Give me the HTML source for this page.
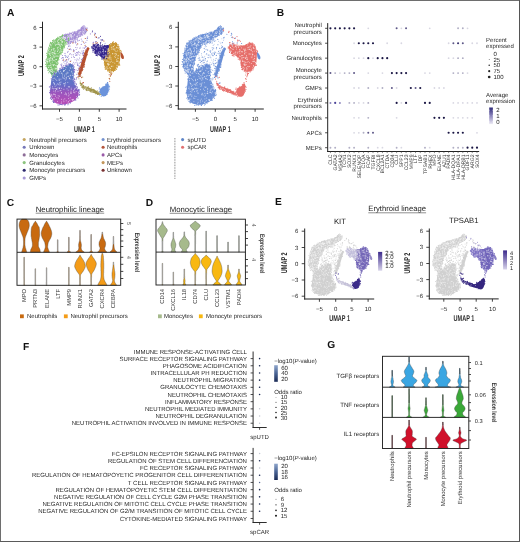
<!DOCTYPE html>
<html><head><meta charset="utf-8"><style>
html,body{margin:0;padding:0;background:#fff;}
svg{display:block;will-change:transform;}
text{font-family:"Liberation Sans", sans-serif;text-rendering:geometricPrecision;}
.t{stroke:#1e1e1e;stroke-width:0.1px;}
</style></head><body>
<svg width="520" height="542" viewBox="0 0 520 542">
<defs>
<linearGradient id="gB" x1="0" y1="0" x2="0" y2="1"><stop offset="0" stop-color="#2e2a78"/><stop offset="0.5" stop-color="#8d86bd"/><stop offset="1" stop-color="#eceaf4"/></linearGradient>
<linearGradient id="gE" x1="0" y1="0" x2="0" y2="1"><stop offset="0" stop-color="#3c2a8c"/><stop offset="1" stop-color="#d8d4ea"/></linearGradient>
<linearGradient id="gF" x1="0" y1="0" x2="0" y2="1"><stop offset="0" stop-color="#8fa6cc"/><stop offset="0.5" stop-color="#4a6494"/><stop offset="1" stop-color="#1a2a55"/></linearGradient>
<linearGradient id="gUnk" gradientUnits="userSpaceOnUse" x1="0" y1="74" x2="0" y2="102"><stop offset="0" stop-color="#5a78c4"/><stop offset="0.35" stop-color="#6270c8"/><stop offset="0.5" stop-color="#7464c4"/><stop offset="0.62" stop-color="#9656be"/><stop offset="1" stop-color="#b44eb8"/></linearGradient>
<linearGradient id="gGran" gradientUnits="userSpaceOnUse" x1="0" y1="36" x2="0" y2="76"><stop offset="0" stop-color="#80c472"/><stop offset="0.85" stop-color="#78c06a"/><stop offset="1" stop-color="#5a9a8a"/></linearGradient>
</defs>
<rect x="0" y="0" width="520" height="542" fill="#fff"/>
<rect x="0" y="0" width="520" height="1" fill="#6e6e6e"/>
<rect x="0" y="0" width="1" height="542" fill="#6e6e6e"/>
<rect x="519" y="0" width="1" height="542" fill="#555"/>
<rect x="0" y="541" width="520" height="1" fill="#5a5a5a"/>
<text transform="translate(6.9,15.9)" font-size="10.2" text-anchor="start" fill="#111" font-weight="bold">A</text>
<text transform="translate(276.7,15.9)" font-size="10.2" text-anchor="start" fill="#111" font-weight="bold">B</text>
<text transform="translate(6.7,205.5)" font-size="10.2" text-anchor="start" fill="#111" font-weight="bold">C</text>
<text transform="translate(145.7,205.7)" font-size="10.2" text-anchor="start" fill="#111" font-weight="bold">D</text>
<text transform="translate(275.1,205.4)" font-size="10.2" text-anchor="start" fill="#111" font-weight="bold">E</text>
<text transform="translate(23,349.5)" font-size="10.2" text-anchor="start" fill="#111" font-weight="bold">F</text>
<text transform="translate(327.3,348.1)" font-size="10.2" text-anchor="start" fill="#111" font-weight="bold">G</text>
<g transform="translate(0,0)">
<path d="M62.4,35.8 C61.07,36.1 59.32,37.1 58,37.8 C56.68,38.5 55.58,39.22 54.5,40 C53.42,40.78 52.33,41.67 51.5,42.5 C50.67,43.33 50.03,44 49.5,45 C48.97,46 48.63,47.33 48.3,48.5 C47.97,49.67 47.72,50.65 47.5,52 C47.28,53.35 47.17,55.1 47,56.6 C46.83,58.1 46.62,59.77 46.5,61 C46.38,62.23 46.25,62.92 46.3,64 C46.35,65.08 46.47,66.42 46.8,67.5 C47.13,68.58 47.72,69.55 48.3,70.5 C48.88,71.45 49.6,72.32 50.3,73.2 C51,74.08 51.72,75.42 52.5,75.8 C53.28,76.18 54.37,76.13 55,75.5 C55.63,74.87 56,73.25 56.3,72 C56.6,70.75 56.63,69.17 56.8,68 C56.97,66.83 57.13,65.88 57.3,65 C57.47,64.12 57.43,64.03 57.8,62.7 C58.17,61.37 58.75,59.03 59.5,57 C60.25,54.97 61.3,52.42 62.3,50.5 C63.3,48.58 64.55,47.08 65.5,45.5 C66.45,43.92 67.5,42.25 68,41 C68.5,39.75 68.83,38.83 68.5,38 C68.17,37.17 67.02,36.37 66,36 C64.98,35.63 63.73,35.5 62.4,35.8Z" fill="url(#gGran)"/>
<path d="M52.3,76.5 C52.95,75.37 54.17,74.2 55.2,73.2 C56.23,72.2 57.37,71.28 58.5,70.5 C59.63,69.72 60.82,69.2 62,68.5 C63.18,67.8 64.6,66.97 65.6,66.3 C66.6,65.63 67.27,64.93 68,64.5 C68.73,64.07 69.33,63.75 70,63.7 C70.67,63.65 71.43,63.9 72,64.2 C72.57,64.5 73.07,64.53 73.4,65.5 C73.73,66.47 73.93,68.42 74,70 C74.07,71.58 73.87,73.45 73.8,75 C73.73,76.55 73.48,77.97 73.6,79.3 C73.72,80.63 74.1,81.8 74.5,83 C74.9,84.2 75.47,85.53 76,86.5 C76.53,87.47 77.27,87.97 77.7,88.8 C78.13,89.63 78.45,90.48 78.6,91.5 C78.75,92.52 78.87,93.85 78.6,94.9 C78.33,95.95 77.58,96.95 77,97.8 C76.42,98.65 75.93,99.3 75.1,100 C74.27,100.7 73.15,101.42 72,102 C70.85,102.58 69.45,103.1 68.2,103.5 C66.95,103.9 65.65,104.25 64.5,104.4 C63.35,104.55 62.38,104.5 61.3,104.4 C60.22,104.3 59.02,104.08 58,103.8 C56.98,103.52 56.07,103.28 55.2,102.7 C54.33,102.12 53.52,101.32 52.8,100.3 C52.08,99.28 51.37,97.82 50.9,96.6 C50.43,95.38 50.1,94.35 50,93 C49.9,91.65 50.15,90 50.3,88.5 C50.45,87 50.73,85.42 50.9,84 C51.07,82.58 51.07,81.25 51.3,80 C51.53,78.75 51.65,77.63 52.3,76.5Z" fill="url(#gUnk)"/>
<path d="M62,36.5 C62,36 63,35.5 64,35 C65,34.5 66.67,33.92 68,33.5 C69.33,33.08 70.67,32.83 72,32.5 C73.33,32.17 74.9,31.83 76,31.5 C77.1,31.17 77.88,31 78.6,30.5 C79.32,30 79.82,29.12 80.3,28.5 C80.78,27.88 80.97,27.18 81.5,26.8 C82.03,26.42 82.83,26.17 83.5,26.2 C84.17,26.23 84.98,26.53 85.5,27 C86.02,27.47 86.47,28.25 86.6,29 C86.73,29.75 86.65,30.75 86.3,31.5 C85.95,32.25 85.22,32.92 84.5,33.5 C83.78,34.08 82.83,34.5 82,35 C81.17,35.5 80.33,35.92 79.5,36.5 C78.67,37.08 77.83,37.75 77,38.5 C76.17,39.25 75.33,40.33 74.5,41 C73.67,41.67 72.83,42.17 72,42.5 C71.17,42.83 70.25,43.08 69.5,43 C68.75,42.92 68.08,42.58 67.5,42 C66.92,41.42 66.58,40.17 66,39.5 C65.42,38.83 64.67,38.5 64,38 C63.33,37.5 62,37 62,36.5Z" fill="#a58ed6"/>
<path d="M92.2,47.1 C92.35,46.03 93.6,44.57 94.4,44.1 C95.2,43.63 96.13,44.17 97,44.3 C97.87,44.43 98.45,44.58 99.6,44.9 C100.75,45.22 102.6,45.68 103.9,46.2 C105.2,46.72 106.65,47.37 107.4,48 C108.15,48.63 108.27,49.28 108.4,50 C108.53,50.72 108.35,51.38 108.2,52.3 C108.05,53.22 107.78,54.5 107.5,55.5 C107.22,56.5 106.92,57.63 106.5,58.3 C106.08,58.97 105.43,59.35 105,59.5 C104.57,59.65 104.48,59.53 103.9,59.2 C103.32,58.87 102.22,58.08 101.5,57.5 C100.78,56.92 100.5,56.28 99.6,55.7 C98.7,55.12 96.95,54.53 96.1,54 C95.25,53.47 94.93,53.08 94.5,52.5 C94.07,51.92 93.88,51.4 93.5,50.5 C93.12,49.6 92.05,48.17 92.2,47.1Z" fill="#35268e"/>
<path d="M104,45.8 C104.5,44.8 107.33,45.33 108.5,45 C109.67,44.67 110.67,42.97 111,43.8 C111.33,44.63 110.87,48.13 110.5,50 C110.13,51.87 109.55,53.42 108.8,55 C108.05,56.58 106.72,59.17 106,59.5 C105.28,59.83 104.58,58.42 104.5,57 C104.42,55.58 105.58,52.87 105.5,51 C105.42,49.13 103.5,46.8 104,45.8Z" fill="#35268e"/>
<path d="M110.8,43.6 C111.65,43.07 113.22,42.65 114.3,42.8 C115.38,42.95 116.43,43.63 117.3,44.5 C118.17,45.37 119,46.75 119.5,48 C120,49.25 120.17,50.85 120.3,52 C120.43,53.15 120.37,53.27 120.3,54.9 C120.23,56.53 120.13,60.2 119.9,61.8 C119.67,63.4 119.23,63.68 118.9,64.5 C118.57,65.32 118.42,65.9 117.9,66.7 C117.38,67.5 116.52,68.58 115.8,69.3 C115.08,70.02 114.55,70.58 113.6,71 C112.65,71.42 111.03,71.83 110.1,71.8 C109.17,71.77 108.57,71.23 108,70.8 C107.43,70.37 107.17,69.83 106.7,69.2 C106.23,68.57 105.63,67.72 105.2,67 C104.77,66.28 104.32,65.73 104.1,64.9 C103.88,64.07 103.78,62.9 103.9,62 C104.02,61.1 104.3,60.4 104.8,59.5 C105.3,58.6 106.4,57.68 106.9,56.6 C107.4,55.52 107.58,54.15 107.8,53 C108.02,51.85 107.97,50.87 108.2,49.7 C108.43,48.53 108.77,47.02 109.2,46 C109.63,44.98 109.95,44.13 110.8,43.6Z" fill="#c99632"/>
<path d="M120.6,51.8 C120.85,51.3 121.77,52.72 122.3,53.5 C122.83,54.28 123.58,55.62 123.8,56.5 C124.02,57.38 123.9,58.42 123.6,58.8 C123.3,59.18 122.47,59.18 122,58.8 C121.53,58.42 121.03,57.67 120.8,56.5 C120.57,55.33 120.35,52.3 120.6,51.8Z" fill="#b5502f"/>
<path d="M100.6,88.3 C101.13,87.7 102.27,87.23 103,86.8 C103.73,86.37 104.25,86.32 105,85.7 C105.75,85.08 106.87,83.25 107.5,83.1 C108.13,82.95 108.58,83.98 108.8,84.8 C109.02,85.62 108.93,86.7 108.8,88 C108.67,89.3 108.3,91.5 108,92.6 C107.7,93.7 107.37,94.02 107,94.6 C106.63,95.18 106.43,95.78 105.8,96.1 C105.17,96.42 103.92,96.58 103.2,96.5 C102.48,96.42 101.93,95.97 101.5,95.6 C101.07,95.23 100.88,94.82 100.6,94.3 C100.32,93.78 99.93,93.15 99.8,92.5 C99.67,91.85 99.67,91.1 99.8,90.4 C99.93,89.7 100.07,88.9 100.6,88.3Z" fill="#6b93db"/>
<path d="M80.7,83.1 C81.23,83.15 82.75,85.02 84.2,85.8 C85.65,86.58 87.82,87.17 89.4,87.8 C90.98,88.43 92.43,89.03 93.7,89.6 C94.97,90.17 96.13,90.75 97,91.2 C97.87,91.65 98.43,91.78 98.9,92.3 C99.37,92.82 100.03,93.97 99.8,94.3 C99.57,94.63 98.23,94.43 97.5,94.3 C96.77,94.17 96.28,93.8 95.4,93.5 C94.52,93.2 93.07,92.8 92.2,92.5 C91.33,92.2 90.98,92.02 90.2,91.7 C89.42,91.38 88.22,90.88 87.5,90.6 C86.78,90.32 86.55,90.33 85.9,90 C85.25,89.67 84.17,89.03 83.6,88.6 C83.03,88.17 82.93,87.92 82.5,87.4 C82.07,86.88 81.3,86.22 81,85.5 C80.7,84.78 80.17,83.05 80.7,83.1Z" fill="#a0944a"/>
<path d="M87.2,47.4 C87.73,47.1 89.07,47.43 89.2,48.2 C89.33,48.97 88.43,50.53 88,52 C87.57,53.47 87.07,55.33 86.6,57 C86.13,58.67 85.68,60.42 85.2,62 C84.72,63.58 84.23,65 83.7,66.5 C83.17,68 82.52,69.58 82,71 C81.48,72.42 81,74 80.6,75 C80.2,76 79.97,76.75 79.6,77 C79.23,77.25 78.57,77.17 78.4,76.5 C78.23,75.83 78.4,74.33 78.6,73 C78.8,71.67 79.18,70.08 79.6,68.5 C80.02,66.92 80.57,65.25 81.1,63.5 C81.63,61.75 82.22,59.75 82.8,58 C83.38,56.25 84.07,54.33 84.6,53 C85.13,51.67 85.57,50.93 86,50 C86.43,49.07 86.67,47.7 87.2,47.4Z" fill="#b5502f"/>
<path d="M48.0 51.0h0M46.9 55.3h0M65.8 35.8h0M49.6 45.1h0M62.1 50.7h0M67.2 42.5h0M62.2 51.7h0M62.4 35.7h0M62.8 35.9h0M47.9 70.5h0M56.4 71.3h0M56.7 69.7h0M55.4 75.1h0M56.4 38.5h0M45.5 64.2h0M57.7 64.1h0M48.1 49.9h0M48.6 48.3h0M46.5 61.2h0M45.9 61.3h0M58.1 63.3h0M46.6 53.3h0M61.1 53.7h0M62.6 52.0h0M69.0 37.8h0M56.3 71.8h0M50.6 42.4h0M66.0 44.5h0M56.7 69.5h0M46.1 59.2h0M53.8 39.9h0M68.6 38.6h0M59.3 36.7h0M50.3 43.1h0M67.2 42.6h0M63.4 36.1h0M57.4 64.4h0M50.2 43.3h0M57.0 68.0h0M51.5 76.0h0M60.4 36.9h0M50.2 43.8h0M46.5 61.2h0M59.0 59.8h0M61.8 52.6h0M68.6 39.1h0M57.6 37.2h0M67.0 35.5h0M62.7 34.9h0M61.8 52.4h0M48.7 47.5h0M56.9 69.7h0M68.2 38.0h0M50.9 42.8h0M68.4 40.5h0M46.4 62.2h0M61.3 54.0h0M64.6 47.0h0M45.7 61.3h0M46.1 66.4h0M57.9 62.5h0M46.5 59.0h0M68.7 40.3h0M64.0 47.9h0M62.1 35.4h0M53.4 41.0h0M62.9 49.7h0M62.7 50.5h0M52.5 40.6h0M48.7 72.7h0" stroke="#7cc26c" stroke-width="1.1" stroke-linecap="round" fill="none"/>
<path d="M78.0 98.0h0M73.7 74.8h0M54.8 71.9h0M70.5 102.9h0M72.8 64.0h0M62.3 67.8h0M62.7 68.2h0M74.1 67.0h0M53.6 102.5h0M51.4 99.5h0M77.0 86.5h0M60.3 68.2h0M52.2 98.8h0M62.1 67.6h0M78.2 89.9h0M50.5 86.0h0M50.3 92.3h0M79.1 91.2h0M74.1 66.8h0M73.8 80.7h0M64.6 104.8h0M56.9 70.8h0M65.7 104.0h0M74.7 81.5h0M58.1 104.9h0M75.8 99.9h0M62.4 67.9h0M73.9 75.3h0M78.3 90.6h0M50.2 90.6h0M53.5 101.1h0M51.2 78.8h0M79.6 94.2h0M64.9 105.1h0M79.2 90.1h0M67.9 104.7h0M52.2 98.6h0M79.3 92.6h0M69.5 64.1h0M49.6 92.8h0M76.0 86.8h0M74.5 79.6h0M60.3 104.5h0M73.4 65.5h0M74.5 69.4h0M61.3 104.5h0M53.5 102.0h0M76.4 84.7h0M49.4 86.9h0M50.4 98.2h0M74.9 100.0h0M74.4 78.2h0M54.1 74.0h0M54.4 73.4h0M62.2 104.8h0M75.0 83.1h0M68.8 103.8h0M59.8 68.9h0M76.2 83.8h0M52.4 101.0h0M77.4 87.6h0M77.4 96.6h0M65.0 104.8h0M74.6 72.1h0M65.8 65.2h0M49.8 92.2h0M50.8 97.3h0M63.5 67.3h0M74.2 71.2h0M75.6 86.1h0M79.0 89.3h0M62.3 67.8h0M59.5 104.7h0M74.0 70.6h0M54.2 102.4h0M66.6 65.1h0M60.1 69.3h0M79.3 95.1h0M79.1 95.3h0M52.8 75.7h0" stroke="#7a60c4" stroke-width="1.1" stroke-linecap="round" fill="none"/>
<path d="M84.8 33.9h0M75.9 39.4h0M77.3 38.7h0M75.0 31.8h0M68.3 43.4h0M78.6 37.3h0M72.9 32.0h0M80.4 36.1h0M66.4 40.9h0M63.7 38.1h0M69.1 43.7h0M77.9 30.4h0M86.5 31.5h0M77.2 38.8h0M70.5 43.4h0M84.6 34.1h0M80.9 35.7h0M80.0 36.4h0M79.0 30.1h0M74.9 40.5h0M67.7 41.9h0M65.7 40.9h0M82.7 34.9h0M82.6 26.2h0M87.0 27.7h0M86.7 30.9h0M69.8 32.7h0M80.3 36.1h0M74.3 31.8h0M78.7 30.1h0M70.2 43.5h0M62.2 37.0h0M83.9 25.6h0M73.8 42.4h0M63.1 37.8h0M87.1 28.6h0M84.8 26.3h0M65.3 39.1h0M64.2 34.5h0M65.7 34.1h0M81.4 44.5h0M78.0 72.8h0M65.0 53.4h0M71.6 57.3h0M77.8 40.9h0M73.7 62.2h0M79.6 66.7h0M74.1 51.8h0M84.3 43.3h0M73.9 81.5h0M66.6 60.0h0M75.6 41.6h0M74.7 64.0h0M63.8 62.0h0M63.3 59.0h0M79.8 55.1h0M73.8 42.1h0M82.4 58.4h0M68.1 64.4h0M84.9 33.0h0M69.8 49.4h0M61.6 66.3h0M85.5 32.0h0M86.5 49.2h0M83.7 50.5h0M62.6 60.2h0M75.6 42.9h0M85.8 46.6h0M61.5 65.6h0M65.0 63.7h0M67.7 44.1h0M67.7 48.3h0M75.9 62.6h0M60.8 64.7h0M82.3 35.1h0M61.7 58.3h0M85.8 32.7h0M79.9 66.4h0M70.4 48.9h0M77.9 53.1h0M70.5 63.5h0M79.1 69.8h0M70.9 60.7h0M85.0 47.5h0M78.9 69.0h0M68.9 58.3h0M78.3 68.1h0M76.5 52.6h0M67.0 59.7h0M81.6 61.2h0M62.6 57.5h0M75.7 47.5h0M71.8 54.8h0M69.8 41.8h0M83.5 52.7h0M70.2 53.6h0M77.4 52.6h0M77.4 64.6h0M83.5 56.7h0M79.2 52.3h0M74.2 50.5h0M63.6 65.6h0M84.5 48.5h0M77.2 47.8h0M77.3 39.8h0M76.4 78.1h0M83.1 55.5h0M79.9 48.5h0M75.9 79.7h0M81.3 39.1h0M62.9 66.2h0M77.6 70.5h0M76.2 49.5h0M105.1 43.2h0M98.1 38.1h0M94.9 33.0h0M93.6 42.4h0M96.2 44.0h0M101.3 40.8h0M95.2 37.0h0M93.1 42.2h0M90.4 33.9h0M92.2 32.1h0" stroke="#a58ed6" stroke-width="1.1" stroke-linecap="round" fill="none"/>
<path d="M107.7 47.2h0M106.2 58.7h0M101.8 58.9h0M97.2 44.3h0M96.5 54.8h0M92.8 48.9h0M93.0 52.1h0M95.7 55.0h0M91.8 48.0h0M98.5 44.9h0M97.6 55.7h0M94.9 53.1h0M93.5 50.2h0M98.5 44.3h0M95.5 53.5h0M107.6 47.0h0M106.6 58.3h0M108.8 54.6h0M107.9 56.0h0M91.8 47.2h0M103.0 58.9h0M92.9 50.6h0M93.9 44.4h0M105.5 46.9h0M106.7 47.1h0M107.2 56.5h0M101.6 57.5h0M96.9 43.6h0M96.6 55.4h0M102.5 44.9h0M104.2 45.5h0M105.3 47.1h0M108.5 52.9h0M93.0 45.0h0M103.3 46.3h0M104.4 45.4h0M93.9 44.5h0M107.2 57.1h0M94.7 52.9h0M91.8 46.6h0M102.7 40.0h0M100.5 43.9h0M95.3 33.8h0M92.5 31.1h0M100.7 42.6h0M101.1 39.7h0M96.0 41.5h0M100.5 36.3h0M99.0 37.8h0M102.4 39.9h0" stroke="#35268e" stroke-width="1.1" stroke-linecap="round" fill="none"/>
<path d="M118.7 64.3h0M109.5 44.6h0M106.4 69.0h0M113.4 41.9h0M106.4 57.4h0M115.3 70.3h0M106.0 69.5h0M103.8 59.8h0M120.3 50.3h0M119.3 63.9h0M112.6 42.4h0M104.9 67.2h0M105.6 58.0h0M115.6 42.6h0M113.6 71.6h0M116.3 43.4h0M107.3 51.1h0M114.3 70.4h0M105.2 68.9h0M107.4 52.0h0M108.1 49.6h0M121.1 51.4h0M106.4 68.6h0M118.2 44.9h0M119.7 65.0h0M110.7 44.0h0M118.8 65.0h0M119.8 65.1h0M107.7 70.6h0M117.1 67.6h0M116.6 69.5h0M120.9 50.7h0M105.6 68.8h0M104.4 58.7h0M105.6 68.8h0M107.4 53.8h0M113.6 70.8h0M118.9 46.6h0M106.9 56.6h0M105.4 56.8h0M108.9 71.1h0M105.5 66.9h0M110.0 44.7h0M117.9 44.5h0M107.8 70.9h0M109.1 45.3h0M103.5 59.9h0M116.6 43.4h0M106.1 57.4h0M120.1 53.2h0M109.1 78.3h0M110.8 72.8h0M110.9 73.7h0M109.4 72.4h0M112.0 73.1h0M110.3 76.4h0M111.0 73.9h0" stroke="#c99632" stroke-width="1.1" stroke-linecap="round" fill="none"/>
<path d="M109.6 86.9h0M107.4 82.6h0M107.7 82.6h0M109.2 86.1h0M101.3 96.3h0M108.3 89.8h0M107.8 92.3h0M99.5 94.9h0M108.8 91.0h0M106.3 83.9h0M99.3 89.0h0M108.6 90.9h0M99.6 87.8h0M103.1 86.6h0M109.4 89.1h0M105.8 84.4h0M107.0 94.4h0M108.6 90.1h0M99.7 91.2h0M99.7 92.2h0" stroke="#6b93db" stroke-width="1.1" stroke-linecap="round" fill="none"/>
<path d="M88.2 86.6h0M80.2 82.7h0M98.4 94.5h0M87.0 90.6h0M97.5 94.5h0M97.2 90.9h0M81.7 83.9h0M91.3 87.9h0M80.7 85.2h0M80.9 83.3h0M80.3 83.3h0M81.9 87.3h0M98.6 92.0h0M86.2 90.1h0M82.8 87.6h0M95.6 93.8h0M91.1 92.1h0M88.0 87.4h0M83.5 85.3h0M81.7 86.9h0M80.2 83.7h0M92.7 89.3h0M83.5 89.1h0M97.3 94.3h0M80.3 82.8h0M94.1 89.6h0M99.6 93.9h0M82.9 88.2h0M100.4 94.6h0M93.7 89.4h0" stroke="#a0944a" stroke-width="1.1" stroke-linecap="round" fill="none"/>
<path d="M79.8 67.7h0M84.3 65.8h0M85.9 49.7h0M82.3 60.3h0M82.2 70.8h0M89.0 48.8h0M79.7 68.3h0M85.0 52.2h0M84.6 64.5h0M82.6 69.2h0M81.4 73.0h0M82.9 69.6h0M83.4 55.5h0M79.2 68.8h0M78.2 74.1h0M84.2 66.9h0M83.5 67.1h0M84.4 53.5h0M80.5 62.2h0M83.8 55.2h0M79.2 69.1h0M84.3 53.5h0M85.6 51.1h0M80.7 75.0h0M78.0 77.2h0M82.5 70.6h0M78.5 73.1h0M87.5 54.8h0M79.0 70.0h0M78.0 76.9h0M63.7 60.1h0M69.2 49.3h0M70.3 61.5h0M81.3 62.8h0M66.3 59.7h0M85.3 38.5h0M72.9 42.9h0M83.6 42.0h0M83.4 58.1h0M85.1 45.3h0M73.4 51.0h0M77.7 43.9h0M87.1 30.3h0M94.6 34.9h0M86.7 29.4h0M96.5 37.4h0M103.9 41.0h0M93.1 43.7h0M95.8 42.9h0M97.4 42.8h0M96.1 36.8h0M96.2 43.0h0M109.7 78.9h0M109.2 74.7h0M111.0 72.7h0M109.8 81.2h0M110.8 75.5h0M109.6 78.7h0M111.2 74.4h0M80.7 76.5h0M83.5 82.6h0M81.5 77.6h0M83.1 82.7h0M82.5 83.1h0" stroke="#b5502f" stroke-width="1.1" stroke-linecap="round" fill="none"/>
<path d="M73.4 54.8h0M80.1 68.7h0M69.7 54.3h0M82.8 58.5h0M76.9 55.3h0M76.7 74.3h0M80.8 53.1h0M68.7 42.3h0M68.7 46.4h0M76.4 54.8h0M78.1 65.1h0M87.0 40.2h0M79.2 40.4h0M74.4 57.5h0M66.8 65.3h0M82.6 53.9h0M66.7 62.0h0M67.6 52.2h0M77.1 59.1h0M73.8 70.5h0M73.8 70.0h0M76.7 44.9h0M75.9 42.2h0M62.4 55.5h0M76.7 60.7h0" stroke="#9a86d2" stroke-width="1.1" stroke-linecap="round" fill="none"/>
<path d="M83.6 53.9h0M67.6 62.1h0M59.8 68.3h0M75.3 53.6h0M81.2 44.2h0M78.8 59.9h0M75.6 40.1h0M78.7 75.4h0M68.7 63.6h0M87.6 36.9h0M85.3 47.0h0M83.1 47.9h0M75.0 59.7h0M78.0 54.2h0M80.6 62.5h0M87.3 37.3h0M70.0 46.1h0M73.3 65.3h0M76.0 69.9h0M71.2 49.8h0M66.6 63.3h0M80.1 47.2h0M76.3 79.2h0M83.7 33.3h0" stroke="#b4a0dc" stroke-width="1.1" stroke-linecap="round" fill="none"/>
<path d="M85.5 32.6h0M82.4 53.0h0M81.6 59.6h0M73.6 56.7h0M61.8 64.1h0M65.2 65.4h0M79.6 58.0h0M85.8 42.3h0M82.0 51.0h0M79.1 66.1h0M68.5 59.8h0M86.1 46.6h0M84.0 55.0h0M65.7 57.2h0M65.0 61.2h0M77.3 63.1h0M74.9 82.1h0M76.4 77.7h0M77.7 65.4h0M79.2 63.1h0M65.5 60.7h0M62.0 67.7h0M68.1 51.3h0M78.4 51.7h0" stroke="#8c80cc" stroke-width="1.1" stroke-linecap="round" fill="none"/>
<path d="M65.1 55.4h0M75.8 55.3h0M68.2 56.1h0M67.4 57.5h0M66.1 56.3h0M63.1 57.6h0M83.4 52.1h0M87.3 38.4h0M73.6 49.9h0M69.0 45.0h0M82.1 41.1h0M85.9 31.8h0" stroke="#7a7ccc" stroke-width="1.1" stroke-linecap="round" fill="none"/>
<path d="M79.8 76.0h0M78.9 78.8h0M82.7 77.1h0M79.4 76.0h0M80.2 81.0h0" stroke="#a89a55" stroke-width="1.1" stroke-linecap="round" fill="none"/>
<path d="M62.2 38.2h0M61.0 43.8h0M50.6 51.9h0M60.2 46.7h0M52.2 59.0h0M57.6 51.4h0M60.0 44.9h0M60.4 48.3h0M62.8 41.5h0M65.7 38.3h0M59.4 55.2h0M54.6 57.2h0M56.3 68.2h0M57.3 51.3h0M49.6 59.0h0M60.3 46.0h0M51.0 45.6h0M52.5 59.0h0M55.0 68.1h0M56.6 59.4h0M55.4 54.0h0M47.7 69.2h0M48.0 58.2h0M62.4 41.7h0M59.7 44.8h0M55.0 51.4h0M48.5 53.2h0M48.3 50.8h0M64.1 37.6h0M49.5 54.4h0M52.2 71.2h0M49.7 60.6h0M52.3 43.8h0M55.2 61.8h0M49.6 58.8h0M62.2 42.2h0M53.0 56.9h0M51.9 58.7h0M64.7 44.1h0M55.9 53.4h0M59.5 37.7h0M63.1 39.0h0M52.5 72.5h0M58.4 42.7h0M55.1 56.0h0M47.3 61.0h0M61.9 37.8h0M60.6 38.6h0M58.0 44.4h0M51.4 49.9h0M65.3 44.1h0M50.2 59.2h0M56.5 68.8h0M49.6 61.1h0M57.2 56.1h0M50.9 65.3h0M62.4 45.2h0M53.7 65.8h0M50.8 70.4h0M62.1 42.5h0M49.5 47.4h0M56.3 59.6h0M58.5 39.9h0M61.4 51.4h0M49.0 48.4h0M67.4 37.9h0M54.8 40.9h0M57.6 41.5h0M64.4 42.1h0M55.9 65.3h0M48.0 61.7h0M56.9 63.7h0M53.2 48.4h0M63.7 37.5h0M48.0 49.8h0M49.1 49.4h0M47.1 62.3h0M49.1 70.4h0M50.7 65.7h0M52.4 70.4h0M51.0 64.4h0M53.3 49.5h0M56.1 56.3h0M59.9 52.0h0M55.1 69.6h0M51.9 52.2h0M50.1 55.5h0M49.1 65.9h0M52.4 58.3h0M49.9 53.8h0M50.3 44.8h0M51.0 53.6h0M46.5 61.5h0M58.1 50.4h0M52.2 62.7h0M48.1 65.6h0M55.9 65.7h0M57.1 44.3h0M57.5 48.3h0M59.8 52.6h0M47.8 61.9h0M49.5 70.0h0M51.4 67.1h0M67.4 40.2h0M58.5 44.5h0M53.8 60.5h0M53.8 50.4h0M56.7 62.5h0M52.8 59.7h0M51.2 50.3h0M50.7 63.3h0M53.3 55.6h0M55.4 59.7h0M53.0 68.9h0M61.0 37.4h0M53.9 53.4h0M48.3 50.8h0M53.9 41.7h0M55.2 44.7h0M66.7 42.9h0M54.8 56.9h0M64.2 39.0h0M59.0 56.2h0M51.7 68.8h0M66.5 42.8h0M49.2 60.6h0M54.1 54.8h0M65.3 44.1h0M58.7 39.8h0M63.7 47.9h0M58.2 43.0h0M61.7 39.6h0M51.1 45.0h0M57.3 40.4h0M49.6 51.8h0M56.6 66.0h0M54.0 75.1h0M54.6 53.5h0M52.3 69.3h0M47.5 61.4h0M58.1 49.5h0M52.7 64.8h0M58.6 47.2h0M57.3 47.5h0M53.9 71.4h0M61.6 44.3h0M48.6 59.2h0M52.2 72.0h0M58.0 43.1h0M50.4 57.6h0M50.0 60.9h0M64.5 37.6h0M58.0 56.3h0M56.2 44.5h0M54.3 64.7h0M50.0 70.1h0M53.4 74.0h0M62.9 37.9h0M55.5 73.1h0M65.5 38.0h0M51.8 49.6h0M60.5 40.5h0M61.8 40.5h0M59.2 43.0h0M53.9 64.5h0M59.9 38.8h0M57.5 61.8h0M51.4 71.7h0M55.3 68.4h0M58.1 53.6h0M54.8 43.1h0M61.3 44.7h0M64.3 39.6h0M50.2 67.4h0M65.3 40.7h0M54.2 60.3h0M60.4 50.0h0M49.7 62.0h0M50.1 71.0h0M52.3 52.9h0M49.6 53.4h0M50.6 58.1h0M55.1 50.6h0M52.4 52.6h0M51.5 69.6h0M54.1 48.9h0M51.2 57.0h0M59.2 39.1h0M52.3 61.0h0M63.4 36.6h0M52.6 74.9h0M54.5 53.0h0M49.7 65.7h0M50.4 55.2h0M51.2 47.1h0M59.6 45.0h0M48.3 67.3h0M51.0 60.5h0M53.5 52.4h0M47.6 59.4h0M61.6 41.7h0M51.1 71.4h0M65.1 45.5h0M54.7 52.0h0M53.8 64.9h0M64.5 39.2h0M52.3 54.4h0M56.9 55.9h0M49.3 47.3h0M49.0 47.1h0M61.7 49.9h0M53.7 57.0h0M54.1 48.6h0M55.6 45.6h0M54.1 72.1h0M60.1 51.3h0M47.6 63.2h0M50.6 44.7h0M55.8 68.7h0M51.0 67.5h0M50.9 69.5h0M49.0 69.4h0M53.4 65.5h0M50.5 71.9h0M63.1 38.3h0M60.1 48.3h0M49.1 46.8h0M55.7 41.8h0M53.6 42.6h0M48.4 67.5h0M64.8 85.3h0M54.1 83.2h0M58.6 71.9h0M73.4 92.2h0M76.4 96.7h0M71.2 88.2h0M66.4 78.9h0M66.5 77.3h0M52.5 86.8h0M64.2 70.8h0M55.4 94.8h0M63.4 70.9h0M66.1 73.6h0M64.4 86.2h0M63.9 89.3h0M55.3 96.3h0M70.6 93.2h0M53.0 80.3h0M72.9 79.8h0M76.6 87.3h0M70.2 97.8h0M53.4 82.6h0M68.3 95.9h0M59.6 88.5h0M68.0 65.7h0M68.1 102.2h0M70.7 68.4h0M64.8 98.8h0M59.2 84.9h0M62.7 74.2h0M74.6 88.8h0M58.2 95.8h0M71.3 93.3h0M57.0 89.1h0M60.7 71.4h0M57.6 83.9h0M52.3 88.3h0M61.6 93.0h0M66.0 77.9h0M77.6 89.3h0M60.5 84.7h0M60.9 79.2h0M52.2 96.2h0M62.4 76.0h0M75.6 88.2h0M67.2 73.2h0M66.2 93.8h0M73.6 90.7h0M68.3 86.7h0M76.1 91.5h0M60.1 82.9h0M63.9 101.7h0M61.6 102.0h0M61.4 88.4h0M68.0 76.5h0M65.0 94.4h0M65.3 80.0h0M61.9 73.1h0M68.2 90.2h0M59.5 82.9h0M59.8 73.1h0M74.3 89.7h0M63.6 78.1h0M74.2 92.2h0M58.6 84.2h0M59.5 96.2h0M64.6 70.6h0M56.6 89.4h0M68.4 98.6h0M73.0 99.8h0M67.1 72.2h0M53.1 78.4h0M63.4 83.7h0M54.3 98.8h0M71.0 91.2h0M71.8 71.2h0M77.0 88.1h0M68.0 64.9h0M56.9 97.8h0M67.0 88.8h0M78.4 92.6h0M67.8 82.4h0M55.3 91.8h0M56.8 80.4h0M73.3 99.4h0M60.9 90.5h0M64.4 83.7h0M56.6 88.8h0M74.3 84.2h0M56.0 88.6h0M71.5 71.9h0M53.1 98.8h0M69.8 100.4h0M71.2 89.4h0M53.2 94.6h0M52.8 100.1h0M64.4 78.7h0M71.0 92.7h0M72.5 75.3h0M68.6 101.6h0M72.7 99.8h0M65.1 83.9h0M55.8 79.3h0M64.4 75.2h0M63.3 68.3h0M52.5 99.6h0M56.2 85.0h0M63.6 71.0h0M59.2 79.9h0M72.0 99.5h0M57.5 76.5h0M69.1 94.9h0M70.2 67.7h0M59.8 87.8h0M72.5 67.8h0M65.6 93.0h0M69.4 78.3h0M61.0 82.1h0M55.6 90.4h0M58.0 91.3h0M51.7 95.6h0M69.7 78.7h0M57.9 87.9h0M65.6 82.7h0M54.3 94.5h0M69.3 70.3h0M60.1 90.8h0M51.6 94.4h0M69.2 78.0h0M72.3 73.2h0M61.2 103.4h0M73.0 75.2h0M54.6 84.6h0M63.8 100.0h0M69.6 86.8h0M72.8 100.3h0M70.9 79.1h0M57.4 101.4h0M61.5 99.3h0M55.1 86.3h0M76.4 98.5h0M59.1 79.0h0M66.6 94.8h0M56.4 72.8h0M66.1 67.6h0M62.7 77.8h0M61.4 92.6h0M54.3 83.6h0M59.3 88.3h0M65.7 69.4h0M70.7 75.3h0M70.1 75.8h0M69.0 87.0h0M53.8 91.2h0M54.7 78.2h0M64.7 76.7h0M68.3 76.3h0M53.4 88.8h0M68.4 93.1h0M66.2 74.8h0M58.2 71.3h0M63.5 71.2h0M68.1 72.9h0M59.2 80.4h0M55.0 88.5h0M74.9 92.8h0M61.7 73.3h0M58.3 98.1h0M66.2 100.8h0M53.9 93.8h0M110.8 44.7h0M112.9 66.2h0M107.3 67.0h0M109.8 67.4h0M111.6 61.2h0M111.3 66.2h0M108.7 64.7h0M117.1 65.9h0M117.0 65.3h0M113.7 46.6h0M107.6 64.2h0M108.4 63.7h0M110.9 57.7h0M118.2 58.5h0M109.1 62.0h0M119.4 62.1h0M116.7 47.3h0M117.1 47.9h0M116.8 61.1h0M116.2 54.2h0M111.1 59.2h0M115.0 50.3h0M112.9 62.4h0M113.0 49.0h0M114.1 49.7h0M116.7 59.4h0M111.6 49.1h0M105.9 59.9h0M108.6 49.1h0M119.0 62.1h0M110.7 68.6h0M108.3 53.8h0M114.9 48.8h0M109.4 52.4h0M117.9 55.8h0M117.7 61.4h0M111.7 66.5h0M120.1 51.2h0M106.7 57.2h0M116.4 61.2h0M112.7 53.7h0M118.4 48.1h0M112.1 47.0h0M117.8 58.1h0M117.9 60.9h0M110.0 55.3h0M109.7 64.3h0M117.4 45.5h0M110.3 70.8h0M118.5 55.7h0M110.0 56.8h0M107.4 61.0h0M107.5 57.4h0M114.4 45.3h0M119.5 49.7h0M114.2 53.8h0M104.1 63.9h0M113.2 49.1h0M108.2 64.8h0M115.5 57.4h0M110.0 59.0h0M109.4 57.1h0M109.3 50.3h0M106.4 67.0h0M116.3 54.2h0M111.3 47.4h0M118.9 63.8h0M112.6 53.7h0M110.1 68.7h0M105.9 61.1h0M108.4 65.0h0M115.8 55.6h0M108.2 61.7h0M116.3 67.5h0M107.5 63.6h0M114.7 56.7h0M117.7 50.9h0M109.0 58.2h0M107.9 68.5h0M116.0 51.5h0M108.6 48.7h0M108.9 57.8h0M106.9 69.0h0M113.4 46.7h0M108.8 71.1h0M116.9 47.8h0M110.5 62.1h0M114.8 63.2h0M115.7 53.6h0M106.4 61.1h0M94.5 50.6h0M103.4 53.1h0M98.8 46.0h0M96.0 45.8h0M105.7 51.3h0M102.1 47.0h0M105.6 55.1h0M105.4 58.2h0M99.4 53.9h0M103.7 56.1h0M97.5 46.9h0M100.0 46.9h0M106.3 55.3h0M107.1 48.9h0M98.6 52.4h0M102.9 55.7h0M94.7 48.3h0M100.9 52.8h0M99.3 45.5h0M93.4 49.8h0M102.9 49.2h0M102.4 51.6h0M95.0 44.5h0M108.0 53.1h0M105.2 51.3h0M100.1 48.8h0M93.9 47.2h0M108.0 49.9h0M101.9 57.7h0M103.3 50.8h0M105.5 57.2h0M105.6 51.8h0M100.6 51.8h0M103.6 49.8h0M103.3 51.4h0M98.3 53.7h0M96.9 53.1h0M96.2 48.9h0M105.0 55.4h0M108.3 50.4h0M96.5 44.4h0M105.0 47.6h0M94.0 47.3h0M99.1 51.7h0M99.3 46.4h0M95.8 45.6h0M96.8 49.0h0M101.7 46.5h0M108.1 51.5h0M94.6 51.2h0M76.5 38.2h0M75.2 40.1h0M70.7 36.8h0M71.8 40.6h0M82.8 33.9h0M79.2 31.8h0M80.3 31.5h0M69.3 39.0h0M69.0 36.8h0M82.7 33.1h0M74.6 34.9h0M70.4 34.5h0M71.3 34.9h0M73.2 38.0h0M78.4 33.6h0M71.2 36.9h0M85.2 27.5h0M73.5 39.9h0M63.5 36.4h0M85.8 30.1h0M67.6 35.9h0M72.5 41.1h0M69.8 35.1h0M74.3 40.4h0M65.1 38.0h0M79.3 35.2h0M71.2 35.5h0M85.9 31.8h0M74.8 40.0h0M84.4 27.0h0M66.6 40.4h0M79.9 33.1h0M70.4 35.3h0M76.1 32.4h0M69.8 35.9h0M69.4 37.7h0M68.0 35.2h0M73.3 36.1h0M70.3 40.6h0M72.1 36.4h0M68.5 33.5h0M84.6 30.9h0M84.1 32.5h0M82.7 30.0h0M77.4 36.5h0M71.5 34.9h0M69.4 42.4h0M73.2 39.9h0M73.1 32.8h0M79.8 33.0h0M76.7 36.4h0M70.3 40.7h0M80.1 35.1h0M84.3 28.4h0M71.9 36.2h0M71.5 37.3h0M83.0 31.4h0M65.4 37.3h0M74.5 34.9h0M72.4 33.6h0M84.2 29.4h0M72.5 33.5h0M83.1 27.1h0M77.3 36.1h0M81.0 31.8h0M68.6 36.8h0M80.4 28.9h0M71.0 36.4h0M79.0 32.8h0M67.8 37.4h0M72.5 40.6h0M71.7 38.0h0M83.0 33.1h0M69.4 41.3h0M83.3 31.6h0M78.1 35.1h0M76.1 38.9h0M70.0 33.0h0M71.5 40.2h0M77.9 37.4h0M91.4 92.0h0M92.8 91.2h0M84.3 86.8h0M81.5 86.0h0M82.4 85.7h0M87.7 89.3h0M98.1 92.1h0M84.0 88.3h0M85.6 88.1h0M86.7 87.9h0M89.0 90.0h0M85.3 89.1h0" stroke="#fff" stroke-width="0.9" stroke-linecap="round" fill="none" stroke-opacity="0.7"/>
</g>
<line x1="42.5" y1="21.7" x2="42.5" y2="109.5" stroke="#222" stroke-width="1"/>
<line x1="42" y1="109" x2="126.5" y2="109" stroke="#222" stroke-width="1"/>
<line x1="39.5" y1="27.5" x2="42.5" y2="27.5" stroke="#222" stroke-width="0.85"/>
<text transform="translate(36.5,29.6)" font-size="6" text-anchor="end" fill="#262626" font-weight="normal">6</text>
<line x1="39.5" y1="47.1" x2="42.5" y2="47.1" stroke="#222" stroke-width="0.85"/>
<text transform="translate(36.5,49.2)" font-size="6" text-anchor="end" fill="#262626" font-weight="normal">3</text>
<line x1="39.5" y1="66.7" x2="42.5" y2="66.7" stroke="#222" stroke-width="0.85"/>
<text transform="translate(36.5,68.8)" font-size="6" text-anchor="end" fill="#262626" font-weight="normal">0</text>
<line x1="39.5" y1="86.1" x2="42.5" y2="86.1" stroke="#222" stroke-width="0.85"/>
<text transform="translate(36.5,88.2)" font-size="6" text-anchor="end" fill="#262626" font-weight="normal">−3</text>
<line x1="39.5" y1="105.8" x2="42.5" y2="105.8" stroke="#222" stroke-width="0.85"/>
<text transform="translate(36.5,107.9)" font-size="6" text-anchor="end" fill="#262626" font-weight="normal">−6</text>
<line x1="59.5" y1="109" x2="59.5" y2="111.8" stroke="#222" stroke-width="0.85"/>
<text transform="translate(59.5,120.9)" font-size="6" text-anchor="middle" fill="#262626" font-weight="normal">−5</text>
<line x1="79.4" y1="109" x2="79.4" y2="111.8" stroke="#222" stroke-width="0.85"/>
<text transform="translate(79.4,120.9)" font-size="6" text-anchor="middle" fill="#262626" font-weight="normal">0</text>
<line x1="99.3" y1="109" x2="99.3" y2="111.8" stroke="#222" stroke-width="0.85"/>
<text transform="translate(99.3,120.9)" font-size="6" text-anchor="middle" fill="#262626" font-weight="normal">5</text>
<line x1="119.1" y1="109" x2="119.1" y2="111.8" stroke="#222" stroke-width="0.85"/>
<text transform="translate(119.1,120.9)" font-size="6" text-anchor="middle" fill="#262626" font-weight="normal">10</text>
<text transform="translate(84.5,131.9) scale(0.66,1)" font-size="8.4" text-anchor="middle" fill="#2a2a2a" font-weight="bold">UMAP 1</text>
<text transform="translate(23.8,65.6) rotate(-90) scale(0.66,1)" font-size="8.4" text-anchor="middle" fill="#2a2a2a" font-weight="bold">UMAP 2</text>
<g transform="translate(136.5,0.3)">
<path d="M62.4,35.8 C61.07,36.1 59.32,37.1 58,37.8 C56.68,38.5 55.58,39.22 54.5,40 C53.42,40.78 52.33,41.67 51.5,42.5 C50.67,43.33 50.03,44 49.5,45 C48.97,46 48.63,47.33 48.3,48.5 C47.97,49.67 47.72,50.65 47.5,52 C47.28,53.35 47.17,55.1 47,56.6 C46.83,58.1 46.62,59.77 46.5,61 C46.38,62.23 46.25,62.92 46.3,64 C46.35,65.08 46.47,66.42 46.8,67.5 C47.13,68.58 47.72,69.55 48.3,70.5 C48.88,71.45 49.6,72.32 50.3,73.2 C51,74.08 51.72,75.42 52.5,75.8 C53.28,76.18 54.37,76.13 55,75.5 C55.63,74.87 56,73.25 56.3,72 C56.6,70.75 56.63,69.17 56.8,68 C56.97,66.83 57.13,65.88 57.3,65 C57.47,64.12 57.43,64.03 57.8,62.7 C58.17,61.37 58.75,59.03 59.5,57 C60.25,54.97 61.3,52.42 62.3,50.5 C63.3,48.58 64.55,47.08 65.5,45.5 C66.45,43.92 67.5,42.25 68,41 C68.5,39.75 68.83,38.83 68.5,38 C68.17,37.17 67.02,36.37 66,36 C64.98,35.63 63.73,35.5 62.4,35.8Z" fill="#6a8fd6"/>
<path d="M52.3,76.5 C52.95,75.37 54.17,74.2 55.2,73.2 C56.23,72.2 57.37,71.28 58.5,70.5 C59.63,69.72 60.82,69.2 62,68.5 C63.18,67.8 64.6,66.97 65.6,66.3 C66.6,65.63 67.27,64.93 68,64.5 C68.73,64.07 69.33,63.75 70,63.7 C70.67,63.65 71.43,63.9 72,64.2 C72.57,64.5 73.07,64.53 73.4,65.5 C73.73,66.47 73.93,68.42 74,70 C74.07,71.58 73.87,73.45 73.8,75 C73.73,76.55 73.48,77.97 73.6,79.3 C73.72,80.63 74.1,81.8 74.5,83 C74.9,84.2 75.47,85.53 76,86.5 C76.53,87.47 77.27,87.97 77.7,88.8 C78.13,89.63 78.45,90.48 78.6,91.5 C78.75,92.52 78.87,93.85 78.6,94.9 C78.33,95.95 77.58,96.95 77,97.8 C76.42,98.65 75.93,99.3 75.1,100 C74.27,100.7 73.15,101.42 72,102 C70.85,102.58 69.45,103.1 68.2,103.5 C66.95,103.9 65.65,104.25 64.5,104.4 C63.35,104.55 62.38,104.5 61.3,104.4 C60.22,104.3 59.02,104.08 58,103.8 C56.98,103.52 56.07,103.28 55.2,102.7 C54.33,102.12 53.52,101.32 52.8,100.3 C52.08,99.28 51.37,97.82 50.9,96.6 C50.43,95.38 50.1,94.35 50,93 C49.9,91.65 50.15,90 50.3,88.5 C50.45,87 50.73,85.42 50.9,84 C51.07,82.58 51.07,81.25 51.3,80 C51.53,78.75 51.65,77.63 52.3,76.5Z" fill="#6a8fd6"/>
<path d="M62,36.5 C62,36 63,35.5 64,35 C65,34.5 66.67,33.92 68,33.5 C69.33,33.08 70.67,32.83 72,32.5 C73.33,32.17 74.9,31.83 76,31.5 C77.1,31.17 77.88,31 78.6,30.5 C79.32,30 79.82,29.12 80.3,28.5 C80.78,27.88 80.97,27.18 81.5,26.8 C82.03,26.42 82.83,26.17 83.5,26.2 C84.17,26.23 84.98,26.53 85.5,27 C86.02,27.47 86.47,28.25 86.6,29 C86.73,29.75 86.65,30.75 86.3,31.5 C85.95,32.25 85.22,32.92 84.5,33.5 C83.78,34.08 82.83,34.5 82,35 C81.17,35.5 80.33,35.92 79.5,36.5 C78.67,37.08 77.83,37.75 77,38.5 C76.17,39.25 75.33,40.33 74.5,41 C73.67,41.67 72.83,42.17 72,42.5 C71.17,42.83 70.25,43.08 69.5,43 C68.75,42.92 68.08,42.58 67.5,42 C66.92,41.42 66.58,40.17 66,39.5 C65.42,38.83 64.67,38.5 64,38 C63.33,37.5 62,37 62,36.5Z" fill="#6a8fd6"/>
<path d="M92.2,47.1 C92.35,46.03 93.6,44.57 94.4,44.1 C95.2,43.63 96.13,44.17 97,44.3 C97.87,44.43 98.45,44.58 99.6,44.9 C100.75,45.22 102.6,45.68 103.9,46.2 C105.2,46.72 106.65,47.37 107.4,48 C108.15,48.63 108.27,49.28 108.4,50 C108.53,50.72 108.35,51.38 108.2,52.3 C108.05,53.22 107.78,54.5 107.5,55.5 C107.22,56.5 106.92,57.63 106.5,58.3 C106.08,58.97 105.43,59.35 105,59.5 C104.57,59.65 104.48,59.53 103.9,59.2 C103.32,58.87 102.22,58.08 101.5,57.5 C100.78,56.92 100.5,56.28 99.6,55.7 C98.7,55.12 96.95,54.53 96.1,54 C95.25,53.47 94.93,53.08 94.5,52.5 C94.07,51.92 93.88,51.4 93.5,50.5 C93.12,49.6 92.05,48.17 92.2,47.1Z" fill="#e66e6a"/>
<path d="M104,45.8 C104.5,44.8 107.33,45.33 108.5,45 C109.67,44.67 110.67,42.97 111,43.8 C111.33,44.63 110.87,48.13 110.5,50 C110.13,51.87 109.55,53.42 108.8,55 C108.05,56.58 106.72,59.17 106,59.5 C105.28,59.83 104.58,58.42 104.5,57 C104.42,55.58 105.58,52.87 105.5,51 C105.42,49.13 103.5,46.8 104,45.8Z" fill="#e66e6a"/>
<path d="M110.8,43.6 C111.65,43.07 113.22,42.65 114.3,42.8 C115.38,42.95 116.43,43.63 117.3,44.5 C118.17,45.37 119,46.75 119.5,48 C120,49.25 120.17,50.85 120.3,52 C120.43,53.15 120.37,53.27 120.3,54.9 C120.23,56.53 120.13,60.2 119.9,61.8 C119.67,63.4 119.23,63.68 118.9,64.5 C118.57,65.32 118.42,65.9 117.9,66.7 C117.38,67.5 116.52,68.58 115.8,69.3 C115.08,70.02 114.55,70.58 113.6,71 C112.65,71.42 111.03,71.83 110.1,71.8 C109.17,71.77 108.57,71.23 108,70.8 C107.43,70.37 107.17,69.83 106.7,69.2 C106.23,68.57 105.63,67.72 105.2,67 C104.77,66.28 104.32,65.73 104.1,64.9 C103.88,64.07 103.78,62.9 103.9,62 C104.02,61.1 104.3,60.4 104.8,59.5 C105.3,58.6 106.4,57.68 106.9,56.6 C107.4,55.52 107.58,54.15 107.8,53 C108.02,51.85 107.97,50.87 108.2,49.7 C108.43,48.53 108.77,47.02 109.2,46 C109.63,44.98 109.95,44.13 110.8,43.6Z" fill="#e66e6a"/>
<path d="M120.6,51.8 C120.85,51.3 121.77,52.72 122.3,53.5 C122.83,54.28 123.58,55.62 123.8,56.5 C124.02,57.38 123.9,58.42 123.6,58.8 C123.3,59.18 122.47,59.18 122,58.8 C121.53,58.42 121.03,57.67 120.8,56.5 C120.57,55.33 120.35,52.3 120.6,51.8Z" fill="#6a8fd6"/>
<path d="M100.6,88.3 C101.13,87.7 102.27,87.23 103,86.8 C103.73,86.37 104.25,86.32 105,85.7 C105.75,85.08 106.87,83.25 107.5,83.1 C108.13,82.95 108.58,83.98 108.8,84.8 C109.02,85.62 108.93,86.7 108.8,88 C108.67,89.3 108.3,91.5 108,92.6 C107.7,93.7 107.37,94.02 107,94.6 C106.63,95.18 106.43,95.78 105.8,96.1 C105.17,96.42 103.92,96.58 103.2,96.5 C102.48,96.42 101.93,95.97 101.5,95.6 C101.07,95.23 100.88,94.82 100.6,94.3 C100.32,93.78 99.93,93.15 99.8,92.5 C99.67,91.85 99.67,91.1 99.8,90.4 C99.93,89.7 100.07,88.9 100.6,88.3Z" fill="#e66e6a"/>
<path d="M80.7,83.1 C81.23,83.15 82.75,85.02 84.2,85.8 C85.65,86.58 87.82,87.17 89.4,87.8 C90.98,88.43 92.43,89.03 93.7,89.6 C94.97,90.17 96.13,90.75 97,91.2 C97.87,91.65 98.43,91.78 98.9,92.3 C99.37,92.82 100.03,93.97 99.8,94.3 C99.57,94.63 98.23,94.43 97.5,94.3 C96.77,94.17 96.28,93.8 95.4,93.5 C94.52,93.2 93.07,92.8 92.2,92.5 C91.33,92.2 90.98,92.02 90.2,91.7 C89.42,91.38 88.22,90.88 87.5,90.6 C86.78,90.32 86.55,90.33 85.9,90 C85.25,89.67 84.17,89.03 83.6,88.6 C83.03,88.17 82.93,87.92 82.5,87.4 C82.07,86.88 81.3,86.22 81,85.5 C80.7,84.78 80.17,83.05 80.7,83.1Z" fill="#e66e6a"/>
<path d="M87.2,47.4 C87.73,47.1 89.07,47.43 89.2,48.2 C89.33,48.97 88.43,50.53 88,52 C87.57,53.47 87.07,55.33 86.6,57 C86.13,58.67 85.68,60.42 85.2,62 C84.72,63.58 84.23,65 83.7,66.5 C83.17,68 82.52,69.58 82,71 C81.48,72.42 81,74 80.6,75 C80.2,76 79.97,76.75 79.6,77 C79.23,77.25 78.57,77.17 78.4,76.5 C78.23,75.83 78.4,74.33 78.6,73 C78.8,71.67 79.18,70.08 79.6,68.5 C80.02,66.92 80.57,65.25 81.1,63.5 C81.63,61.75 82.22,59.75 82.8,58 C83.38,56.25 84.07,54.33 84.6,53 C85.13,51.67 85.57,50.93 86,50 C86.43,49.07 86.67,47.7 87.2,47.4Z" fill="#6a8fd6"/>
<path d="M48.0 51.0h0M46.9 55.3h0M65.8 35.8h0M49.6 45.1h0M62.1 50.7h0M67.2 42.5h0M62.2 51.7h0M62.4 35.7h0M62.8 35.9h0M47.9 70.5h0M56.4 71.3h0M56.7 69.7h0M55.4 75.1h0M56.4 38.5h0M45.5 64.2h0M57.7 64.1h0M48.1 49.9h0M48.6 48.3h0M46.5 61.2h0M45.9 61.3h0M58.1 63.3h0M46.6 53.3h0M61.1 53.7h0M62.6 52.0h0M69.0 37.8h0M56.3 71.8h0M50.6 42.4h0M66.0 44.5h0M56.7 69.5h0M46.1 59.2h0M53.8 39.9h0M68.6 38.6h0M59.3 36.7h0M50.3 43.1h0M67.2 42.6h0M63.4 36.1h0M57.4 64.4h0M50.2 43.3h0M57.0 68.0h0M51.5 76.0h0M60.4 36.9h0M50.2 43.8h0M46.5 61.2h0M59.0 59.8h0M61.8 52.6h0M68.6 39.1h0M57.6 37.2h0M67.0 35.5h0M62.7 34.9h0M61.8 52.4h0M48.7 47.5h0M56.9 69.7h0M68.2 38.0h0M50.9 42.8h0M68.4 40.5h0M46.4 62.2h0M61.3 54.0h0M64.6 47.0h0M45.7 61.3h0M46.1 66.4h0M57.9 62.5h0M46.5 59.0h0M68.7 40.3h0M64.0 47.9h0M62.1 35.4h0M53.4 41.0h0M62.9 49.7h0M62.7 50.5h0M52.5 40.6h0M48.7 72.7h0M78.0 98.0h0M73.7 74.8h0M54.8 71.9h0M70.5 102.9h0M72.8 64.0h0M62.3 67.8h0M62.7 68.2h0M74.1 67.0h0M53.6 102.5h0M51.4 99.5h0M77.0 86.5h0M60.3 68.2h0M52.2 98.8h0M62.1 67.6h0M78.2 89.9h0M50.5 86.0h0M50.3 92.3h0M79.1 91.2h0M74.1 66.8h0M73.8 80.7h0M64.6 104.8h0M56.9 70.8h0M65.7 104.0h0M74.7 81.5h0M58.1 104.9h0M75.8 99.9h0M62.4 67.9h0M73.9 75.3h0M78.3 90.6h0M50.2 90.6h0M53.5 101.1h0M51.2 78.8h0M79.6 94.2h0M64.9 105.1h0M79.2 90.1h0M67.9 104.7h0M52.2 98.6h0M79.3 92.6h0M69.5 64.1h0M49.6 92.8h0M76.0 86.8h0M74.5 79.6h0M60.3 104.5h0M73.4 65.5h0M74.5 69.4h0M61.3 104.5h0M53.5 102.0h0M76.4 84.7h0M49.4 86.9h0M50.4 98.2h0M74.9 100.0h0M74.4 78.2h0M54.1 74.0h0M54.4 73.4h0M62.2 104.8h0M75.0 83.1h0M68.8 103.8h0M59.8 68.9h0M76.2 83.8h0M52.4 101.0h0M77.4 87.6h0M77.4 96.6h0M65.0 104.8h0M74.6 72.1h0M65.8 65.2h0M49.8 92.2h0M50.8 97.3h0M63.5 67.3h0M74.2 71.2h0M75.6 86.1h0M79.0 89.3h0M62.3 67.8h0M59.5 104.7h0M74.0 70.6h0M54.2 102.4h0M66.6 65.1h0M60.1 69.3h0M79.3 95.1h0M79.1 95.3h0M52.8 75.7h0M84.8 33.9h0M75.9 39.4h0M77.3 38.7h0M75.0 31.8h0M68.3 43.4h0M78.6 37.3h0M72.9 32.0h0M80.4 36.1h0M66.4 40.9h0M63.7 38.1h0M69.1 43.7h0M77.9 30.4h0M86.5 31.5h0M77.2 38.8h0M70.5 43.4h0M84.6 34.1h0M80.9 35.7h0M80.0 36.4h0M79.0 30.1h0M74.9 40.5h0M67.7 41.9h0M65.7 40.9h0M82.7 34.9h0M82.6 26.2h0M87.0 27.7h0M86.7 30.9h0M69.8 32.7h0M80.3 36.1h0M74.3 31.8h0M78.7 30.1h0M70.2 43.5h0M62.2 37.0h0M83.9 25.6h0M73.8 42.4h0M63.1 37.8h0M87.1 28.6h0M84.8 26.3h0M65.3 39.1h0M64.2 34.5h0M65.7 34.1h0M79.8 67.7h0M84.3 65.8h0M85.9 49.7h0M82.3 60.3h0M82.2 70.8h0M89.0 48.8h0M79.7 68.3h0M85.0 52.2h0M84.6 64.5h0M82.6 69.2h0M81.4 73.0h0M82.9 69.6h0M83.4 55.5h0M79.2 68.8h0M78.2 74.1h0M84.2 66.9h0M83.5 67.1h0M84.4 53.5h0M80.5 62.2h0M83.8 55.2h0M79.2 69.1h0M84.3 53.5h0M85.6 51.1h0M80.7 75.0h0M78.0 77.2h0M82.5 70.6h0M78.5 73.1h0M87.5 54.8h0M79.0 70.0h0M78.0 76.9h0M81.4 44.5h0M78.0 72.8h0M85.5 32.6h0M71.6 57.3h0M77.8 40.9h0M67.6 62.1h0M82.4 53.0h0M79.6 66.7h0M74.1 51.8h0M81.6 59.6h0M73.9 81.5h0M66.6 60.0h0M75.3 53.6h0M73.6 56.7h0M74.7 64.0h0M63.8 62.0h0M61.8 64.1h0M79.8 55.1h0M73.8 42.1h0M78.8 59.9h0M65.2 65.4h0M68.1 64.4h0M84.9 33.0h0M79.6 58.0h0M61.6 66.3h0M85.5 32.0h0M78.7 75.4h0M85.8 42.3h0M83.7 50.5h0M62.6 60.2h0M82.0 51.0h0M85.8 46.6h0M61.5 65.6h0M87.6 36.9h0M79.1 66.1h0M67.7 44.1h0M67.7 48.3h0M68.5 59.8h0M60.8 64.7h0M82.3 35.1h0M83.1 47.9h0M86.1 46.6h0M85.8 32.7h0M79.9 66.4h0M84.0 55.0h0M77.9 53.1h0M70.5 63.5h0M78.0 54.2h0M65.7 57.2h0M70.9 60.7h0M85.0 47.5h0M65.0 61.2h0M68.9 58.3h0M78.3 68.1h0M87.3 37.3h0M77.3 63.1h0M67.0 59.7h0M81.6 61.2h0M74.9 82.1h0M75.7 47.5h0M71.8 54.8h0M73.3 65.3h0M76.4 77.7h0M83.5 52.7h0M70.2 53.6h0M77.7 65.4h0M77.4 64.6h0M83.5 56.7h0M71.2 49.8h0M79.2 63.1h0M74.2 50.5h0M63.6 65.6h0M65.5 60.7h0M77.2 47.8h0M77.3 39.8h0M80.1 47.2h0M62.0 67.7h0M83.1 55.5h0M79.9 48.5h0M68.1 51.3h0M81.3 39.1h0M62.9 66.2h0M83.7 33.3h0M78.4 51.7h0M76.2 49.5h0M105.1 43.2h0M102.7 40.0h0M94.6 34.9h0M94.9 33.0h0M95.3 33.8h0M96.5 37.4h0M96.2 44.0h0M100.7 42.6h0M93.1 43.7h0M95.2 37.0h0M96.0 41.5h0M97.4 42.8h0M90.4 33.9h0M99.0 37.8h0M96.2 43.0h0M80.7 76.5h0M83.5 82.6h0M81.5 77.6h0M83.1 82.7h0M82.5 83.1h0" stroke="#6a8fd6" stroke-width="1.1" stroke-linecap="round" fill="none"/>
<path d="M107.7 47.2h0M106.2 58.7h0M101.8 58.9h0M97.2 44.3h0M96.5 54.8h0M92.8 48.9h0M93.0 52.1h0M95.7 55.0h0M91.8 48.0h0M98.5 44.9h0M97.6 55.7h0M94.9 53.1h0M93.5 50.2h0M98.5 44.3h0M95.5 53.5h0M107.6 47.0h0M106.6 58.3h0M108.8 54.6h0M107.9 56.0h0M91.8 47.2h0M103.0 58.9h0M92.9 50.6h0M93.9 44.4h0M105.5 46.9h0M106.7 47.1h0M107.2 56.5h0M101.6 57.5h0M96.9 43.6h0M96.6 55.4h0M102.5 44.9h0M104.2 45.5h0M105.3 47.1h0M108.5 52.9h0M93.0 45.0h0M103.3 46.3h0M104.4 45.4h0M93.9 44.5h0M107.2 57.1h0M94.7 52.9h0M91.8 46.6h0M118.7 64.3h0M109.5 44.6h0M106.4 69.0h0M113.4 41.9h0M106.4 57.4h0M115.3 70.3h0M106.0 69.5h0M103.8 59.8h0M120.3 50.3h0M119.3 63.9h0M112.6 42.4h0M104.9 67.2h0M105.6 58.0h0M115.6 42.6h0M113.6 71.6h0M116.3 43.4h0M107.3 51.1h0M114.3 70.4h0M105.2 68.9h0M107.4 52.0h0M108.1 49.6h0M121.1 51.4h0M106.4 68.6h0M118.2 44.9h0M119.7 65.0h0M110.7 44.0h0M118.8 65.0h0M119.8 65.1h0M107.7 70.6h0M117.1 67.6h0M116.6 69.5h0M120.9 50.7h0M105.6 68.8h0M104.4 58.7h0M105.6 68.8h0M107.4 53.8h0M113.6 70.8h0M118.9 46.6h0M106.9 56.6h0M105.4 56.8h0M108.9 71.1h0M105.5 66.9h0M110.0 44.7h0M117.9 44.5h0M107.8 70.9h0M109.1 45.3h0M103.5 59.9h0M116.6 43.4h0M106.1 57.4h0M120.1 53.2h0M109.6 86.9h0M107.4 82.6h0M107.7 82.6h0M109.2 86.1h0M101.3 96.3h0M108.3 89.8h0M107.8 92.3h0M99.5 94.9h0M108.8 91.0h0M106.3 83.9h0M99.3 89.0h0M108.6 90.9h0M99.6 87.8h0M103.1 86.6h0M109.4 89.1h0M105.8 84.4h0M107.0 94.4h0M108.6 90.1h0M99.7 91.2h0M99.7 92.2h0M88.2 86.6h0M80.2 82.7h0M98.4 94.5h0M87.0 90.6h0M97.5 94.5h0M97.2 90.9h0M81.7 83.9h0M91.3 87.9h0M80.7 85.2h0M80.9 83.3h0M80.3 83.3h0M81.9 87.3h0M98.6 92.0h0M86.2 90.1h0M82.8 87.6h0M95.6 93.8h0M91.1 92.1h0M88.0 87.4h0M83.5 85.3h0M81.7 86.9h0M80.2 83.7h0M92.7 89.3h0M83.5 89.1h0M97.3 94.3h0M80.3 82.8h0M94.1 89.6h0M99.6 93.9h0M82.9 88.2h0M100.4 94.6h0M93.7 89.4h0M87.1 30.3h0M98.1 38.1h0M100.5 43.9h0M86.7 29.4h0M93.6 42.4h0M92.5 31.1h0M103.9 41.0h0M101.3 40.8h0M101.1 39.7h0M95.8 42.9h0M93.1 42.2h0M100.5 36.3h0M96.1 36.8h0M92.2 32.1h0M102.4 39.9h0M109.1 78.3h0M109.7 78.9h0M110.8 72.8h0M109.2 74.7h0M110.9 73.7h0M111.0 72.7h0M109.4 72.4h0M109.8 81.2h0M112.0 73.1h0M110.8 75.5h0M110.3 76.4h0M109.6 78.7h0M111.0 73.9h0M111.2 74.4h0M79.8 76.0h0M78.9 78.8h0M82.7 77.1h0M79.4 76.0h0M80.2 81.0h0" stroke="#e66e6a" stroke-width="1.1" stroke-linecap="round" fill="none"/>
<path d="M73.4 54.8h0M65.0 53.4h0M80.1 68.7h0M63.7 60.1h0M59.8 68.3h0M75.8 55.3h0M75.6 41.6h0M76.9 55.3h0M63.3 59.0h0M76.7 74.3h0M70.3 61.5h0M75.6 40.1h0M67.4 57.5h0M86.5 49.2h0M68.7 46.4h0M75.6 42.9h0M76.4 54.8h0M66.3 59.7h0M85.3 47.0h0M63.1 57.6h0M61.7 58.3h0M79.2 40.4h0M70.4 48.9h0M74.4 57.5h0M72.9 42.9h0M80.6 62.5h0M87.3 38.4h0M76.5 52.6h0M66.7 62.0h0M62.6 57.5h0M67.6 52.2h0M83.4 58.1h0M76.0 69.9h0M69.0 45.0h0M79.2 52.3h0M73.8 70.0h0M84.5 48.5h0M76.7 44.9h0M73.4 51.0h0M76.3 79.2h0M85.9 31.8h0M77.6 70.5h0M76.7 60.7h0" stroke="#9db5e3" stroke-width="1.1" stroke-linecap="round" fill="none"/>
<path d="M83.6 53.9h0M65.1 55.4h0M73.7 62.2h0M69.7 54.3h0M84.3 43.3h0M82.8 58.5h0M69.2 49.3h0M81.2 44.2h0M68.2 56.1h0M82.4 58.4h0M80.8 53.1h0M69.8 49.4h0M68.7 42.3h0M81.3 62.8h0M68.7 63.6h0M66.1 56.3h0M65.0 63.7h0M78.1 65.1h0M75.9 62.6h0M87.0 40.2h0M85.3 38.5h0M75.0 59.7h0M83.4 52.1h0M79.1 69.8h0M66.8 65.3h0M78.9 69.0h0M82.6 53.9h0M83.6 42.0h0M70.0 46.1h0M73.6 49.9h0M69.8 41.8h0M77.1 59.1h0M77.4 52.6h0M73.8 70.5h0M85.1 45.3h0M66.6 63.3h0M82.1 41.1h0M76.4 78.1h0M75.9 42.2h0M75.9 79.7h0M62.4 55.5h0M77.7 43.9h0" stroke="#c5d3ee" stroke-width="1.1" stroke-linecap="round" fill="none"/>
<path d="M62.2 38.2h0M61.0 43.8h0M50.6 51.9h0M60.2 46.7h0M52.2 59.0h0M57.6 51.4h0M60.0 44.9h0M60.4 48.3h0M62.8 41.5h0M65.7 38.3h0M59.4 55.2h0M54.6 57.2h0M56.3 68.2h0M57.3 51.3h0M49.6 59.0h0M60.3 46.0h0M51.0 45.6h0M52.5 59.0h0M55.0 68.1h0M56.6 59.4h0M55.4 54.0h0M47.7 69.2h0M48.0 58.2h0M62.4 41.7h0M59.7 44.8h0M55.0 51.4h0M48.5 53.2h0M48.3 50.8h0M64.1 37.6h0M49.5 54.4h0M52.2 71.2h0M49.7 60.6h0M52.3 43.8h0M55.2 61.8h0M49.6 58.8h0M62.2 42.2h0M53.0 56.9h0M51.9 58.7h0M64.7 44.1h0M55.9 53.4h0M59.5 37.7h0M63.1 39.0h0M52.5 72.5h0M58.4 42.7h0M55.1 56.0h0M47.3 61.0h0M61.9 37.8h0M60.6 38.6h0M58.0 44.4h0M51.4 49.9h0M65.3 44.1h0M50.2 59.2h0M56.5 68.8h0M49.6 61.1h0M57.2 56.1h0M50.9 65.3h0M62.4 45.2h0M53.7 65.8h0M50.8 70.4h0M62.1 42.5h0M49.5 47.4h0M56.3 59.6h0M58.5 39.9h0M61.4 51.4h0M49.0 48.4h0M67.4 37.9h0M54.8 40.9h0M57.6 41.5h0M64.4 42.1h0M55.9 65.3h0M48.0 61.7h0M56.9 63.7h0M53.2 48.4h0M63.7 37.5h0M48.0 49.8h0M49.1 49.4h0M47.1 62.3h0M49.1 70.4h0M50.7 65.7h0M52.4 70.4h0M51.0 64.4h0M53.3 49.5h0M56.1 56.3h0M59.9 52.0h0M55.1 69.6h0M51.9 52.2h0M50.1 55.5h0M49.1 65.9h0M52.4 58.3h0M49.9 53.8h0M50.3 44.8h0M51.0 53.6h0M46.5 61.5h0M58.1 50.4h0M52.2 62.7h0M48.1 65.6h0M55.9 65.7h0M57.1 44.3h0M57.5 48.3h0M59.8 52.6h0M47.8 61.9h0M49.5 70.0h0M51.4 67.1h0M67.4 40.2h0M58.5 44.5h0M53.8 60.5h0M53.8 50.4h0M56.7 62.5h0M52.8 59.7h0M51.2 50.3h0M50.7 63.3h0M53.3 55.6h0M55.4 59.7h0M53.0 68.9h0M61.0 37.4h0M53.9 53.4h0M48.3 50.8h0M53.9 41.7h0M55.2 44.7h0M66.7 42.9h0M54.8 56.9h0M64.2 39.0h0M59.0 56.2h0M51.7 68.8h0M66.5 42.8h0M49.2 60.6h0M54.1 54.8h0M65.3 44.1h0M58.7 39.8h0M63.7 47.9h0M58.2 43.0h0M61.7 39.6h0M51.1 45.0h0M57.3 40.4h0M49.6 51.8h0M56.6 66.0h0M54.0 75.1h0M54.6 53.5h0M52.3 69.3h0M47.5 61.4h0M58.1 49.5h0M52.7 64.8h0M58.6 47.2h0M57.3 47.5h0M53.9 71.4h0M61.6 44.3h0M48.6 59.2h0M52.2 72.0h0M58.0 43.1h0M50.4 57.6h0M50.0 60.9h0M64.5 37.6h0M58.0 56.3h0M56.2 44.5h0M54.3 64.7h0M50.0 70.1h0M53.4 74.0h0M62.9 37.9h0M55.5 73.1h0M65.5 38.0h0M51.8 49.6h0M60.5 40.5h0M61.8 40.5h0M59.2 43.0h0M53.9 64.5h0M59.9 38.8h0M57.5 61.8h0M51.4 71.7h0M55.3 68.4h0M58.1 53.6h0M54.8 43.1h0M61.3 44.7h0M64.3 39.6h0M50.2 67.4h0M65.3 40.7h0M54.2 60.3h0M60.4 50.0h0M49.7 62.0h0M50.1 71.0h0M52.3 52.9h0M49.6 53.4h0M50.6 58.1h0M55.1 50.6h0M52.4 52.6h0M51.5 69.6h0M54.1 48.9h0M51.2 57.0h0M59.2 39.1h0M52.3 61.0h0M63.4 36.6h0M52.6 74.9h0M54.5 53.0h0M49.7 65.7h0M50.4 55.2h0M51.2 47.1h0M59.6 45.0h0M48.3 67.3h0M51.0 60.5h0M53.5 52.4h0M47.6 59.4h0M61.6 41.7h0M51.1 71.4h0M65.1 45.5h0M54.7 52.0h0M53.8 64.9h0M64.5 39.2h0M52.3 54.4h0M56.9 55.9h0M49.3 47.3h0M49.0 47.1h0M61.7 49.9h0M53.7 57.0h0M54.1 48.6h0M55.6 45.6h0M54.1 72.1h0M60.1 51.3h0M47.6 63.2h0M50.6 44.7h0M55.8 68.7h0M51.0 67.5h0M50.9 69.5h0M49.0 69.4h0M53.4 65.5h0M50.5 71.9h0M63.1 38.3h0M60.1 48.3h0M49.1 46.8h0M55.7 41.8h0M53.6 42.6h0M48.4 67.5h0M64.8 85.3h0M54.1 83.2h0M58.6 71.9h0M73.4 92.2h0M76.4 96.7h0M71.2 88.2h0M66.4 78.9h0M66.5 77.3h0M52.5 86.8h0M64.2 70.8h0M55.4 94.8h0M63.4 70.9h0M66.1 73.6h0M64.4 86.2h0M63.9 89.3h0M55.3 96.3h0M70.6 93.2h0M53.0 80.3h0M72.9 79.8h0M76.6 87.3h0M70.2 97.8h0M53.4 82.6h0M68.3 95.9h0M59.6 88.5h0M68.0 65.7h0M68.1 102.2h0M70.7 68.4h0M64.8 98.8h0M59.2 84.9h0M62.7 74.2h0M74.6 88.8h0M58.2 95.8h0M71.3 93.3h0M57.0 89.1h0M60.7 71.4h0M57.6 83.9h0M52.3 88.3h0M61.6 93.0h0M66.0 77.9h0M77.6 89.3h0M60.5 84.7h0M60.9 79.2h0M52.2 96.2h0M62.4 76.0h0M75.6 88.2h0M67.2 73.2h0M66.2 93.8h0M73.6 90.7h0M68.3 86.7h0M76.1 91.5h0M60.1 82.9h0M63.9 101.7h0M61.6 102.0h0M61.4 88.4h0M68.0 76.5h0M65.0 94.4h0M65.3 80.0h0M61.9 73.1h0M68.2 90.2h0M59.5 82.9h0M59.8 73.1h0M74.3 89.7h0M63.6 78.1h0M74.2 92.2h0M58.6 84.2h0M59.5 96.2h0M64.6 70.6h0M56.6 89.4h0M68.4 98.6h0M73.0 99.8h0M67.1 72.2h0M53.1 78.4h0M63.4 83.7h0M54.3 98.8h0M71.0 91.2h0M71.8 71.2h0M77.0 88.1h0M68.0 64.9h0M56.9 97.8h0M67.0 88.8h0M78.4 92.6h0M67.8 82.4h0M55.3 91.8h0M56.8 80.4h0M73.3 99.4h0M60.9 90.5h0M64.4 83.7h0M56.6 88.8h0M74.3 84.2h0M56.0 88.6h0M71.5 71.9h0M53.1 98.8h0M69.8 100.4h0M71.2 89.4h0M53.2 94.6h0M52.8 100.1h0M64.4 78.7h0M71.0 92.7h0M72.5 75.3h0M68.6 101.6h0M72.7 99.8h0M65.1 83.9h0M55.8 79.3h0M64.4 75.2h0M63.3 68.3h0M52.5 99.6h0M56.2 85.0h0M63.6 71.0h0M59.2 79.9h0M72.0 99.5h0M57.5 76.5h0M69.1 94.9h0M70.2 67.7h0M59.8 87.8h0M72.5 67.8h0M65.6 93.0h0M69.4 78.3h0M61.0 82.1h0M55.6 90.4h0M58.0 91.3h0M51.7 95.6h0M69.7 78.7h0M57.9 87.9h0M65.6 82.7h0M54.3 94.5h0M69.3 70.3h0M60.1 90.8h0M51.6 94.4h0M69.2 78.0h0M72.3 73.2h0M61.2 103.4h0M73.0 75.2h0M54.6 84.6h0M63.8 100.0h0M69.6 86.8h0M72.8 100.3h0M70.9 79.1h0M57.4 101.4h0M61.5 99.3h0M55.1 86.3h0M76.4 98.5h0M59.1 79.0h0M66.6 94.8h0M56.4 72.8h0M66.1 67.6h0M62.7 77.8h0M61.4 92.6h0M54.3 83.6h0M59.3 88.3h0M65.7 69.4h0M70.7 75.3h0M70.1 75.8h0M69.0 87.0h0M53.8 91.2h0M54.7 78.2h0M64.7 76.7h0M68.3 76.3h0M53.4 88.8h0M68.4 93.1h0M66.2 74.8h0M58.2 71.3h0M63.5 71.2h0M68.1 72.9h0M59.2 80.4h0M55.0 88.5h0M74.9 92.8h0M61.7 73.3h0M58.3 98.1h0M66.2 100.8h0M53.9 93.8h0M110.8 44.7h0M112.9 66.2h0M107.3 67.0h0M109.8 67.4h0M111.6 61.2h0M111.3 66.2h0M108.7 64.7h0M117.1 65.9h0M117.0 65.3h0M113.7 46.6h0M107.6 64.2h0M108.4 63.7h0M110.9 57.7h0M118.2 58.5h0M109.1 62.0h0M119.4 62.1h0M116.7 47.3h0M117.1 47.9h0M116.8 61.1h0M116.2 54.2h0M111.1 59.2h0M115.0 50.3h0M112.9 62.4h0M113.0 49.0h0M114.1 49.7h0M116.7 59.4h0M111.6 49.1h0M105.9 59.9h0M108.6 49.1h0M119.0 62.1h0M110.7 68.6h0M108.3 53.8h0M114.9 48.8h0M109.4 52.4h0M117.9 55.8h0M117.7 61.4h0M111.7 66.5h0M120.1 51.2h0M106.7 57.2h0M116.4 61.2h0M112.7 53.7h0M118.4 48.1h0M112.1 47.0h0M117.8 58.1h0M117.9 60.9h0M110.0 55.3h0M109.7 64.3h0M117.4 45.5h0M110.3 70.8h0M118.5 55.7h0M110.0 56.8h0M107.4 61.0h0M107.5 57.4h0M114.4 45.3h0M119.5 49.7h0M114.2 53.8h0M104.1 63.9h0M113.2 49.1h0M108.2 64.8h0M115.5 57.4h0M110.0 59.0h0M109.4 57.1h0M109.3 50.3h0M106.4 67.0h0M116.3 54.2h0M111.3 47.4h0M118.9 63.8h0M112.6 53.7h0M110.1 68.7h0M105.9 61.1h0M108.4 65.0h0M115.8 55.6h0M108.2 61.7h0M116.3 67.5h0M107.5 63.6h0M114.7 56.7h0M117.7 50.9h0M109.0 58.2h0M107.9 68.5h0M116.0 51.5h0M108.6 48.7h0M108.9 57.8h0M106.9 69.0h0M113.4 46.7h0M108.8 71.1h0M116.9 47.8h0M110.5 62.1h0M114.8 63.2h0M115.7 53.6h0M106.4 61.1h0M94.5 50.6h0M103.4 53.1h0M98.8 46.0h0M96.0 45.8h0M105.7 51.3h0M102.1 47.0h0M105.6 55.1h0M105.4 58.2h0M99.4 53.9h0M103.7 56.1h0M97.5 46.9h0M100.0 46.9h0M106.3 55.3h0M107.1 48.9h0M98.6 52.4h0M102.9 55.7h0M94.7 48.3h0M100.9 52.8h0M99.3 45.5h0M93.4 49.8h0M102.9 49.2h0M102.4 51.6h0M95.0 44.5h0M108.0 53.1h0M105.2 51.3h0M100.1 48.8h0M93.9 47.2h0M108.0 49.9h0M101.9 57.7h0M103.3 50.8h0M105.5 57.2h0M105.6 51.8h0M100.6 51.8h0M103.6 49.8h0M103.3 51.4h0M98.3 53.7h0M96.9 53.1h0M96.2 48.9h0M105.0 55.4h0M108.3 50.4h0M96.5 44.4h0M105.0 47.6h0M94.0 47.3h0M99.1 51.7h0M99.3 46.4h0M95.8 45.6h0M96.8 49.0h0M101.7 46.5h0M108.1 51.5h0M94.6 51.2h0M76.5 38.2h0M75.2 40.1h0M70.7 36.8h0M71.8 40.6h0M82.8 33.9h0M79.2 31.8h0M80.3 31.5h0M69.3 39.0h0M69.0 36.8h0M82.7 33.1h0M74.6 34.9h0M70.4 34.5h0M71.3 34.9h0M73.2 38.0h0M78.4 33.6h0M71.2 36.9h0M85.2 27.5h0M73.5 39.9h0M63.5 36.4h0M85.8 30.1h0M67.6 35.9h0M72.5 41.1h0M69.8 35.1h0M74.3 40.4h0M65.1 38.0h0M79.3 35.2h0M71.2 35.5h0M85.9 31.8h0M74.8 40.0h0M84.4 27.0h0M66.6 40.4h0M79.9 33.1h0M70.4 35.3h0M76.1 32.4h0M69.8 35.9h0M69.4 37.7h0M68.0 35.2h0M73.3 36.1h0M70.3 40.6h0M72.1 36.4h0M68.5 33.5h0M84.6 30.9h0M84.1 32.5h0M82.7 30.0h0M77.4 36.5h0M71.5 34.9h0M69.4 42.4h0M73.2 39.9h0M73.1 32.8h0M79.8 33.0h0M76.7 36.4h0M70.3 40.7h0M80.1 35.1h0M84.3 28.4h0M71.9 36.2h0M71.5 37.3h0M83.0 31.4h0M65.4 37.3h0M74.5 34.9h0M72.4 33.6h0M84.2 29.4h0M72.5 33.5h0M83.1 27.1h0M77.3 36.1h0M81.0 31.8h0M68.6 36.8h0M80.4 28.9h0M71.0 36.4h0M79.0 32.8h0M67.8 37.4h0M72.5 40.6h0M71.7 38.0h0M83.0 33.1h0M69.4 41.3h0M83.3 31.6h0M78.1 35.1h0M76.1 38.9h0M70.0 33.0h0M71.5 40.2h0M77.9 37.4h0M91.4 92.0h0M92.8 91.2h0M84.3 86.8h0M81.5 86.0h0M82.4 85.7h0M87.7 89.3h0M98.1 92.1h0M84.0 88.3h0M85.6 88.1h0M86.7 87.9h0M89.0 90.0h0M85.3 89.1h0" stroke="#fff" stroke-width="0.9" stroke-linecap="round" fill="none" stroke-opacity="0.7"/>
</g>
<line x1="178.3" y1="21.8" x2="178.3" y2="109.5" stroke="#222" stroke-width="1"/>
<line x1="177.8" y1="109" x2="263.8" y2="109" stroke="#222" stroke-width="1"/>
<line x1="175.3" y1="27.3" x2="178.3" y2="27.3" stroke="#222" stroke-width="0.85"/>
<text transform="translate(172.3,29.4)" font-size="6" text-anchor="end" fill="#262626" font-weight="normal">6</text>
<line x1="175.3" y1="46.9" x2="178.3" y2="46.9" stroke="#222" stroke-width="0.85"/>
<text transform="translate(172.3,49)" font-size="6" text-anchor="end" fill="#262626" font-weight="normal">3</text>
<line x1="175.3" y1="66.5" x2="178.3" y2="66.5" stroke="#222" stroke-width="0.85"/>
<text transform="translate(172.3,68.6)" font-size="6" text-anchor="end" fill="#262626" font-weight="normal">0</text>
<line x1="175.3" y1="86" x2="178.3" y2="86" stroke="#222" stroke-width="0.85"/>
<text transform="translate(172.3,88.1)" font-size="6" text-anchor="end" fill="#262626" font-weight="normal">−3</text>
<line x1="175.3" y1="105.6" x2="178.3" y2="105.6" stroke="#222" stroke-width="0.85"/>
<text transform="translate(172.3,107.7)" font-size="6" text-anchor="end" fill="#262626" font-weight="normal">−6</text>
<line x1="195.4" y1="109" x2="195.4" y2="111.8" stroke="#222" stroke-width="0.85"/>
<text transform="translate(195.4,120.9)" font-size="6" text-anchor="middle" fill="#262626" font-weight="normal">−5</text>
<line x1="215.3" y1="109" x2="215.3" y2="111.8" stroke="#222" stroke-width="0.85"/>
<text transform="translate(215.3,120.9)" font-size="6" text-anchor="middle" fill="#262626" font-weight="normal">0</text>
<line x1="235.2" y1="109" x2="235.2" y2="111.8" stroke="#222" stroke-width="0.85"/>
<text transform="translate(235.2,120.9)" font-size="6" text-anchor="middle" fill="#262626" font-weight="normal">5</text>
<line x1="255.1" y1="109" x2="255.1" y2="111.8" stroke="#222" stroke-width="0.85"/>
<text transform="translate(255.1,120.9)" font-size="6" text-anchor="middle" fill="#262626" font-weight="normal">10</text>
<text transform="translate(220.4,132.2) scale(0.66,1)" font-size="8.4" text-anchor="middle" fill="#2a2a2a" font-weight="bold">UMAP 1</text>
<text transform="translate(159.6,65.3) rotate(-90) scale(0.66,1)" font-size="8.4" text-anchor="middle" fill="#2a2a2a" font-weight="bold">UMAP 2</text>
<circle cx="24.2" cy="139.5" r="1.55" fill="#c4a45e"/>
<text transform="translate(29.3,141.6)" font-size="6" text-anchor="start" fill="#262626" font-weight="normal">Neutrophil precursors</text>
<circle cx="24.2" cy="147.2" r="1.55" fill="#7577b8"/>
<text transform="translate(29.3,149.3)" font-size="6" text-anchor="start" fill="#262626" font-weight="normal">Unknown</text>
<circle cx="24.2" cy="154.9" r="1.55" fill="#8e6d98"/>
<text transform="translate(29.3,157)" font-size="6" text-anchor="start" fill="#262626" font-weight="normal">Monocytes</text>
<circle cx="24.2" cy="162.6" r="1.55" fill="#8cc47e"/>
<text transform="translate(29.3,164.7)" font-size="6" text-anchor="start" fill="#262626" font-weight="normal">Granulocytes</text>
<circle cx="24.2" cy="170.3" r="1.55" fill="#2e2a6e"/>
<text transform="translate(29.3,172.4)" font-size="6" text-anchor="start" fill="#262626" font-weight="normal">Monocyte precursors</text>
<circle cx="24.2" cy="178" r="1.55" fill="#a99ad6"/>
<text transform="translate(29.3,180.1)" font-size="6" text-anchor="start" fill="#262626" font-weight="normal">GMPs</text>
<circle cx="103.1" cy="139.5" r="1.55" fill="#7391cf"/>
<text transform="translate(106.9,141.6)" font-size="6" text-anchor="start" fill="#262626" font-weight="normal">Erythroid precursors</text>
<circle cx="103.1" cy="147.2" r="1.55" fill="#b4553c"/>
<text transform="translate(106.9,149.3)" font-size="6" text-anchor="start" fill="#262626" font-weight="normal">Neutrophils</text>
<circle cx="103.1" cy="154.9" r="1.55" fill="#9a5aa8"/>
<text transform="translate(106.9,157)" font-size="6" text-anchor="start" fill="#262626" font-weight="normal">APCs</text>
<circle cx="103.1" cy="162.6" r="1.55" fill="#c3965a"/>
<text transform="translate(106.9,164.7)" font-size="6" text-anchor="start" fill="#262626" font-weight="normal">MEPs</text>
<circle cx="103.1" cy="170.3" r="1.55" fill="#7a3232"/>
<text transform="translate(106.9,172.4)" font-size="6" text-anchor="start" fill="#262626" font-weight="normal">Unknown</text>
<line x1="174.9" y1="138" x2="174.9" y2="179" stroke="#555" stroke-width="0.8" stroke-dasharray="0.8,0.8"/>
<circle cx="182.6" cy="139.6" r="1.55" fill="#5f86c8"/>
<text transform="translate(187.4,141.7)" font-size="6" text-anchor="start" fill="#262626" font-weight="normal">spUTD</text>
<circle cx="182.6" cy="147.3" r="1.55" fill="#e07070"/>
<text transform="translate(187.4,149.4)" font-size="6" text-anchor="start" fill="#262626" font-weight="normal">spCAR</text>
<circle cx="330.45" cy="28.3" r="1.08" fill="#1a1644"/>
<circle cx="335.18" cy="28.3" r="1.08" fill="#1a1644"/>
<circle cx="339.9" cy="28.3" r="1.08" fill="#1a1644"/>
<circle cx="344.63" cy="28.3" r="1.08" fill="#1a1644"/>
<circle cx="349.36" cy="28.3" r="1.08" fill="#1a1644"/>
<circle cx="354.08" cy="28.3" r="1.08" fill="#1a1644"/>
<circle cx="368.27" cy="28.3" r="0.9" fill="#d8d7e2"/>
<circle cx="396.63" cy="28.3" r="1" fill="#5e5888"/>
<circle cx="401.36" cy="28.3" r="0.9" fill="#d8d7e2"/>
<circle cx="406.08" cy="28.3" r="1" fill="#5e5888"/>
<circle cx="429.72" cy="28.3" r="0.9" fill="#d8d7e2"/>
<circle cx="458.08" cy="28.3" r="0.95" fill="#b0aec4"/>
<circle cx="462.81" cy="28.3" r="0.95" fill="#b0aec4"/>
<circle cx="467.53" cy="28.3" r="0.9" fill="#d8d7e2"/>
<circle cx="354.08" cy="43.23" r="0.9" fill="#d8d7e2"/>
<circle cx="358.81" cy="43.23" r="1.08" fill="#1a1644"/>
<circle cx="363.54" cy="43.23" r="1.08" fill="#1a1644"/>
<circle cx="368.27" cy="43.23" r="1.08" fill="#1a1644"/>
<circle cx="372.99" cy="43.23" r="1.08" fill="#1a1644"/>
<circle cx="387.17" cy="43.23" r="0.9" fill="#d8d7e2"/>
<circle cx="401.36" cy="43.23" r="0.9" fill="#d8d7e2"/>
<circle cx="448.62" cy="43.23" r="0.9" fill="#d8d7e2"/>
<circle cx="453.35" cy="43.23" r="1" fill="#5e5888"/>
<circle cx="458.08" cy="43.23" r="1.05" fill="#3a3470"/>
<circle cx="462.81" cy="43.23" r="1" fill="#5e5888"/>
<circle cx="472.26" cy="43.23" r="0.9" fill="#d8d7e2"/>
<circle cx="476.99" cy="43.23" r="0.9" fill="#d8d7e2"/>
<circle cx="354.08" cy="58.15" r="0.9" fill="#d8d7e2"/>
<circle cx="358.81" cy="58.15" r="0.9" fill="#d8d7e2"/>
<circle cx="363.54" cy="58.15" r="0.9" fill="#d8d7e2"/>
<circle cx="368.27" cy="58.15" r="1.08" fill="#1a1644"/>
<circle cx="372.99" cy="58.15" r="0.9" fill="#d8d7e2"/>
<circle cx="377.72" cy="58.15" r="1.08" fill="#1a1644"/>
<circle cx="382.45" cy="58.15" r="1.08" fill="#1a1644"/>
<circle cx="387.17" cy="58.15" r="1.08" fill="#1a1644"/>
<circle cx="448.62" cy="58.15" r="0.9" fill="#d8d7e2"/>
<circle cx="453.35" cy="58.15" r="0.9" fill="#d8d7e2"/>
<circle cx="458.08" cy="58.15" r="0.95" fill="#b0aec4"/>
<circle cx="462.81" cy="58.15" r="0.95" fill="#b0aec4"/>
<circle cx="330.45" cy="73.08" r="1" fill="#5e5888"/>
<circle cx="335.18" cy="73.08" r="0.95" fill="#b0aec4"/>
<circle cx="339.9" cy="73.08" r="0.9" fill="#d8d7e2"/>
<circle cx="344.63" cy="73.08" r="0.95" fill="#b0aec4"/>
<circle cx="349.36" cy="73.08" r="0.95" fill="#b0aec4"/>
<circle cx="354.08" cy="73.08" r="1" fill="#5e5888"/>
<circle cx="368.27" cy="73.08" r="0.9" fill="#d8d7e2"/>
<circle cx="382.45" cy="73.08" r="0.9" fill="#d8d7e2"/>
<circle cx="391.9" cy="73.08" r="1.08" fill="#1a1644"/>
<circle cx="396.63" cy="73.08" r="1.08" fill="#1a1644"/>
<circle cx="401.36" cy="73.08" r="1.08" fill="#1a1644"/>
<circle cx="406.08" cy="73.08" r="1.08" fill="#1a1644"/>
<circle cx="424.99" cy="73.08" r="0.9" fill="#d8d7e2"/>
<circle cx="429.72" cy="73.08" r="0.9" fill="#d8d7e2"/>
<circle cx="453.35" cy="73.08" r="0.95" fill="#b0aec4"/>
<circle cx="458.08" cy="73.08" r="0.95" fill="#b0aec4"/>
<circle cx="462.81" cy="73.08" r="0.95" fill="#b0aec4"/>
<circle cx="467.53" cy="73.08" r="0.9" fill="#d8d7e2"/>
<circle cx="354.08" cy="88" r="0.9" fill="#d8d7e2"/>
<circle cx="358.81" cy="88" r="0.9" fill="#d8d7e2"/>
<circle cx="368.27" cy="88" r="0.95" fill="#b0aec4"/>
<circle cx="377.72" cy="88" r="0.9" fill="#d8d7e2"/>
<circle cx="382.45" cy="88" r="0.95" fill="#b0aec4"/>
<circle cx="391.9" cy="88" r="1" fill="#5e5888"/>
<circle cx="396.63" cy="88" r="0.9" fill="#d8d7e2"/>
<circle cx="410.81" cy="88" r="1.08" fill="#1a1644"/>
<circle cx="415.54" cy="88" r="1" fill="#5e5888"/>
<circle cx="420.26" cy="88" r="1.08" fill="#1a1644"/>
<circle cx="434.44" cy="88" r="0.9" fill="#d8d7e2"/>
<circle cx="439.17" cy="88" r="0.9" fill="#d8d7e2"/>
<circle cx="443.9" cy="88" r="0.9" fill="#d8d7e2"/>
<circle cx="330.45" cy="102.92" r="1" fill="#8a84bc"/>
<circle cx="335.18" cy="102.92" r="1.08" fill="#4a4298"/>
<circle cx="339.9" cy="102.92" r="1" fill="#8a84bc"/>
<circle cx="349.36" cy="102.92" r="0.95" fill="#b0aec4"/>
<circle cx="354.08" cy="102.92" r="0.95" fill="#b0aec4"/>
<circle cx="358.81" cy="102.92" r="0.9" fill="#d8d7e2"/>
<circle cx="363.54" cy="102.92" r="0.9" fill="#d8d7e2"/>
<circle cx="368.27" cy="102.92" r="0.95" fill="#b0aec4"/>
<circle cx="396.63" cy="102.92" r="1.08" fill="#1a1644"/>
<circle cx="401.36" cy="102.92" r="0.9" fill="#d8d7e2"/>
<circle cx="406.08" cy="102.92" r="1.08" fill="#1a1644"/>
<circle cx="424.99" cy="102.92" r="1.08" fill="#1a1644"/>
<circle cx="429.72" cy="102.92" r="1.08" fill="#1a1644"/>
<circle cx="453.35" cy="102.92" r="0.9" fill="#d8d7e2"/>
<circle cx="458.08" cy="102.92" r="0.9" fill="#d8d7e2"/>
<circle cx="462.81" cy="102.92" r="0.9" fill="#d8d7e2"/>
<circle cx="467.53" cy="102.92" r="0.9" fill="#d8d7e2"/>
<circle cx="472.26" cy="102.92" r="0.9" fill="#d8d7e2"/>
<circle cx="476.99" cy="102.92" r="0.9" fill="#d8d7e2"/>
<circle cx="354.08" cy="117.85" r="0.9" fill="#d8d7e2"/>
<circle cx="358.81" cy="117.85" r="0.9" fill="#d8d7e2"/>
<circle cx="368.27" cy="117.85" r="0.95" fill="#b0aec4"/>
<circle cx="396.63" cy="117.85" r="0.9" fill="#d8d7e2"/>
<circle cx="434.44" cy="117.85" r="1.08" fill="#1a1644"/>
<circle cx="439.17" cy="117.85" r="1.08" fill="#1a1644"/>
<circle cx="443.9" cy="117.85" r="1.08" fill="#1a1644"/>
<circle cx="453.35" cy="117.85" r="0.9" fill="#d8d7e2"/>
<circle cx="458.08" cy="117.85" r="0.9" fill="#d8d7e2"/>
<circle cx="462.81" cy="117.85" r="0.9" fill="#d8d7e2"/>
<circle cx="467.53" cy="117.85" r="0.9" fill="#d8d7e2"/>
<circle cx="472.26" cy="117.85" r="0.9" fill="#d8d7e2"/>
<circle cx="354.08" cy="132.78" r="0.9" fill="#d8d7e2"/>
<circle cx="358.81" cy="132.78" r="0.9" fill="#d8d7e2"/>
<circle cx="363.54" cy="132.78" r="0.95" fill="#b0aec4"/>
<circle cx="368.27" cy="132.78" r="1" fill="#5e5888"/>
<circle cx="372.99" cy="132.78" r="1" fill="#5e5888"/>
<circle cx="448.62" cy="132.78" r="1.08" fill="#1a1644"/>
<circle cx="453.35" cy="132.78" r="1.08" fill="#1a1644"/>
<circle cx="458.08" cy="132.78" r="1.08" fill="#1a1644"/>
<circle cx="462.81" cy="132.78" r="1.08" fill="#1a1644"/>
<circle cx="476.99" cy="132.78" r="0.9" fill="#d8d7e2"/>
<circle cx="330.45" cy="147.7" r="0.95" fill="#b0aec4"/>
<circle cx="335.18" cy="147.7" r="0.95" fill="#b0aec4"/>
<circle cx="349.36" cy="147.7" r="0.95" fill="#b0aec4"/>
<circle cx="354.08" cy="147.7" r="0.95" fill="#b0aec4"/>
<circle cx="368.27" cy="147.7" r="0.95" fill="#b0aec4"/>
<circle cx="377.72" cy="147.7" r="0.9" fill="#d8d7e2"/>
<circle cx="382.45" cy="147.7" r="0.9" fill="#d8d7e2"/>
<circle cx="396.63" cy="147.7" r="0.95" fill="#b0aec4"/>
<circle cx="401.36" cy="147.7" r="0.9" fill="#d8d7e2"/>
<circle cx="424.99" cy="147.7" r="0.95" fill="#b0aec4"/>
<circle cx="429.72" cy="147.7" r="0.9" fill="#d8d7e2"/>
<circle cx="453.35" cy="147.7" r="0.95" fill="#b0aec4"/>
<circle cx="458.08" cy="147.7" r="0.95" fill="#b0aec4"/>
<circle cx="462.81" cy="147.7" r="0.95" fill="#b0aec4"/>
<circle cx="467.53" cy="147.7" r="1.08" fill="#1a1644"/>
<circle cx="472.26" cy="147.7" r="1.08" fill="#1a1644"/>
<circle cx="476.99" cy="147.7" r="1.08" fill="#1a1644"/>
<line x1="327.7" y1="23.1" x2="327.7" y2="152" stroke="#222" stroke-width="1"/>
<line x1="327.2" y1="151.5" x2="479.2" y2="151.5" stroke="#222" stroke-width="1"/>
<line x1="325.1" y1="28.3" x2="327.7" y2="28.3" stroke="#222" stroke-width="0.8"/>
<text transform="translate(321.8,27)" font-size="6" text-anchor="end" fill="#262626" font-weight="normal">Neutrophil</text>
<text transform="translate(321.8,33.8)" font-size="6" text-anchor="end" fill="#262626" font-weight="normal">precursors</text>
<line x1="325.1" y1="43.23" x2="327.7" y2="43.23" stroke="#222" stroke-width="0.8"/>
<text transform="translate(321.8,45.33)" font-size="6" text-anchor="end" fill="#262626" font-weight="normal">Monocytes</text>
<line x1="325.1" y1="58.15" x2="327.7" y2="58.15" stroke="#222" stroke-width="0.8"/>
<text transform="translate(321.8,60.25)" font-size="6" text-anchor="end" fill="#262626" font-weight="normal">Granulocytes</text>
<line x1="325.1" y1="73.08" x2="327.7" y2="73.08" stroke="#222" stroke-width="0.8"/>
<text transform="translate(321.8,71.78)" font-size="6" text-anchor="end" fill="#262626" font-weight="normal">Monocyte</text>
<text transform="translate(321.8,78.58)" font-size="6" text-anchor="end" fill="#262626" font-weight="normal">precursors</text>
<line x1="325.1" y1="88" x2="327.7" y2="88" stroke="#222" stroke-width="0.8"/>
<text transform="translate(321.8,90.1)" font-size="6" text-anchor="end" fill="#262626" font-weight="normal">GMPs</text>
<line x1="325.1" y1="102.92" x2="327.7" y2="102.92" stroke="#222" stroke-width="0.8"/>
<text transform="translate(321.8,101.62)" font-size="6" text-anchor="end" fill="#262626" font-weight="normal">Erythroid</text>
<text transform="translate(321.8,108.42)" font-size="6" text-anchor="end" fill="#262626" font-weight="normal">precursors</text>
<line x1="325.1" y1="117.85" x2="327.7" y2="117.85" stroke="#222" stroke-width="0.8"/>
<text transform="translate(321.8,119.95)" font-size="6" text-anchor="end" fill="#262626" font-weight="normal">Neutrophils</text>
<line x1="325.1" y1="132.78" x2="327.7" y2="132.78" stroke="#222" stroke-width="0.8"/>
<text transform="translate(321.8,134.88)" font-size="6" text-anchor="end" fill="#262626" font-weight="normal">APCs</text>
<line x1="325.1" y1="147.7" x2="327.7" y2="147.7" stroke="#222" stroke-width="0.8"/>
<text transform="translate(321.8,149.8)" font-size="6" text-anchor="end" fill="#262626" font-weight="normal">MEPs</text>
<line x1="330.45" y1="151.5" x2="330.45" y2="153.1" stroke="#444" stroke-width="0.6"/>
<text transform="translate(332.25,154.5) rotate(-90)" font-size="5.1" text-anchor="end" fill="#383838" font-weight="normal">CLC</text>
<line x1="335.18" y1="151.5" x2="335.18" y2="153.1" stroke="#444" stroke-width="0.6"/>
<text transform="translate(336.98,154.5) rotate(-90)" font-size="5.1" text-anchor="end" fill="#383838" font-weight="normal">GATA2</text>
<line x1="339.9" y1="151.5" x2="339.9" y2="153.1" stroke="#444" stroke-width="0.6"/>
<text transform="translate(341.7,154.5) rotate(-90)" font-size="5.1" text-anchor="end" fill="#383838" font-weight="normal">MS4A2</text>
<line x1="344.63" y1="151.5" x2="344.63" y2="153.1" stroke="#444" stroke-width="0.6"/>
<text transform="translate(346.43,154.5) rotate(-90)" font-size="5.1" text-anchor="end" fill="#383838" font-weight="normal">TCN1</text>
<line x1="349.36" y1="151.5" x2="349.36" y2="153.1" stroke="#444" stroke-width="0.6"/>
<text transform="translate(351.16,154.5) rotate(-90)" font-size="5.1" text-anchor="end" fill="#383838" font-weight="normal">SOX2</text>
<line x1="354.08" y1="151.5" x2="354.08" y2="153.1" stroke="#444" stroke-width="0.6"/>
<text transform="translate(355.88,154.5) rotate(-90)" font-size="5.1" text-anchor="end" fill="#383838" font-weight="normal">RUNX1</text>
<line x1="358.81" y1="151.5" x2="358.81" y2="153.1" stroke="#444" stroke-width="0.6"/>
<text transform="translate(360.61,154.5) rotate(-90)" font-size="5.1" text-anchor="end" fill="#383838" font-weight="normal">SELENOP</text>
<line x1="363.54" y1="151.5" x2="363.54" y2="153.1" stroke="#444" stroke-width="0.6"/>
<text transform="translate(365.34,154.5) rotate(-90)" font-size="5.1" text-anchor="end" fill="#383838" font-weight="normal">C1QA</text>
<line x1="368.27" y1="151.5" x2="368.27" y2="153.1" stroke="#444" stroke-width="0.6"/>
<text transform="translate(370.07,154.5) rotate(-90)" font-size="5.1" text-anchor="end" fill="#383838" font-weight="normal">FCAP</text>
<line x1="372.99" y1="151.5" x2="372.99" y2="153.1" stroke="#444" stroke-width="0.6"/>
<text transform="translate(374.79,154.5) rotate(-90)" font-size="5.1" text-anchor="end" fill="#383838" font-weight="normal">TGFBI</text>
<line x1="377.72" y1="151.5" x2="377.72" y2="153.1" stroke="#444" stroke-width="0.6"/>
<text transform="translate(379.52,154.5) rotate(-90)" font-size="5.1" text-anchor="end" fill="#383838" font-weight="normal">CXCL8</text>
<line x1="382.45" y1="151.5" x2="382.45" y2="153.1" stroke="#444" stroke-width="0.6"/>
<text transform="translate(384.25,154.5) rotate(-90)" font-size="5.1" text-anchor="end" fill="#383838" font-weight="normal">BCL2A1</text>
<line x1="387.17" y1="151.5" x2="387.17" y2="153.1" stroke="#444" stroke-width="0.6"/>
<text transform="translate(388.97,154.5) rotate(-90)" font-size="5.1" text-anchor="end" fill="#383838" font-weight="normal">CTDA</text>
<line x1="391.9" y1="151.5" x2="391.9" y2="153.1" stroke="#444" stroke-width="0.6"/>
<text transform="translate(393.7,154.5) rotate(-90)" font-size="5.1" text-anchor="end" fill="#383838" font-weight="normal">CD34</text>
<line x1="396.63" y1="151.5" x2="396.63" y2="153.1" stroke="#444" stroke-width="0.6"/>
<text transform="translate(398.43,154.5) rotate(-90)" font-size="5.1" text-anchor="end" fill="#383838" font-weight="normal">CLU</text>
<line x1="401.36" y1="151.5" x2="401.36" y2="153.1" stroke="#444" stroke-width="0.6"/>
<text transform="translate(403.16,154.5) rotate(-90)" font-size="5.1" text-anchor="end" fill="#383838" font-weight="normal">SPP1</text>
<line x1="406.08" y1="151.5" x2="406.08" y2="153.1" stroke="#444" stroke-width="0.6"/>
<text transform="translate(407.88,154.5) rotate(-90)" font-size="5.1" text-anchor="end" fill="#383838" font-weight="normal">CCL23</text>
<line x1="410.81" y1="151.5" x2="410.81" y2="153.1" stroke="#444" stroke-width="0.6"/>
<text transform="translate(412.61,154.5) rotate(-90)" font-size="5.1" text-anchor="end" fill="#383838" font-weight="normal">MMP9</text>
<line x1="415.54" y1="151.5" x2="415.54" y2="153.1" stroke="#444" stroke-width="0.6"/>
<text transform="translate(417.34,154.5) rotate(-90)" font-size="5.1" text-anchor="end" fill="#383838" font-weight="normal">LTF</text>
<line x1="420.26" y1="151.5" x2="420.26" y2="153.1" stroke="#444" stroke-width="0.6"/>
<text transform="translate(422.06,154.5) rotate(-90)" font-size="5.1" text-anchor="end" fill="#383838" font-weight="normal">IDP</text>
<line x1="424.99" y1="151.5" x2="424.99" y2="153.1" stroke="#444" stroke-width="0.6"/>
<text transform="translate(426.79,154.5) rotate(-90)" font-size="5.1" text-anchor="end" fill="#383838" font-weight="normal">TPSAB1</text>
<line x1="429.72" y1="151.5" x2="429.72" y2="153.1" stroke="#444" stroke-width="0.6"/>
<text transform="translate(431.52,154.5) rotate(-90)" font-size="5.1" text-anchor="end" fill="#383838" font-weight="normal">RHEX</text>
<line x1="434.44" y1="151.5" x2="434.44" y2="153.1" stroke="#444" stroke-width="0.6"/>
<text transform="translate(436.24,154.5) rotate(-90)" font-size="5.1" text-anchor="end" fill="#383838" font-weight="normal">MPO</text>
<line x1="439.17" y1="151.5" x2="439.17" y2="153.1" stroke="#444" stroke-width="0.6"/>
<text transform="translate(440.97,154.5) rotate(-90)" font-size="5.1" text-anchor="end" fill="#383838" font-weight="normal">ELANE</text>
<line x1="443.9" y1="151.5" x2="443.9" y2="153.1" stroke="#444" stroke-width="0.6"/>
<text transform="translate(445.7,154.5) rotate(-90)" font-size="5.1" text-anchor="end" fill="#383838" font-weight="normal">AZU1</text>
<line x1="448.62" y1="151.5" x2="448.62" y2="153.1" stroke="#444" stroke-width="0.6"/>
<text transform="translate(450.43,154.5) rotate(-90)" font-size="5.1" text-anchor="end" fill="#383838" font-weight="normal">PADI4</text>
<line x1="453.35" y1="151.5" x2="453.35" y2="153.1" stroke="#444" stroke-width="0.6"/>
<text transform="translate(455.15,154.5) rotate(-90)" font-size="5.1" text-anchor="end" fill="#383838" font-weight="normal">HLA-DQA1</text>
<line x1="458.08" y1="151.5" x2="458.08" y2="153.1" stroke="#444" stroke-width="0.6"/>
<text transform="translate(459.88,154.5) rotate(-90)" font-size="5.1" text-anchor="end" fill="#383838" font-weight="normal">HLA-DPA1</text>
<line x1="462.81" y1="151.5" x2="462.81" y2="153.1" stroke="#444" stroke-width="0.6"/>
<text transform="translate(464.61,154.5) rotate(-90)" font-size="5.1" text-anchor="end" fill="#383838" font-weight="normal">HLA-DRB1</text>
<line x1="467.53" y1="151.5" x2="467.53" y2="153.1" stroke="#444" stroke-width="0.6"/>
<text transform="translate(469.33,154.5) rotate(-90)" font-size="5.1" text-anchor="end" fill="#383838" font-weight="normal">GDF11</text>
<line x1="472.26" y1="151.5" x2="472.26" y2="153.1" stroke="#444" stroke-width="0.6"/>
<text transform="translate(474.06,154.5) rotate(-90)" font-size="5.1" text-anchor="end" fill="#383838" font-weight="normal">ARG2</text>
<line x1="476.99" y1="151.5" x2="476.99" y2="153.1" stroke="#444" stroke-width="0.6"/>
<text transform="translate(478.79,154.5) rotate(-90)" font-size="5.1" text-anchor="end" fill="#383838" font-weight="normal">SOX4</text>
<text transform="translate(486.1,41.7)" font-size="6" text-anchor="start" fill="#262626" font-weight="normal">Percent</text>
<text transform="translate(486.1,47.8)" font-size="6" text-anchor="start" fill="#262626" font-weight="normal">expressed</text>
<text transform="translate(493.5,55.7)" font-size="6" text-anchor="start" fill="#262626" font-weight="normal">0</text>
<circle cx="489.2" cy="59.45" r="0.45" fill="#222"/>
<text transform="translate(493.5,61.55)" font-size="6" text-anchor="start" fill="#262626" font-weight="normal">25</text>
<circle cx="489.2" cy="65.3" r="0.75" fill="#222"/>
<text transform="translate(493.5,67.4)" font-size="6" text-anchor="start" fill="#262626" font-weight="normal">50</text>
<circle cx="489.2" cy="71.15" r="1.05" fill="#222"/>
<text transform="translate(493.5,73.25)" font-size="6" text-anchor="start" fill="#262626" font-weight="normal">75</text>
<circle cx="489.2" cy="77" r="1.35" fill="#222"/>
<text transform="translate(493.5,79.1)" font-size="6" text-anchor="start" fill="#262626" font-weight="normal">100</text>
<text transform="translate(486.1,96.7)" font-size="6" text-anchor="start" fill="#262626" font-weight="normal">Average</text>
<text transform="translate(486.1,102.6)" font-size="6" text-anchor="start" fill="#262626" font-weight="normal">expression</text>
<rect x="489.2" y="107.5" width="3.7" height="16.6" fill="url(#gB)"/>
<line x1="489.2" y1="110.3" x2="489.9" y2="110.3" stroke="#fff" stroke-width="0.4"/>
<line x1="492.2" y1="110.3" x2="492.9" y2="110.3" stroke="#fff" stroke-width="0.4"/>
<text transform="translate(496.2,112.4)" font-size="6" text-anchor="start" fill="#262626" font-weight="normal">2</text>
<line x1="489.2" y1="115.8" x2="489.9" y2="115.8" stroke="#fff" stroke-width="0.4"/>
<line x1="492.2" y1="115.8" x2="492.9" y2="115.8" stroke="#fff" stroke-width="0.4"/>
<text transform="translate(496.2,117.9)" font-size="6" text-anchor="start" fill="#262626" font-weight="normal">1</text>
<line x1="489.2" y1="121.7" x2="489.9" y2="121.7" stroke="#fff" stroke-width="0.4"/>
<line x1="492.2" y1="121.7" x2="492.9" y2="121.7" stroke="#fff" stroke-width="0.4"/>
<text transform="translate(496.2,123.8)" font-size="6" text-anchor="start" fill="#262626" font-weight="normal">0</text>
<text transform="translate(35.7,211.6)" font-size="7.8" text-anchor="start" fill="#222" font-weight="normal">Neutrophilic lineage</text>
<line x1="35.7" y1="213.2" x2="104.21" y2="213.2" stroke="#333" stroke-width="0.55"/>
<path d="M26.6,219.1 L26.9,219.6 L27.5,220.0 L28.0,220.5 L28.3,220.9 L28.5,221.4 L28.7,221.9 L28.9,222.3 L29.0,222.8 L29.1,223.2 L29.2,223.7 L29.2,224.2 L29.3,224.6 L29.3,225.1 L29.3,225.6 L29.3,226.0 L29.2,226.5 L29.1,226.9 L29.0,227.4 L28.9,227.9 L28.8,228.3 L28.7,228.8 L28.5,229.2 L28.3,229.7 L28.1,230.2 L28.0,230.6 L27.8,231.1 L27.6,231.6 L27.4,232.0 L27.2,232.5 L27.0,232.9 L26.8,233.4 L26.6,233.9 L26.5,234.3 L26.3,234.8 L26.1,235.2 L25.9,235.7 L25.7,236.2 L25.6,236.6 L25.4,237.1 L25.3,237.5 L25.2,238.0 L25.1,238.5 L25.0,238.9 L25.0,239.4 L25.0,239.8 L25.0,240.3 L24.9,240.8 L24.9,241.2 L24.9,241.7 L24.9,242.2 L24.9,242.6 L24.9,243.1 L24.9,243.5 L24.9,244.0 L24.9,244.5 L25.0,244.9 L25.0,245.4 L25.1,245.8 L25.2,246.3 L25.2,246.8 L25.3,247.2 L25.4,247.7 L25.6,248.2 L25.7,248.6 L25.8,249.1 L26.0,249.5 L26.1,250.0 L26.3,250.5 L26.4,250.9 L26.6,251.4 L26.7,251.8 L26.8,252.3 L21.6,252.3 L21.7,251.8 L21.8,251.4 L22.0,250.9 L22.1,250.5 L22.3,250.0 L22.4,249.5 L22.6,249.1 L22.7,248.6 L22.8,248.2 L23.0,247.7 L23.1,247.2 L23.2,246.8 L23.2,246.3 L23.3,245.8 L23.4,245.4 L23.4,244.9 L23.5,244.5 L23.5,244.0 L23.5,243.5 L23.5,243.1 L23.5,242.6 L23.5,242.2 L23.5,241.7 L23.5,241.2 L23.5,240.8 L23.4,240.3 L23.4,239.8 L23.4,239.4 L23.4,238.9 L23.3,238.5 L23.2,238.0 L23.1,237.5 L23.0,237.1 L22.8,236.6 L22.7,236.2 L22.5,235.7 L22.3,235.2 L22.1,234.8 L21.9,234.3 L21.8,233.9 L21.6,233.4 L21.4,232.9 L21.2,232.5 L21.0,232.0 L20.8,231.6 L20.6,231.1 L20.4,230.6 L20.3,230.2 L20.1,229.7 L19.9,229.2 L19.7,228.8 L19.6,228.3 L19.5,227.9 L19.4,227.4 L19.3,226.9 L19.2,226.5 L19.1,226.0 L19.1,225.6 L19.1,225.1 L19.1,224.6 L19.2,224.2 L19.2,223.7 L19.3,223.2 L19.4,222.8 L19.5,222.3 L19.7,221.9 L19.9,221.4 L20.1,220.9 L20.4,220.5 L20.9,220.0 L21.5,219.6 L21.8,219.1Z" fill="#c86a10" stroke="#3a3a3a" stroke-width="0.35" stroke-linejoin="round"/>
<path d="M35.7,221.3 L35.8,221.8 L36.2,222.2 L36.5,222.7 L36.8,223.2 L37.1,223.6 L37.3,224.1 L37.5,224.5 L37.8,225.0 L38.0,225.5 L38.4,225.9 L38.7,226.4 L39.0,226.9 L39.2,227.3 L39.3,227.8 L39.3,228.2 L39.4,228.7 L39.4,229.2 L39.5,229.6 L39.5,230.1 L39.5,230.6 L39.6,231.0 L39.6,231.5 L39.6,231.9 L39.6,232.4 L39.6,232.9 L39.6,233.3 L39.6,233.8 L39.7,234.3 L39.7,234.7 L39.7,235.2 L39.6,235.6 L39.6,236.1 L39.5,236.6 L39.4,237.0 L39.3,237.5 L39.3,238.0 L39.2,238.4 L39.1,238.9 L39.0,239.3 L39.0,239.8 L38.9,240.3 L38.8,240.7 L38.7,241.2 L38.6,241.7 L38.5,242.1 L38.4,242.6 L38.4,243.0 L38.4,243.5 L38.4,244.0 L38.4,244.4 L38.4,244.9 L38.4,245.4 L38.4,245.8 L38.4,246.3 L38.6,246.7 L38.8,247.2 L39.0,247.7 L39.2,248.1 L39.5,248.6 L39.7,249.1 L39.9,249.5 L40.0,250.0 L40.1,250.4 L40.2,250.9 L40.3,251.4 L40.3,251.8 L40.4,252.3 L30.4,252.3 L30.4,251.8 L30.4,251.4 L30.5,250.9 L30.6,250.4 L30.7,250.0 L30.8,249.5 L31.0,249.1 L31.3,248.6 L31.5,248.1 L31.7,247.7 L31.9,247.2 L32.1,246.7 L32.3,246.3 L32.4,245.8 L32.4,245.4 L32.4,244.9 L32.4,244.4 L32.4,244.0 L32.4,243.5 L32.3,243.0 L32.3,242.6 L32.2,242.1 L32.1,241.7 L32.0,241.2 L31.9,240.7 L31.8,240.3 L31.8,239.8 L31.7,239.3 L31.6,238.9 L31.5,238.4 L31.5,238.0 L31.4,237.5 L31.3,237.0 L31.2,236.6 L31.1,236.1 L31.1,235.6 L31.1,235.2 L31.1,234.7 L31.1,234.3 L31.1,233.8 L31.1,233.3 L31.1,232.9 L31.1,232.4 L31.1,231.9 L31.1,231.5 L31.2,231.0 L31.2,230.6 L31.2,230.1 L31.2,229.6 L31.3,229.2 L31.3,228.7 L31.4,228.2 L31.5,227.8 L31.6,227.3 L31.7,226.9 L32.0,226.4 L32.4,225.9 L32.7,225.5 L33.0,225.0 L33.2,224.5 L33.4,224.1 L33.6,223.6 L33.9,223.2 L34.2,222.7 L34.6,222.2 L34.9,221.8 L35.1,221.3Z" fill="#c86a10" stroke="#3a3a3a" stroke-width="0.35" stroke-linejoin="round"/>
<path d="M46.8,221.3 L47.0,221.8 L47.3,222.2 L47.6,222.7 L47.9,223.2 L48.1,223.6 L48.4,224.1 L48.6,224.5 L48.8,225.0 L49.1,225.5 L49.3,225.9 L49.5,226.4 L49.8,226.9 L50.0,227.3 L50.2,227.8 L50.4,228.2 L50.6,228.7 L50.8,229.2 L50.9,229.6 L51.1,230.1 L51.3,230.6 L51.4,231.0 L51.5,231.5 L51.7,231.9 L51.7,232.4 L51.8,232.9 L51.8,233.3 L51.8,233.8 L51.8,234.3 L51.7,234.7 L51.6,235.2 L51.5,235.6 L51.4,236.1 L51.3,236.6 L51.1,237.0 L50.9,237.5 L50.7,238.0 L50.5,238.4 L50.2,238.9 L50.0,239.3 L49.7,239.8 L49.4,240.3 L49.2,240.7 L49.0,241.2 L48.7,241.7 L48.5,242.1 L48.3,242.6 L48.2,243.0 L48.1,243.5 L48.0,244.0 L47.9,244.4 L47.9,244.9 L47.8,245.4 L47.8,245.8 L47.7,246.3 L47.7,246.7 L47.7,247.2 L47.8,247.7 L48.0,248.1 L48.1,248.6 L48.2,249.1 L48.4,249.5 L48.6,250.0 L48.8,250.4 L49.0,250.9 L49.2,251.4 L49.4,251.8 L49.5,252.3 L43.5,252.3 L43.6,251.8 L43.8,251.4 L44.0,250.9 L44.2,250.4 L44.4,250.0 L44.6,249.5 L44.8,249.1 L44.9,248.6 L45.1,248.1 L45.2,247.7 L45.3,247.2 L45.3,246.7 L45.3,246.3 L45.3,245.8 L45.2,245.4 L45.2,244.9 L45.1,244.4 L45.0,244.0 L44.9,243.5 L44.9,243.0 L44.7,242.6 L44.6,242.1 L44.3,241.7 L44.1,241.2 L43.8,240.7 L43.6,240.3 L43.3,239.8 L43.1,239.3 L42.8,238.9 L42.6,238.4 L42.4,238.0 L42.1,237.5 L42.0,237.0 L41.8,236.6 L41.6,236.1 L41.5,235.6 L41.4,235.2 L41.4,234.7 L41.3,234.3 L41.2,233.8 L41.2,233.3 L41.2,232.9 L41.3,232.4 L41.4,231.9 L41.5,231.5 L41.6,231.0 L41.8,230.6 L41.9,230.1 L42.1,229.6 L42.3,229.2 L42.4,228.7 L42.6,228.2 L42.8,227.8 L43.0,227.3 L43.3,226.9 L43.5,226.4 L43.8,225.9 L44.0,225.5 L44.2,225.0 L44.4,224.5 L44.7,224.1 L44.9,223.6 L45.1,223.2 L45.4,222.7 L45.8,222.2 L46.1,221.8 L46.2,221.3Z" fill="#c86a10" stroke="#3a3a3a" stroke-width="0.35" stroke-linejoin="round"/>
<path d="M57.9,239.8 L57.9,240.3 L57.9,240.8 L57.9,241.2 L57.9,241.7 L57.9,242.2 L57.9,242.7 L57.9,243.2 L57.9,243.6 L57.9,244.1 L57.9,244.6 L57.9,245.1 L57.9,245.6 L57.9,246.1 L57.9,246.5 L57.9,247.0 L57.9,247.5 L57.9,248.0 L57.9,248.5 L57.9,248.9 L57.9,249.4 L58.0,249.9 L58.0,250.4 L58.0,250.9 L58.1,251.3 L58.3,251.8 L58.5,252.3 L56.9,252.3 L57.0,251.8 L57.3,251.3 L57.4,250.9 L57.4,250.4 L57.4,249.9 L57.4,249.4 L57.4,248.9 L57.4,248.5 L57.4,248.0 L57.4,247.5 L57.4,247.0 L57.4,246.5 L57.4,246.1 L57.4,245.6 L57.4,245.1 L57.4,244.6 L57.4,244.1 L57.4,243.6 L57.4,243.2 L57.4,242.7 L57.4,242.2 L57.4,241.7 L57.4,241.2 L57.4,240.8 L57.4,240.3 L57.4,239.8Z" fill="#c86a10" stroke="#3a3a3a" stroke-width="0.35" stroke-linejoin="round"/>
<line x1="57.68" y1="239.8" x2="57.68" y2="251.34" stroke="#a0a0a0" stroke-width="0.95"/>
<path d="M69.1,237.3 L69.1,237.8 L69.1,238.2 L69.1,238.7 L69.1,239.2 L69.1,239.6 L69.1,240.1 L69.1,240.6 L69.1,241.1 L69.1,241.5 L69.1,242.0 L69.1,242.5 L69.1,242.9 L69.1,243.4 L69.1,243.9 L69.1,244.3 L69.1,244.8 L69.1,245.3 L69.1,245.7 L69.1,246.2 L69.1,246.7 L69.1,247.1 L69.1,247.6 L69.1,248.1 L69.1,248.6 L69.1,249.0 L69.1,249.5 L69.1,250.0 L69.1,250.4 L69.3,250.9 L69.8,251.4 L70.4,251.8 L70.6,252.3 L67.0,252.3 L67.3,251.8 L67.8,251.4 L68.4,250.9 L68.5,250.4 L68.6,250.0 L68.6,249.5 L68.6,249.0 L68.6,248.6 L68.6,248.1 L68.6,247.6 L68.6,247.1 L68.6,246.7 L68.6,246.2 L68.6,245.7 L68.6,245.3 L68.6,244.8 L68.6,244.3 L68.6,243.9 L68.6,243.4 L68.6,242.9 L68.6,242.5 L68.6,242.0 L68.6,241.5 L68.6,241.1 L68.6,240.6 L68.6,240.1 L68.6,239.6 L68.6,239.2 L68.6,238.7 L68.6,238.2 L68.6,237.8 L68.6,237.3Z" fill="#c86a10" stroke="#3a3a3a" stroke-width="0.35" stroke-linejoin="round"/>
<line x1="68.84" y1="237.3" x2="68.84" y2="250.43" stroke="#a0a0a0" stroke-width="0.95"/>
<path d="M80.2,230.4 L80.2,230.9 L80.2,231.3 L80.2,231.8 L80.2,232.3 L80.2,232.7 L80.2,233.2 L80.2,233.7 L80.2,234.1 L80.2,234.6 L80.2,235.1 L80.2,235.5 L80.3,236.0 L80.3,236.5 L80.3,236.9 L80.3,237.4 L80.3,237.9 L80.3,238.3 L80.3,238.8 L80.4,239.3 L80.4,239.7 L80.4,240.2 L80.5,240.7 L80.6,241.1 L80.7,241.6 L80.8,242.0 L81.0,242.5 L81.1,243.0 L81.2,243.4 L81.3,243.9 L81.4,244.4 L81.4,244.8 L81.4,245.3 L81.4,245.8 L81.4,246.2 L81.3,246.7 L81.2,247.2 L81.2,247.6 L81.2,248.1 L81.3,248.6 L81.4,249.0 L81.5,249.5 L81.8,250.0 L82.2,250.4 L82.7,250.9 L83.3,251.4 L84.0,251.8 L84.3,252.3 L75.7,252.3 L76.0,251.8 L76.7,251.4 L77.3,250.9 L77.8,250.4 L78.2,250.0 L78.5,249.5 L78.6,249.0 L78.7,248.6 L78.8,248.1 L78.8,247.6 L78.8,247.2 L78.7,246.7 L78.6,246.2 L78.6,245.8 L78.6,245.3 L78.6,244.8 L78.6,244.4 L78.7,243.9 L78.8,243.4 L78.9,243.0 L79.0,242.5 L79.2,242.0 L79.3,241.6 L79.4,241.1 L79.5,240.7 L79.6,240.2 L79.6,239.7 L79.6,239.3 L79.7,238.8 L79.7,238.3 L79.7,237.9 L79.7,237.4 L79.7,236.9 L79.7,236.5 L79.7,236.0 L79.8,235.5 L79.8,235.1 L79.8,234.6 L79.8,234.1 L79.8,233.7 L79.8,233.2 L79.8,232.7 L79.8,232.3 L79.8,231.8 L79.8,231.3 L79.8,230.9 L79.8,230.4Z" fill="#c86a10" stroke="#3a3a3a" stroke-width="0.35" stroke-linejoin="round"/>
<line x1="80" y1="230.4" x2="80" y2="240.19" stroke="#a0a0a0" stroke-width="0.95"/>
<path d="M91.4,234.5 L91.4,235.0 L91.4,235.4 L91.4,235.9 L91.4,236.4 L91.4,236.8 L91.4,237.3 L91.4,237.8 L91.4,238.2 L91.4,238.7 L91.4,239.2 L91.4,239.7 L91.4,240.1 L91.4,240.6 L91.4,241.1 L91.4,241.5 L91.4,242.0 L91.4,242.5 L91.4,242.9 L91.4,243.4 L91.4,243.9 L91.4,244.3 L91.4,244.8 L91.4,245.3 L91.4,245.7 L91.4,246.2 L91.4,246.7 L91.4,247.1 L91.4,247.6 L91.4,248.1 L91.4,248.6 L91.4,249.0 L91.4,249.5 L91.5,250.0 L91.5,250.4 L91.6,250.9 L92.0,251.4 L92.5,251.8 L92.7,252.3 L89.7,252.3 L89.9,251.8 L90.3,251.4 L90.7,250.9 L90.9,250.4 L90.9,250.0 L90.9,249.5 L90.9,249.0 L90.9,248.6 L90.9,248.1 L90.9,247.6 L90.9,247.1 L90.9,246.7 L90.9,246.2 L90.9,245.7 L90.9,245.3 L90.9,244.8 L90.9,244.3 L90.9,243.9 L90.9,243.4 L90.9,242.9 L90.9,242.5 L90.9,242.0 L90.9,241.5 L90.9,241.1 L90.9,240.6 L90.9,240.1 L90.9,239.7 L90.9,239.2 L90.9,238.7 L90.9,238.2 L90.9,237.8 L90.9,237.3 L90.9,236.8 L90.9,236.4 L90.9,235.9 L90.9,235.4 L90.9,235.0 L90.9,234.5Z" fill="#c86a10" stroke="#3a3a3a" stroke-width="0.35" stroke-linejoin="round"/>
<line x1="91.16" y1="234.5" x2="91.16" y2="250.43" stroke="#a0a0a0" stroke-width="0.95"/>
<path d="M102.6,232.1 L102.6,232.6 L102.6,233.0 L102.7,233.5 L102.7,234.0 L102.8,234.4 L102.9,234.9 L103.0,235.4 L103.1,235.9 L103.2,236.3 L103.2,236.8 L103.4,237.3 L103.5,237.7 L103.6,238.2 L103.8,238.7 L104.0,239.1 L104.3,239.6 L104.5,240.1 L104.7,240.6 L105.0,241.0 L105.2,241.5 L105.4,242.0 L105.5,242.4 L105.6,242.9 L105.6,243.4 L105.6,243.8 L105.6,244.3 L105.6,244.8 L105.5,245.3 L105.4,245.7 L105.3,246.2 L105.2,246.7 L105.0,247.1 L104.8,247.6 L104.6,248.1 L104.6,248.5 L104.7,249.0 L104.9,249.5 L105.1,250.0 L105.4,250.4 L105.8,250.9 L106.3,251.4 L106.7,251.8 L106.9,252.3 L97.7,252.3 L97.9,251.8 L98.3,251.4 L98.8,250.9 L99.3,250.4 L99.5,250.0 L99.7,249.5 L99.9,249.0 L100.0,248.5 L100.0,248.1 L99.9,247.6 L99.7,247.1 L99.5,246.7 L99.3,246.2 L99.2,245.7 L99.1,245.3 L99.0,244.8 L99.0,244.3 L99.0,243.8 L99.0,243.4 L99.1,242.9 L99.1,242.4 L99.2,242.0 L99.4,241.5 L99.7,241.0 L99.9,240.6 L100.1,240.1 L100.3,239.6 L100.6,239.1 L100.8,238.7 L101.0,238.2 L101.2,237.7 L101.3,237.3 L101.4,236.8 L101.5,236.3 L101.6,235.9 L101.7,235.4 L101.7,234.9 L101.8,234.4 L101.9,234.0 L102.0,233.5 L102.1,233.0 L102.1,232.6 L102.1,232.1Z" fill="#c86a10" stroke="#3a3a3a" stroke-width="0.35" stroke-linejoin="round"/>
<line x1="102.32" y1="232.1" x2="102.32" y2="233.98" stroke="#a0a0a0" stroke-width="0.95"/>
<path d="M113.7,236.5 L113.7,237.0 L113.7,237.5 L113.7,237.9 L113.7,238.4 L113.7,238.9 L113.7,239.4 L113.7,239.9 L113.7,240.3 L113.8,240.8 L113.8,241.3 L113.8,241.8 L113.8,242.2 L113.8,242.7 L113.8,243.2 L113.9,243.7 L113.9,244.2 L113.9,244.6 L114.0,245.1 L114.0,245.6 L114.1,246.1 L114.1,246.6 L114.2,247.0 L114.2,247.5 L114.3,248.0 L114.4,248.5 L114.5,248.9 L114.7,249.4 L115.0,249.9 L115.4,250.4 L115.7,250.9 L116.2,251.3 L116.7,251.8 L117.0,252.3 L110.0,252.3 L110.2,251.8 L110.7,251.3 L111.2,250.9 L111.6,250.4 L112.0,249.9 L112.3,249.4 L112.5,248.9 L112.6,248.5 L112.7,248.0 L112.7,247.5 L112.8,247.0 L112.8,246.6 L112.9,246.1 L112.9,245.6 L113.0,245.1 L113.0,244.6 L113.1,244.2 L113.1,243.7 L113.1,243.2 L113.1,242.7 L113.2,242.2 L113.2,241.8 L113.2,241.3 L113.2,240.8 L113.2,240.3 L113.2,239.9 L113.2,239.4 L113.2,238.9 L113.2,238.4 L113.2,237.9 L113.2,237.5 L113.2,237.0 L113.2,236.5Z" fill="#c86a10" stroke="#3a3a3a" stroke-width="0.35" stroke-linejoin="round"/>
<line x1="113.48" y1="236.5" x2="113.48" y2="244.16" stroke="#a0a0a0" stroke-width="0.95"/>
<path d="M24.4,257.2 L24.4,257.7 L24.4,258.1 L24.4,258.6 L24.4,259.1 L24.4,259.5 L24.4,260.0 L24.4,260.5 L24.4,260.9 L24.4,261.4 L24.4,261.9 L24.4,262.4 L24.4,262.8 L24.4,263.3 L24.4,263.8 L24.4,264.2 L24.4,264.7 L24.4,265.2 L24.4,265.6 L24.4,266.1 L24.4,266.6 L24.4,267.0 L24.4,267.5 L24.4,268.0 L24.4,268.4 L24.4,268.9 L24.4,269.4 L24.4,269.8 L24.4,270.3 L24.4,270.8 L24.4,271.2 L24.4,271.7 L24.4,272.2 L24.4,272.7 L24.4,273.1 L24.4,273.6 L24.4,274.1 L24.4,274.5 L24.4,275.0 L24.4,275.5 L24.4,275.9 L24.4,276.4 L24.4,276.9 L24.4,277.3 L24.4,277.8 L24.4,278.3 L24.5,278.7 L24.5,279.2 L24.5,279.7 L24.5,280.1 L24.5,280.6 L24.5,281.1 L24.5,281.6 L24.5,282.0 L24.5,282.5 L24.5,283.0 L24.5,283.4 L24.5,283.9 L24.5,284.4 L24.6,284.8 L24.7,285.3 L23.7,285.3 L23.8,284.8 L23.9,284.4 L23.9,283.9 L23.9,283.4 L23.9,283.0 L23.9,282.5 L23.9,282.0 L23.9,281.6 L23.9,281.1 L23.9,280.6 L23.9,280.1 L23.9,279.7 L23.9,279.2 L23.9,278.7 L23.9,278.3 L23.9,277.8 L23.9,277.3 L23.9,276.9 L23.9,276.4 L23.9,275.9 L23.9,275.5 L23.9,275.0 L23.9,274.5 L23.9,274.1 L23.9,273.6 L23.9,273.1 L23.9,272.7 L23.9,272.2 L23.9,271.7 L23.9,271.2 L23.9,270.8 L23.9,270.3 L23.9,269.8 L23.9,269.4 L23.9,268.9 L23.9,268.4 L23.9,268.0 L23.9,267.5 L23.9,267.0 L23.9,266.6 L23.9,266.1 L23.9,265.6 L23.9,265.2 L23.9,264.7 L23.9,264.2 L23.9,263.8 L23.9,263.3 L23.9,262.8 L23.9,262.4 L23.9,261.9 L23.9,261.4 L23.9,260.9 L23.9,260.5 L23.9,260.0 L23.9,259.5 L23.9,259.1 L23.9,258.6 L23.9,258.1 L23.9,257.7 L23.9,257.2Z" fill="#f49c18" stroke="#3a3a3a" stroke-width="0.35" stroke-linejoin="round"/>
<line x1="24.2" y1="257.2" x2="24.2" y2="284.83" stroke="#a0a0a0" stroke-width="0.95"/>
<path d="M35.6,268.8 L35.6,269.3 L35.6,269.7 L35.6,270.2 L35.6,270.7 L35.6,271.2 L35.6,271.6 L35.6,272.1 L35.6,272.6 L35.6,273.0 L35.6,273.5 L35.6,274.0 L35.6,274.5 L35.6,274.9 L35.6,275.4 L35.6,275.9 L35.6,276.3 L35.6,276.8 L35.6,277.3 L35.6,277.8 L35.6,278.2 L35.6,278.7 L35.6,279.2 L35.6,279.6 L35.6,280.1 L35.6,280.6 L35.6,281.1 L35.6,281.5 L35.6,282.0 L35.6,282.5 L35.6,282.9 L35.6,283.4 L35.7,283.9 L35.7,284.4 L35.7,284.8 L35.8,285.3 L35.0,285.3 L35.0,284.8 L35.1,284.4 L35.1,283.9 L35.1,283.4 L35.1,282.9 L35.1,282.5 L35.1,282.0 L35.1,281.5 L35.1,281.1 L35.1,280.6 L35.1,280.1 L35.1,279.6 L35.1,279.2 L35.1,278.7 L35.1,278.2 L35.1,277.8 L35.1,277.3 L35.1,276.8 L35.1,276.3 L35.1,275.9 L35.1,275.4 L35.1,274.9 L35.1,274.5 L35.1,274.0 L35.1,273.5 L35.1,273.0 L35.1,272.6 L35.1,272.1 L35.1,271.6 L35.1,271.2 L35.1,270.7 L35.1,270.2 L35.1,269.7 L35.1,269.3 L35.1,268.8Z" fill="#f49c18" stroke="#3a3a3a" stroke-width="0.35" stroke-linejoin="round"/>
<line x1="35.36" y1="268.8" x2="35.36" y2="285.3" stroke="#a0a0a0" stroke-width="0.95"/>
<path d="M46.8,267.8 L46.8,268.3 L46.8,268.7 L46.8,269.2 L46.8,269.7 L46.8,270.2 L46.8,270.6 L46.8,271.1 L46.8,271.6 L46.8,272.1 L46.8,272.5 L46.8,273.0 L46.8,273.5 L46.8,273.9 L46.8,274.4 L46.8,274.9 L46.8,275.4 L46.8,275.8 L46.8,276.3 L46.8,276.8 L46.8,277.3 L46.8,277.7 L46.8,278.2 L46.8,278.7 L46.8,279.2 L46.8,279.6 L46.8,280.1 L46.8,280.6 L46.8,281.0 L46.8,281.5 L46.8,282.0 L46.8,282.5 L46.8,282.9 L46.8,283.4 L46.8,283.9 L46.8,284.4 L46.9,284.8 L46.9,285.3 L46.1,285.3 L46.2,284.8 L46.2,284.4 L46.2,283.9 L46.2,283.4 L46.2,282.9 L46.2,282.5 L46.3,282.0 L46.3,281.5 L46.3,281.0 L46.3,280.6 L46.3,280.1 L46.3,279.6 L46.3,279.2 L46.3,278.7 L46.3,278.2 L46.3,277.7 L46.3,277.3 L46.3,276.8 L46.3,276.3 L46.3,275.8 L46.3,275.4 L46.3,274.9 L46.3,274.4 L46.3,273.9 L46.3,273.5 L46.3,273.0 L46.3,272.5 L46.3,272.1 L46.3,271.6 L46.3,271.1 L46.3,270.6 L46.3,270.2 L46.3,269.7 L46.3,269.2 L46.3,268.7 L46.3,268.3 L46.3,267.8Z" fill="#f49c18" stroke="#3a3a3a" stroke-width="0.35" stroke-linejoin="round"/>
<line x1="46.52" y1="267.8" x2="46.52" y2="285.3" stroke="#a0a0a0" stroke-width="0.95"/>
<path d="M69.1,267.3 L69.1,267.8 L69.1,268.2 L69.1,268.7 L69.1,269.2 L69.1,269.7 L69.1,270.1 L69.1,270.6 L69.1,271.1 L69.1,271.6 L69.1,272.0 L69.1,272.5 L69.1,273.0 L69.1,273.5 L69.1,273.9 L69.1,274.4 L69.1,274.9 L69.1,275.4 L69.1,275.8 L69.1,276.3 L69.1,276.8 L69.1,277.2 L69.1,277.7 L69.1,278.2 L69.1,278.7 L69.1,279.1 L69.1,279.6 L69.1,280.1 L69.1,280.6 L69.1,281.0 L69.1,281.5 L69.1,282.0 L69.1,282.5 L69.1,282.9 L69.1,283.4 L69.1,283.9 L69.1,284.4 L69.2,284.8 L69.2,285.3 L68.4,285.3 L68.5,284.8 L68.5,284.4 L68.5,283.9 L68.6,283.4 L68.6,282.9 L68.6,282.5 L68.6,282.0 L68.6,281.5 L68.6,281.0 L68.6,280.6 L68.6,280.1 L68.6,279.6 L68.6,279.1 L68.6,278.7 L68.6,278.2 L68.6,277.7 L68.6,277.2 L68.6,276.8 L68.6,276.3 L68.6,275.8 L68.6,275.4 L68.6,274.9 L68.6,274.4 L68.6,273.9 L68.6,273.5 L68.6,273.0 L68.6,272.5 L68.6,272.0 L68.6,271.6 L68.6,271.1 L68.6,270.6 L68.6,270.1 L68.6,269.7 L68.6,269.2 L68.6,268.7 L68.6,268.2 L68.6,267.8 L68.6,267.3Z" fill="#f49c18" stroke="#3a3a3a" stroke-width="0.35" stroke-linejoin="round"/>
<line x1="68.84" y1="267.3" x2="68.84" y2="285.3" stroke="#a0a0a0" stroke-width="0.95"/>
<path d="M80.3,255.2 L80.4,255.7 L80.6,256.1 L80.9,256.6 L81.2,257.1 L81.5,257.5 L81.8,258.0 L82.2,258.4 L82.5,258.9 L82.8,259.4 L83.1,259.8 L83.4,260.3 L83.6,260.8 L83.8,261.2 L84.1,261.7 L84.3,262.1 L84.5,262.6 L84.6,263.1 L84.8,263.5 L84.9,264.0 L85.1,264.5 L85.2,264.9 L85.3,265.4 L85.4,265.9 L85.4,266.3 L85.3,266.8 L85.2,267.2 L85.0,267.7 L84.8,268.2 L84.6,268.6 L84.4,269.1 L84.1,269.6 L83.9,270.0 L83.6,270.5 L83.3,270.9 L83.0,271.4 L82.7,271.9 L82.4,272.3 L82.0,272.8 L81.7,273.3 L81.3,273.7 L81.0,274.2 L80.7,274.6 L80.5,275.1 L80.5,275.6 L80.5,276.0 L80.4,276.5 L80.4,277.0 L80.4,277.4 L80.4,277.9 L80.4,278.4 L80.4,278.8 L80.4,279.3 L80.3,279.7 L80.3,280.2 L80.3,280.7 L80.3,281.1 L80.3,281.6 L80.3,282.1 L80.3,282.5 L80.3,283.0 L80.3,283.4 L80.3,283.9 L80.3,284.4 L80.4,284.8 L80.6,285.3 L79.4,285.3 L79.6,284.8 L79.7,284.4 L79.7,283.9 L79.7,283.4 L79.7,283.0 L79.7,282.5 L79.7,282.1 L79.7,281.6 L79.7,281.1 L79.7,280.7 L79.7,280.2 L79.7,279.7 L79.6,279.3 L79.6,278.8 L79.6,278.4 L79.6,277.9 L79.6,277.4 L79.6,277.0 L79.6,276.5 L79.5,276.0 L79.5,275.6 L79.5,275.1 L79.3,274.6 L79.0,274.2 L78.7,273.7 L78.3,273.3 L78.0,272.8 L77.6,272.3 L77.3,271.9 L77.0,271.4 L76.7,270.9 L76.4,270.5 L76.1,270.0 L75.9,269.6 L75.6,269.1 L75.4,268.6 L75.2,268.2 L75.0,267.7 L74.8,267.2 L74.7,266.8 L74.6,266.3 L74.6,265.9 L74.7,265.4 L74.8,264.9 L74.9,264.5 L75.1,264.0 L75.2,263.5 L75.4,263.1 L75.5,262.6 L75.7,262.1 L75.9,261.7 L76.2,261.2 L76.4,260.8 L76.6,260.3 L76.9,259.8 L77.2,259.4 L77.5,258.9 L77.8,258.4 L78.2,258.0 L78.5,257.5 L78.8,257.1 L79.1,256.6 L79.4,256.1 L79.6,255.7 L79.7,255.2Z" fill="#f49c18" stroke="#3a3a3a" stroke-width="0.35" stroke-linejoin="round"/>
<line x1="80" y1="277.43" x2="80" y2="284.84" stroke="#a0a0a0" stroke-width="0.95"/>
<path d="M91.5,254.6 L91.6,255.1 L91.8,255.5 L92.1,256.0 L92.4,256.5 L92.7,256.9 L93.0,257.4 L93.4,257.9 L93.7,258.3 L94.0,258.8 L94.3,259.3 L94.6,259.7 L94.8,260.2 L95.1,260.6 L95.4,261.1 L95.7,261.6 L95.9,262.0 L96.1,262.5 L96.2,263.0 L96.3,263.4 L96.4,263.9 L96.3,264.4 L96.2,264.8 L96.1,265.3 L96.0,265.8 L95.8,266.2 L95.7,266.7 L95.5,267.2 L95.3,267.6 L95.1,268.1 L94.9,268.6 L94.7,269.0 L94.5,269.5 L94.2,269.9 L94.0,270.4 L93.8,270.9 L93.5,271.3 L93.2,271.8 L92.8,272.3 L92.5,272.7 L92.2,273.2 L92.0,273.7 L91.8,274.1 L91.7,274.6 L91.6,275.1 L91.6,275.5 L91.6,276.0 L91.6,276.5 L91.6,276.9 L91.6,277.4 L91.5,277.9 L91.5,278.3 L91.5,278.8 L91.5,279.3 L91.5,279.7 L91.5,280.2 L91.5,280.6 L91.5,281.1 L91.5,281.6 L91.5,282.0 L91.5,282.5 L91.5,283.0 L91.5,283.4 L91.5,283.9 L91.5,284.4 L91.6,284.8 L91.8,285.3 L90.6,285.3 L90.7,284.8 L90.9,284.4 L90.9,283.9 L90.9,283.4 L90.9,283.0 L90.9,282.5 L90.8,282.0 L90.8,281.6 L90.8,281.1 L90.8,280.6 L90.8,280.2 L90.8,279.7 L90.8,279.3 L90.8,278.8 L90.8,278.3 L90.8,277.9 L90.8,277.4 L90.7,276.9 L90.7,276.5 L90.7,276.0 L90.7,275.5 L90.7,275.1 L90.6,274.6 L90.5,274.1 L90.3,273.7 L90.1,273.2 L89.8,272.7 L89.5,272.3 L89.2,271.8 L88.9,271.3 L88.6,270.9 L88.3,270.4 L88.1,269.9 L87.8,269.5 L87.6,269.0 L87.4,268.6 L87.2,268.1 L87.0,267.6 L86.8,267.2 L86.7,266.7 L86.5,266.2 L86.3,265.8 L86.2,265.3 L86.1,264.8 L86.0,264.4 L86.0,263.9 L86.0,263.4 L86.1,263.0 L86.2,262.5 L86.4,262.0 L86.7,261.6 L86.9,261.1 L87.2,260.6 L87.5,260.2 L87.7,259.7 L88.0,259.3 L88.3,258.8 L88.6,258.3 L88.9,257.9 L89.3,257.4 L89.6,256.9 L89.9,256.5 L90.2,256.0 L90.5,255.5 L90.8,255.1 L90.9,254.6Z" fill="#f49c18" stroke="#3a3a3a" stroke-width="0.35" stroke-linejoin="round"/>
<line x1="91.16" y1="276.93" x2="91.16" y2="284.83" stroke="#a0a0a0" stroke-width="0.95"/>
<path d="M102.8,253.5 L102.9,254.0 L103.0,254.4 L103.1,254.9 L103.2,255.4 L103.3,255.8 L103.4,256.3 L103.4,256.8 L103.4,257.2 L103.5,257.7 L103.5,258.2 L103.5,258.6 L103.6,259.1 L103.6,259.6 L103.6,260.0 L103.6,260.5 L103.7,261.0 L103.7,261.4 L103.7,261.9 L103.7,262.4 L103.8,262.9 L103.8,263.3 L103.8,263.8 L103.8,264.3 L103.8,264.7 L103.8,265.2 L103.8,265.7 L103.8,266.1 L103.8,266.6 L103.8,267.1 L103.8,267.5 L103.8,268.0 L103.8,268.5 L103.7,268.9 L103.7,269.4 L103.7,269.9 L103.7,270.3 L103.7,270.8 L103.7,271.3 L103.7,271.7 L103.7,272.2 L103.7,272.7 L103.6,273.1 L103.6,273.6 L103.6,274.1 L103.6,274.5 L103.6,275.0 L103.6,275.5 L103.6,275.9 L103.7,276.4 L103.7,276.9 L103.8,277.4 L103.8,277.8 L103.9,278.3 L104.0,278.8 L104.1,279.2 L104.2,279.7 L104.4,280.2 L104.6,280.6 L104.8,281.1 L105.0,281.6 L105.3,282.0 L105.6,282.5 L105.9,283.0 L106.2,283.4 L106.4,283.9 L106.7,284.4 L106.8,284.8 L106.9,285.3 L97.7,285.3 L97.8,284.8 L98.0,284.4 L98.2,283.9 L98.5,283.4 L98.7,283.0 L99.0,282.5 L99.3,282.0 L99.6,281.6 L99.9,281.1 L100.1,280.6 L100.3,280.2 L100.4,279.7 L100.6,279.2 L100.7,278.8 L100.7,278.3 L100.8,277.8 L100.9,277.4 L100.9,276.9 L101.0,276.4 L101.0,275.9 L101.0,275.5 L101.0,275.0 L101.0,274.5 L101.0,274.1 L101.0,273.6 L101.0,273.1 L101.0,272.7 L101.0,272.2 L101.0,271.7 L101.0,271.3 L100.9,270.8 L100.9,270.3 L100.9,269.9 L100.9,269.4 L100.9,268.9 L100.9,268.5 L100.9,268.0 L100.9,267.5 L100.8,267.1 L100.8,266.6 L100.8,266.1 L100.8,265.7 L100.8,265.2 L100.8,264.7 L100.8,264.3 L100.8,263.8 L100.9,263.3 L100.9,262.9 L100.9,262.4 L100.9,261.9 L100.9,261.4 L101.0,261.0 L101.0,260.5 L101.0,260.0 L101.0,259.6 L101.1,259.1 L101.1,258.6 L101.1,258.2 L101.2,257.7 L101.2,257.2 L101.2,256.8 L101.3,256.3 L101.3,255.8 L101.4,255.4 L101.6,254.9 L101.7,254.4 L101.8,254.0 L101.8,253.5Z" fill="#f49c18" stroke="#3a3a3a" stroke-width="0.35" stroke-linejoin="round"/>
<path d="M113.7,262.1 L113.7,262.6 L113.7,263.0 L113.7,263.5 L113.8,264.0 L113.8,264.4 L113.9,264.9 L113.9,265.3 L114.0,265.8 L114.0,266.3 L114.1,266.7 L114.1,267.2 L114.2,267.7 L114.2,268.1 L114.3,268.6 L114.4,269.1 L114.4,269.5 L114.5,270.0 L114.5,270.5 L114.6,270.9 L114.7,271.4 L114.8,271.8 L114.8,272.3 L114.9,272.8 L114.9,273.2 L115.0,273.7 L115.0,274.2 L115.0,274.6 L115.0,275.1 L114.9,275.6 L114.9,276.0 L114.9,276.5 L114.8,276.9 L114.8,277.4 L114.7,277.9 L114.7,278.3 L114.6,278.8 L114.5,279.3 L114.4,279.7 L114.4,280.2 L114.4,280.7 L114.4,281.1 L114.6,281.6 L114.7,282.1 L114.9,282.5 L115.1,283.0 L115.5,283.4 L115.8,283.9 L116.1,284.4 L116.4,284.8 L116.5,285.3 L110.5,285.3 L110.6,284.8 L110.8,284.4 L111.1,283.9 L111.5,283.4 L111.8,283.0 L112.1,282.5 L112.2,282.1 L112.4,281.6 L112.5,281.1 L112.6,280.7 L112.6,280.2 L112.5,279.7 L112.5,279.3 L112.4,278.8 L112.3,278.3 L112.2,277.9 L112.2,277.4 L112.1,276.9 L112.1,276.5 L112.1,276.0 L112.0,275.6 L112.0,275.1 L112.0,274.6 L112.0,274.2 L112.0,273.7 L112.0,273.2 L112.1,272.8 L112.1,272.3 L112.2,271.8 L112.3,271.4 L112.4,270.9 L112.4,270.5 L112.5,270.0 L112.5,269.5 L112.6,269.1 L112.7,268.6 L112.7,268.1 L112.8,267.7 L112.8,267.2 L112.9,266.7 L113.0,266.3 L113.0,265.8 L113.0,265.3 L113.1,264.9 L113.1,264.4 L113.2,264.0 L113.2,263.5 L113.2,263.0 L113.2,262.6 L113.2,262.1Z" fill="#f49c18" stroke="#3a3a3a" stroke-width="0.35" stroke-linejoin="round"/>
<line x1="113.48" y1="262.1" x2="113.48" y2="264.88" stroke="#a0a0a0" stroke-width="0.95"/>
<rect x="17" y="219.1" width="103.7" height="66.2" fill="none" stroke="#222" stroke-width="0.95"/>
<line x1="17" y1="252.3" x2="120.7" y2="252.3" stroke="#222" stroke-width="0.95"/>
<line x1="120.7" y1="223.5" x2="123.3" y2="223.5" stroke="#222" stroke-width="0.85"/>
<line x1="120.7" y1="229.6" x2="123.3" y2="229.6" stroke="#222" stroke-width="0.85"/>
<line x1="120.7" y1="235.3" x2="123.3" y2="235.3" stroke="#222" stroke-width="0.85"/>
<line x1="120.7" y1="241" x2="123.3" y2="241" stroke="#222" stroke-width="0.85"/>
<line x1="120.7" y1="246.5" x2="123.3" y2="246.5" stroke="#222" stroke-width="0.85"/>
<line x1="120.7" y1="257.3" x2="123.3" y2="257.3" stroke="#222" stroke-width="0.85"/>
<line x1="120.7" y1="264.3" x2="123.3" y2="264.3" stroke="#222" stroke-width="0.85"/>
<line x1="120.7" y1="271.4" x2="123.3" y2="271.4" stroke="#222" stroke-width="0.85"/>
<line x1="120.7" y1="278.5" x2="123.3" y2="278.5" stroke="#222" stroke-width="0.85"/>
<text transform="translate(126.6,223.5) rotate(90)" font-size="5.7" text-anchor="middle" fill="#555" font-weight="normal">5</text>
<text transform="translate(126.6,257.3) rotate(90)" font-size="5.7" text-anchor="middle" fill="#555" font-weight="normal">4</text>
<text transform="translate(135.3,252.4) rotate(90) scale(0.76,1)" font-size="6.6" text-anchor="middle" fill="#333" font-weight="bold">Expression level</text>
<text transform="translate(26.2,288.9) rotate(-90)" font-size="5.8" text-anchor="end" fill="#383838" font-weight="normal">MPO</text>
<text transform="translate(37.36,288.9) rotate(-90)" font-size="5.8" text-anchor="end" fill="#383838" font-weight="normal">PRTN3</text>
<text transform="translate(48.52,288.9) rotate(-90)" font-size="5.8" text-anchor="end" fill="#383838" font-weight="normal">ELANE</text>
<text transform="translate(59.68,288.9) rotate(-90)" font-size="5.8" text-anchor="end" fill="#383838" font-weight="normal">LTF</text>
<text transform="translate(70.84,288.9) rotate(-90)" font-size="5.8" text-anchor="end" fill="#383838" font-weight="normal">MMP9</text>
<text transform="translate(82,288.9) rotate(-90)" font-size="5.8" text-anchor="end" fill="#383838" font-weight="normal">RUNX1</text>
<text transform="translate(93.16,288.9) rotate(-90)" font-size="5.8" text-anchor="end" fill="#383838" font-weight="normal">GATA2</text>
<text transform="translate(104.32,288.9) rotate(-90)" font-size="5.8" text-anchor="end" fill="#383838" font-weight="normal">CXCR4</text>
<text transform="translate(115.48,288.9) rotate(-90)" font-size="5.8" text-anchor="end" fill="#383838" font-weight="normal">CEBPA</text>
<rect x="20" y="314.4" width="3.8" height="3.8" fill="#c86a10"/>
<text transform="translate(27,318.4)" font-size="6" text-anchor="start" fill="#262626" font-weight="normal">Neutrophils</text>
<rect x="63.9" y="314.4" width="3.8" height="3.8" fill="#f49c18"/>
<text transform="translate(70.4,318.4)" font-size="6" text-anchor="start" fill="#262626" font-weight="normal">Neutrophil precursors</text>
<text transform="translate(169.7,211.8)" font-size="7.8" text-anchor="start" fill="#222" font-weight="normal">Monocytic lineage</text>
<line x1="169.7" y1="213.3" x2="232.13" y2="213.3" stroke="#333" stroke-width="0.55"/>
<path d="M162.7,221.8 L162.7,222.3 L162.8,222.7 L162.9,223.2 L163.1,223.7 L163.2,224.1 L163.4,224.6 L163.7,225.1 L164.1,225.5 L164.5,226.0 L164.9,226.5 L165.2,226.9 L165.5,227.4 L165.9,227.9 L166.3,228.3 L166.7,228.8 L167.0,229.3 L167.2,229.7 L167.3,230.2 L167.3,230.7 L167.2,231.1 L167.1,231.6 L166.8,232.1 L166.5,232.5 L166.2,233.0 L166.0,233.5 L165.7,233.9 L165.4,234.4 L165.2,234.9 L164.9,235.3 L164.7,235.8 L164.4,236.3 L164.1,236.7 L163.8,237.2 L163.4,237.6 L163.1,238.1 L163.0,238.6 L162.9,239.0 L162.9,239.5 L162.9,240.0 L162.9,240.4 L162.9,240.9 L162.9,241.4 L162.8,241.8 L162.8,242.3 L162.8,242.8 L162.8,243.2 L162.8,243.7 L162.8,244.2 L162.8,244.6 L162.8,245.1 L162.8,245.6 L162.8,246.0 L162.8,246.5 L162.8,247.0 L162.8,247.4 L162.8,247.9 L162.8,248.4 L162.8,248.8 L162.8,249.3 L162.8,249.8 L162.8,250.2 L162.8,250.7 L162.9,251.2 L163.1,251.6 L163.2,252.1 L161.6,252.1 L161.8,251.6 L162.0,251.2 L162.1,250.7 L162.1,250.2 L162.1,249.8 L162.1,249.3 L162.1,248.8 L162.1,248.4 L162.1,247.9 L162.1,247.4 L162.1,247.0 L162.1,246.5 L162.1,246.0 L162.1,245.6 L162.1,245.1 L162.1,244.6 L162.1,244.2 L162.1,243.7 L162.1,243.2 L162.1,242.8 L162.1,242.3 L162.1,241.8 L162.0,241.4 L162.0,240.9 L162.0,240.4 L162.0,240.0 L162.0,239.5 L162.0,239.0 L161.9,238.6 L161.8,238.1 L161.5,237.6 L161.1,237.2 L160.8,236.7 L160.5,236.3 L160.2,235.8 L160.0,235.3 L159.7,234.9 L159.5,234.4 L159.2,233.9 L158.9,233.5 L158.7,233.0 L158.4,232.5 L158.1,232.1 L157.8,231.6 L157.7,231.1 L157.6,230.7 L157.6,230.2 L157.7,229.7 L157.9,229.3 L158.2,228.8 L158.6,228.3 L159.0,227.9 L159.4,227.4 L159.7,226.9 L160.0,226.5 L160.4,226.0 L160.8,225.5 L161.2,225.1 L161.5,224.6 L161.7,224.1 L161.8,223.7 L162.0,223.2 L162.1,222.7 L162.2,222.3 L162.2,221.8Z" fill="#a6ba8c" stroke="#3a3a3a" stroke-width="0.35" stroke-linejoin="round"/>
<line x1="162.45" y1="221.8" x2="162.45" y2="222.73" stroke="#a0a0a0" stroke-width="0.95"/>
<line x1="162.45" y1="240.91" x2="162.45" y2="250.7" stroke="#a0a0a0" stroke-width="0.95"/>
<path d="M173.6,232.3 L173.6,232.8 L173.6,233.2 L173.6,233.7 L173.6,234.2 L173.6,234.7 L173.6,235.1 L173.6,235.6 L173.7,236.1 L173.7,236.5 L173.7,237.0 L173.7,237.5 L173.8,238.0 L173.9,238.4 L174.0,238.9 L174.2,239.4 L174.4,239.8 L174.6,240.3 L174.7,240.8 L174.9,241.3 L175.1,241.7 L175.2,242.2 L175.4,242.7 L175.5,243.1 L175.6,243.6 L175.7,244.1 L175.8,244.6 L175.8,245.0 L175.7,245.5 L175.7,246.0 L175.6,246.4 L175.5,246.9 L175.4,247.4 L175.2,247.9 L175.0,248.3 L174.9,248.8 L174.9,249.3 L174.9,249.7 L175.0,250.2 L175.1,250.7 L175.4,251.2 L175.7,251.6 L175.9,252.1 L170.9,252.1 L171.1,251.6 L171.4,251.2 L171.6,250.7 L171.7,250.2 L171.8,249.7 L171.9,249.3 L171.8,248.8 L171.7,248.3 L171.5,247.9 L171.4,247.4 L171.3,246.9 L171.2,246.4 L171.1,246.0 L171.0,245.5 L171.0,245.0 L171.0,244.6 L171.0,244.1 L171.1,243.6 L171.3,243.1 L171.4,242.7 L171.5,242.2 L171.7,241.7 L171.8,241.3 L172.0,240.8 L172.2,240.3 L172.4,239.8 L172.6,239.4 L172.7,238.9 L172.9,238.4 L173.0,238.0 L173.0,237.5 L173.0,237.0 L173.1,236.5 L173.1,236.1 L173.1,235.6 L173.1,235.1 L173.1,234.7 L173.1,234.2 L173.1,233.7 L173.1,233.2 L173.1,232.8 L173.1,232.3Z" fill="#a6ba8c" stroke="#3a3a3a" stroke-width="0.35" stroke-linejoin="round"/>
<line x1="173.38" y1="232.3" x2="173.38" y2="237.96" stroke="#a0a0a0" stroke-width="0.95"/>
<path d="M184.6,231.9 L184.6,232.4 L184.6,232.8 L184.6,233.3 L184.6,233.8 L184.6,234.2 L184.7,234.7 L184.7,235.2 L184.8,235.7 L185.0,236.1 L185.2,236.6 L185.4,237.1 L185.7,237.5 L186.1,238.0 L186.5,238.5 L186.9,238.9 L187.3,239.4 L187.7,239.9 L188.1,240.4 L188.4,240.8 L188.7,241.3 L188.9,241.8 L189.1,242.2 L189.2,242.7 L189.3,243.2 L189.3,243.6 L189.3,244.1 L189.2,244.6 L189.1,245.1 L189.0,245.5 L188.9,246.0 L188.7,246.5 L188.5,246.9 L188.1,247.4 L187.8,247.9 L187.4,248.3 L186.9,248.8 L186.5,249.3 L186.3,249.8 L186.4,250.2 L186.5,250.7 L186.7,251.2 L187.1,251.6 L187.3,252.1 L181.3,252.1 L181.5,251.6 L181.9,251.2 L182.1,250.7 L182.2,250.2 L182.3,249.8 L182.2,249.3 L181.7,248.8 L181.2,248.3 L180.8,247.9 L180.5,247.4 L180.2,246.9 L179.9,246.5 L179.7,246.0 L179.6,245.5 L179.5,245.1 L179.4,244.6 L179.3,244.1 L179.3,243.6 L179.3,243.2 L179.4,242.7 L179.6,242.2 L179.7,241.8 L180.0,241.3 L180.2,240.8 L180.5,240.4 L180.9,239.9 L181.4,239.4 L181.8,238.9 L182.1,238.5 L182.5,238.0 L182.9,237.5 L183.2,237.1 L183.5,236.6 L183.6,236.1 L183.8,235.7 L183.9,235.2 L183.9,234.7 L184.0,234.2 L184.0,233.8 L184.1,233.3 L184.1,232.8 L184.1,232.4 L184.1,231.9Z" fill="#a6ba8c" stroke="#3a3a3a" stroke-width="0.35" stroke-linejoin="round"/>
<line x1="184.31" y1="231.9" x2="184.31" y2="234.72" stroke="#a0a0a0" stroke-width="0.95"/>
<path d="M195.5,221.3 L195.8,221.8 L196.5,222.2 L197.1,222.7 L197.7,223.2 L198.3,223.6 L198.9,224.1 L199.4,224.6 L199.9,225.0 L200.2,225.5 L200.2,226.0 L200.0,226.4 L199.7,226.9 L199.3,227.4 L199.0,227.8 L198.6,228.3 L198.2,228.8 L197.7,229.2 L197.2,229.7 L196.5,230.2 L195.9,230.6 L195.7,231.1 L195.7,231.6 L195.7,232.0 L195.7,232.5 L195.7,233.0 L195.7,233.4 L195.7,233.9 L195.7,234.4 L195.6,234.8 L195.6,235.3 L195.6,235.8 L195.6,236.2 L195.6,236.7 L195.6,237.2 L195.6,237.6 L195.6,238.1 L195.6,238.6 L195.6,239.0 L195.6,239.5 L195.6,240.0 L195.6,240.4 L195.6,240.9 L195.6,241.4 L195.6,241.8 L195.6,242.3 L195.6,242.8 L195.6,243.2 L195.6,243.7 L195.5,244.2 L195.5,244.6 L195.5,245.1 L195.5,245.6 L195.5,246.0 L195.5,246.5 L195.5,247.0 L195.5,247.4 L195.5,247.9 L195.5,248.4 L195.5,248.8 L195.5,249.3 L195.5,249.8 L195.5,250.2 L195.6,250.7 L195.7,251.2 L195.8,251.6 L195.8,252.1 L194.6,252.1 L194.7,251.6 L194.8,251.2 L194.9,250.7 L194.9,250.2 L194.9,249.8 L194.9,249.3 L194.9,248.8 L194.9,248.4 L194.9,247.9 L194.9,247.4 L194.9,247.0 L194.9,246.5 L194.9,246.0 L194.9,245.6 L194.9,245.1 L194.9,244.6 L194.9,244.2 L194.9,243.7 L194.9,243.2 L194.9,242.8 L194.9,242.3 L194.9,241.8 L194.9,241.4 L194.9,240.9 L194.9,240.4 L194.9,240.0 L194.9,239.5 L194.9,239.0 L194.9,238.6 L194.9,238.1 L194.9,237.6 L194.9,237.2 L194.9,236.7 L194.9,236.2 L194.8,235.8 L194.8,235.3 L194.8,234.8 L194.8,234.4 L194.8,233.9 L194.8,233.4 L194.8,233.0 L194.8,232.5 L194.8,232.0 L194.8,231.6 L194.7,231.1 L194.6,230.6 L194.0,230.2 L193.3,229.7 L192.8,229.2 L192.3,228.8 L191.9,228.3 L191.5,227.8 L191.1,227.4 L190.8,226.9 L190.5,226.4 L190.3,226.0 L190.3,225.5 L190.5,225.0 L191.1,224.6 L191.6,224.1 L192.2,223.6 L192.8,223.2 L193.4,222.7 L194.0,222.2 L194.6,221.8 L194.9,221.3Z" fill="#a6ba8c" stroke="#3a3a3a" stroke-width="0.35" stroke-linejoin="round"/>
<line x1="195.24" y1="234.37" x2="195.24" y2="251.17" stroke="#a0a0a0" stroke-width="0.95"/>
<path d="M206.4,231.1 L206.4,231.6 L206.4,232.0 L206.4,232.5 L206.4,233.0 L206.4,233.4 L206.4,233.9 L206.4,234.4 L206.4,234.8 L206.4,235.3 L206.4,235.8 L206.4,236.2 L206.4,236.7 L206.4,237.2 L206.4,237.6 L206.4,238.1 L206.4,238.6 L206.4,239.0 L206.4,239.5 L206.4,240.0 L206.4,240.4 L206.4,240.9 L206.4,241.4 L206.4,241.8 L206.4,242.3 L206.4,242.8 L206.4,243.2 L206.4,243.7 L206.4,244.2 L206.4,244.6 L206.4,245.1 L206.4,245.6 L206.4,246.0 L206.4,246.5 L206.4,247.0 L206.4,247.4 L206.4,247.9 L206.4,248.4 L206.4,248.8 L206.4,249.3 L206.5,249.8 L206.5,250.2 L206.5,250.7 L206.5,251.2 L206.6,251.6 L206.7,252.1 L205.7,252.1 L205.7,251.6 L205.9,251.2 L205.9,250.7 L205.9,250.2 L205.9,249.8 L205.9,249.3 L205.9,248.8 L205.9,248.4 L205.9,247.9 L205.9,247.4 L205.9,247.0 L205.9,246.5 L205.9,246.0 L205.9,245.6 L205.9,245.1 L205.9,244.6 L205.9,244.2 L205.9,243.7 L205.9,243.2 L205.9,242.8 L205.9,242.3 L205.9,241.8 L205.9,241.4 L205.9,240.9 L205.9,240.4 L205.9,240.0 L205.9,239.5 L205.9,239.0 L205.9,238.6 L205.9,238.1 L205.9,237.6 L205.9,237.2 L205.9,236.7 L205.9,236.2 L205.9,235.8 L205.9,235.3 L205.9,234.8 L205.9,234.4 L205.9,233.9 L205.9,233.4 L205.9,233.0 L205.9,232.5 L205.9,232.0 L205.9,231.6 L205.9,231.1Z" fill="#a6ba8c" stroke="#3a3a3a" stroke-width="0.35" stroke-linejoin="round"/>
<line x1="206.17" y1="231.1" x2="206.17" y2="251.17" stroke="#a0a0a0" stroke-width="0.95"/>
<path d="M217.3,235.7 L217.3,236.2 L217.3,236.6 L217.3,237.1 L217.3,237.6 L217.3,238.0 L217.3,238.5 L217.3,239.0 L217.3,239.4 L217.3,239.9 L217.3,240.4 L217.3,240.9 L217.3,241.3 L217.3,241.8 L217.3,242.3 L217.3,242.7 L217.3,243.2 L217.3,243.7 L217.3,244.1 L217.3,244.6 L217.3,245.1 L217.3,245.5 L217.3,246.0 L217.3,246.5 L217.3,246.9 L217.3,247.4 L217.4,247.9 L217.4,248.4 L217.4,248.8 L217.4,249.3 L217.4,249.8 L217.4,250.2 L217.4,250.7 L217.4,251.2 L217.4,251.6 L217.4,252.1 L216.8,252.1 L216.8,251.6 L216.8,251.2 L216.8,250.7 L216.8,250.2 L216.8,249.8 L216.8,249.3 L216.8,248.8 L216.8,248.4 L216.8,247.9 L216.8,247.4 L216.8,246.9 L216.8,246.5 L216.8,246.0 L216.8,245.5 L216.8,245.1 L216.8,244.6 L216.8,244.1 L216.8,243.7 L216.8,243.2 L216.8,242.7 L216.8,242.3 L216.8,241.8 L216.8,241.3 L216.8,240.9 L216.8,240.4 L216.8,239.9 L216.8,239.4 L216.8,239.0 L216.8,238.5 L216.8,238.0 L216.8,237.6 L216.8,237.1 L216.8,236.6 L216.8,236.2 L216.8,235.7Z" fill="#a6ba8c" stroke="#3a3a3a" stroke-width="0.35" stroke-linejoin="round"/>
<line x1="217.1" y1="235.7" x2="217.1" y2="252.1" stroke="#a0a0a0" stroke-width="0.95"/>
<path d="M228.3,242.0 L228.3,242.5 L228.3,243.0 L228.3,243.4 L228.3,243.9 L228.3,244.4 L228.3,244.9 L228.3,245.4 L228.3,245.8 L228.3,246.3 L228.3,246.8 L228.3,247.3 L228.3,247.8 L228.3,248.3 L228.3,248.7 L228.3,249.2 L228.3,249.7 L228.3,250.2 L228.3,250.7 L228.3,251.1 L228.3,251.6 L228.4,252.1 L227.7,252.1 L227.7,251.6 L227.7,251.1 L227.7,250.7 L227.8,250.2 L227.8,249.7 L227.8,249.2 L227.8,248.7 L227.8,248.3 L227.8,247.8 L227.8,247.3 L227.8,246.8 L227.8,246.3 L227.8,245.8 L227.8,245.4 L227.8,244.9 L227.8,244.4 L227.8,243.9 L227.8,243.4 L227.8,243.0 L227.8,242.5 L227.8,242.0Z" fill="#a6ba8c" stroke="#3a3a3a" stroke-width="0.35" stroke-linejoin="round"/>
<line x1="228.03" y1="242" x2="228.03" y2="252.1" stroke="#a0a0a0" stroke-width="0.95"/>
<path d="M239.2,235.7 L239.2,236.2 L239.2,236.6 L239.2,237.1 L239.2,237.6 L239.2,238.0 L239.2,238.5 L239.2,239.0 L239.2,239.4 L239.2,239.9 L239.2,240.4 L239.2,240.9 L239.2,241.3 L239.2,241.8 L239.2,242.3 L239.2,242.7 L239.2,243.2 L239.2,243.7 L239.2,244.1 L239.2,244.6 L239.2,245.1 L239.2,245.5 L239.2,246.0 L239.2,246.5 L239.2,246.9 L239.2,247.4 L239.2,247.9 L239.2,248.4 L239.2,248.8 L239.2,249.3 L239.2,249.8 L239.2,250.2 L239.2,250.7 L239.3,251.2 L239.3,251.6 L239.3,252.1 L238.6,252.1 L238.7,251.6 L238.7,251.2 L238.7,250.7 L238.7,250.2 L238.7,249.8 L238.7,249.3 L238.7,248.8 L238.7,248.4 L238.7,247.9 L238.7,247.4 L238.7,246.9 L238.7,246.5 L238.7,246.0 L238.7,245.5 L238.7,245.1 L238.7,244.6 L238.7,244.1 L238.7,243.7 L238.7,243.2 L238.7,242.7 L238.7,242.3 L238.7,241.8 L238.7,241.3 L238.7,240.9 L238.7,240.4 L238.7,239.9 L238.7,239.4 L238.7,239.0 L238.7,238.5 L238.7,238.0 L238.7,237.6 L238.7,237.1 L238.7,236.6 L238.7,236.2 L238.7,235.7Z" fill="#a6ba8c" stroke="#3a3a3a" stroke-width="0.35" stroke-linejoin="round"/>
<line x1="238.96" y1="235.7" x2="238.96" y2="252.1" stroke="#a0a0a0" stroke-width="0.95"/>
<path d="M162.7,263.4 L162.7,263.9 L162.7,264.3 L162.7,264.8 L162.7,265.3 L162.7,265.7 L162.7,266.2 L162.7,266.7 L162.7,267.2 L162.7,267.6 L162.7,268.1 L162.7,268.6 L162.7,269.0 L162.7,269.5 L162.7,270.0 L162.7,270.4 L162.7,270.9 L162.7,271.4 L162.7,271.9 L162.7,272.3 L162.7,272.8 L162.7,273.3 L162.7,273.7 L162.7,274.2 L162.7,274.7 L162.7,275.1 L162.7,275.6 L162.7,276.1 L162.7,276.5 L162.7,277.0 L162.7,277.5 L162.7,278.0 L162.7,278.4 L162.7,278.9 L162.7,279.4 L162.7,279.8 L162.7,280.3 L162.7,280.8 L162.7,281.2 L162.7,281.7 L162.7,282.2 L162.7,282.7 L162.7,283.1 L162.7,283.6 L162.7,284.1 L162.8,284.5 L163.0,285.0 L161.8,285.0 L162.1,284.5 L162.2,284.1 L162.2,283.6 L162.2,283.1 L162.2,282.7 L162.2,282.2 L162.2,281.7 L162.2,281.2 L162.2,280.8 L162.2,280.3 L162.2,279.8 L162.2,279.4 L162.2,278.9 L162.2,278.4 L162.2,278.0 L162.2,277.5 L162.2,277.0 L162.2,276.5 L162.2,276.1 L162.2,275.6 L162.2,275.1 L162.2,274.7 L162.2,274.2 L162.2,273.7 L162.2,273.3 L162.2,272.8 L162.2,272.3 L162.2,271.9 L162.2,271.4 L162.2,270.9 L162.2,270.4 L162.2,270.0 L162.2,269.5 L162.2,269.0 L162.2,268.6 L162.2,268.1 L162.2,267.6 L162.2,267.2 L162.2,266.7 L162.2,266.2 L162.2,265.7 L162.2,265.3 L162.2,264.8 L162.2,264.3 L162.2,263.9 L162.2,263.4Z" fill="#f8b810" stroke="#3a3a3a" stroke-width="0.35" stroke-linejoin="round"/>
<line x1="162.45" y1="263.4" x2="162.45" y2="284.53" stroke="#a0a0a0" stroke-width="0.95"/>
<path d="M173.6,272.0 L173.6,272.5 L173.6,273.0 L173.6,273.4 L173.6,273.9 L173.6,274.4 L173.6,274.9 L173.6,275.4 L173.6,275.9 L173.6,276.3 L173.6,276.8 L173.6,277.3 L173.6,277.8 L173.6,278.3 L173.6,278.7 L173.6,279.2 L173.6,279.7 L173.6,280.2 L173.6,280.7 L173.6,281.1 L173.6,281.6 L173.6,282.1 L173.6,282.6 L173.7,283.1 L173.7,283.6 L173.7,284.0 L173.8,284.5 L174.2,285.0 L172.6,285.0 L173.0,284.5 L173.1,284.0 L173.1,283.6 L173.1,283.1 L173.1,282.6 L173.1,282.1 L173.1,281.6 L173.1,281.1 L173.1,280.7 L173.1,280.2 L173.1,279.7 L173.1,279.2 L173.1,278.7 L173.1,278.3 L173.1,277.8 L173.1,277.3 L173.1,276.8 L173.1,276.3 L173.1,275.9 L173.1,275.4 L173.1,274.9 L173.1,274.4 L173.1,273.9 L173.1,273.4 L173.1,273.0 L173.1,272.5 L173.1,272.0Z" fill="#f8b810" stroke="#3a3a3a" stroke-width="0.35" stroke-linejoin="round"/>
<line x1="173.38" y1="272" x2="173.38" y2="284.52" stroke="#a0a0a0" stroke-width="0.95"/>
<path d="M184.6,269.0 L184.6,269.5 L184.6,269.9 L184.6,270.4 L184.6,270.9 L184.6,271.4 L184.6,271.8 L184.6,272.3 L184.6,272.8 L184.6,273.2 L184.6,273.7 L184.6,274.2 L184.6,274.6 L184.6,275.1 L184.6,275.6 L184.6,276.1 L184.7,276.5 L184.7,277.0 L184.7,277.5 L184.7,277.9 L184.7,278.4 L184.8,278.9 L184.9,279.4 L185.0,279.8 L185.1,280.3 L185.1,280.8 L185.1,281.2 L185.1,281.7 L185.0,282.2 L185.0,282.6 L185.0,283.1 L185.2,283.6 L185.4,284.1 L185.7,284.5 L185.9,285.0 L182.7,285.0 L183.0,284.5 L183.2,284.1 L183.5,283.6 L183.6,283.1 L183.6,282.6 L183.6,282.2 L183.5,281.7 L183.5,281.2 L183.5,280.8 L183.6,280.3 L183.6,279.8 L183.7,279.4 L183.8,278.9 L183.9,278.4 L183.9,277.9 L183.9,277.5 L184.0,277.0 L184.0,276.5 L184.0,276.1 L184.0,275.6 L184.0,275.1 L184.0,274.6 L184.0,274.2 L184.1,273.7 L184.1,273.2 L184.1,272.8 L184.1,272.3 L184.1,271.8 L184.1,271.4 L184.1,270.9 L184.1,270.4 L184.1,269.9 L184.1,269.5 L184.1,269.0Z" fill="#f8b810" stroke="#3a3a3a" stroke-width="0.35" stroke-linejoin="round"/>
<line x1="184.31" y1="269" x2="184.31" y2="277.94" stroke="#a0a0a0" stroke-width="0.95"/>
<path d="M195.5,253.5 L195.7,254.0 L196.0,254.4 L196.5,254.9 L196.9,255.4 L197.3,255.8 L197.7,256.3 L198.1,256.7 L198.5,257.2 L198.8,257.7 L199.1,258.1 L199.3,258.6 L199.4,259.1 L199.6,259.5 L199.7,260.0 L199.8,260.4 L199.9,260.9 L200.0,261.4 L200.0,261.8 L200.1,262.3 L200.1,262.8 L200.1,263.2 L200.0,263.7 L199.9,264.2 L199.8,264.6 L199.7,265.1 L199.6,265.5 L199.4,266.0 L199.2,266.5 L199.1,266.9 L198.8,267.4 L198.6,267.9 L198.2,268.3 L197.9,268.8 L197.6,269.2 L197.3,269.7 L196.9,270.2 L196.5,270.6 L196.1,271.1 L195.8,271.6 L195.7,272.0 L195.7,272.5 L195.7,273.0 L195.7,273.4 L195.7,273.9 L195.7,274.3 L195.6,274.8 L195.6,275.3 L195.6,275.7 L195.6,276.2 L195.6,276.7 L195.6,277.1 L195.6,277.6 L195.6,278.1 L195.6,278.5 L195.6,279.0 L195.6,279.4 L195.6,279.9 L195.6,280.4 L195.6,280.8 L195.5,281.3 L195.5,281.8 L195.5,282.2 L195.5,282.7 L195.5,283.1 L195.5,283.6 L195.5,284.1 L195.7,284.5 L196.0,285.0 L194.4,285.0 L194.8,284.5 L194.9,284.1 L194.9,283.6 L194.9,283.1 L194.9,282.7 L194.9,282.2 L194.9,281.8 L194.9,281.3 L194.9,280.8 L194.9,280.4 L194.9,279.9 L194.9,279.4 L194.9,279.0 L194.9,278.5 L194.9,278.1 L194.9,277.6 L194.9,277.1 L194.9,276.7 L194.9,276.2 L194.9,275.7 L194.8,275.3 L194.8,274.8 L194.8,274.3 L194.8,273.9 L194.8,273.4 L194.8,273.0 L194.8,272.5 L194.7,272.0 L194.7,271.6 L194.4,271.1 L194.0,270.6 L193.6,270.2 L193.2,269.7 L192.9,269.2 L192.6,268.8 L192.2,268.3 L191.9,267.9 L191.7,267.4 L191.4,266.9 L191.2,266.5 L191.1,266.0 L190.9,265.5 L190.8,265.1 L190.7,264.6 L190.6,264.2 L190.5,263.7 L190.4,263.2 L190.4,262.8 L190.4,262.3 L190.4,261.8 L190.5,261.4 L190.6,260.9 L190.7,260.4 L190.8,260.0 L190.9,259.5 L191.1,259.1 L191.2,258.6 L191.4,258.1 L191.7,257.7 L192.0,257.2 L192.4,256.7 L192.8,256.3 L193.2,255.8 L193.6,255.4 L194.0,254.9 L194.4,254.4 L194.8,254.0 L194.9,253.5Z" fill="#f8b810" stroke="#3a3a3a" stroke-width="0.35" stroke-linejoin="round"/>
<line x1="195.24" y1="274.35" x2="195.24" y2="284.07" stroke="#a0a0a0" stroke-width="0.95"/>
<path d="M206.5,255.2 L206.7,255.7 L207.1,256.1 L207.7,256.6 L208.2,257.1 L208.8,257.5 L209.4,258.0 L209.9,258.5 L210.3,258.9 L210.6,259.4 L210.8,259.9 L211.0,260.3 L211.2,260.8 L211.3,261.3 L211.3,261.7 L211.2,262.2 L211.1,262.6 L210.9,263.1 L210.7,263.6 L210.6,264.0 L210.3,264.5 L210.1,265.0 L209.8,265.4 L209.5,265.9 L209.2,266.4 L208.9,266.8 L208.6,267.3 L208.2,267.8 L207.8,268.2 L207.4,268.7 L207.1,269.2 L206.8,269.6 L206.7,270.1 L206.7,270.6 L206.6,271.0 L206.6,271.5 L206.6,272.0 L206.6,272.4 L206.6,272.9 L206.6,273.4 L206.6,273.8 L206.6,274.3 L206.5,274.8 L206.5,275.2 L206.5,275.7 L206.5,276.2 L206.5,276.6 L206.5,277.1 L206.5,277.6 L206.5,278.0 L206.5,278.5 L206.5,278.9 L206.5,279.4 L206.5,279.9 L206.5,280.3 L206.5,280.8 L206.5,281.3 L206.5,281.7 L206.5,282.2 L206.5,282.7 L206.5,283.1 L206.5,283.6 L206.5,284.1 L206.5,284.5 L206.8,285.0 L205.6,285.0 L205.8,284.5 L205.9,284.1 L205.9,283.6 L205.9,283.1 L205.9,282.7 L205.9,282.2 L205.9,281.7 L205.9,281.3 L205.9,280.8 L205.9,280.3 L205.9,279.9 L205.9,279.4 L205.8,278.9 L205.8,278.5 L205.8,278.0 L205.8,277.6 L205.8,277.1 L205.8,276.6 L205.8,276.2 L205.8,275.7 L205.8,275.2 L205.8,274.8 L205.8,274.3 L205.8,273.8 L205.8,273.4 L205.8,272.9 L205.7,272.4 L205.7,272.0 L205.7,271.5 L205.7,271.0 L205.7,270.6 L205.7,270.1 L205.5,269.6 L205.3,269.2 L204.9,268.7 L204.6,268.2 L204.2,267.8 L203.8,267.3 L203.5,266.8 L203.2,266.4 L202.8,265.9 L202.5,265.4 L202.3,265.0 L202.0,264.5 L201.8,264.0 L201.6,263.6 L201.4,263.1 L201.3,262.6 L201.1,262.2 L201.1,261.7 L201.1,261.3 L201.2,260.8 L201.3,260.3 L201.5,259.9 L201.8,259.4 L202.0,258.9 L202.4,258.5 L203.0,258.0 L203.6,257.5 L204.1,257.1 L204.6,256.6 L205.2,256.1 L205.7,255.7 L205.9,255.2Z" fill="#f8b810" stroke="#3a3a3a" stroke-width="0.35" stroke-linejoin="round"/>
<line x1="206.17" y1="272.89" x2="206.17" y2="284.53" stroke="#a0a0a0" stroke-width="0.95"/>
<path d="M217.4,256.3 L217.5,256.8 L217.6,257.2 L217.9,257.7 L218.1,258.2 L218.4,258.6 L218.6,259.1 L218.9,259.5 L219.1,260.0 L219.3,260.5 L219.6,260.9 L219.8,261.4 L220.0,261.9 L220.2,262.3 L220.4,262.8 L220.6,263.2 L220.8,263.7 L220.9,264.2 L221.1,264.6 L221.2,265.1 L221.4,265.6 L221.5,266.0 L221.6,266.5 L221.7,266.9 L221.8,267.4 L221.8,267.9 L221.9,268.3 L221.9,268.8 L222.0,269.3 L222.0,269.7 L222.1,270.2 L222.1,270.6 L222.1,271.1 L222.1,271.6 L222.1,272.0 L222.0,272.5 L221.9,273.0 L221.8,273.4 L221.7,273.9 L221.5,274.4 L221.4,274.8 L221.2,275.3 L221.0,275.7 L220.8,276.2 L220.6,276.7 L220.3,277.1 L220.0,277.6 L219.8,278.1 L219.5,278.5 L219.2,279.0 L218.8,279.4 L218.6,279.9 L218.2,280.4 L218.0,280.8 L217.9,281.3 L218.2,281.8 L218.6,282.2 L219.1,282.7 L219.6,283.1 L220.2,283.6 L220.7,284.1 L221.1,284.5 L221.3,285.0 L212.9,285.0 L213.1,284.5 L213.5,284.1 L214.0,283.6 L214.6,283.1 L215.1,282.7 L215.6,282.2 L216.0,281.8 L216.3,281.3 L216.2,280.8 L216.0,280.4 L215.6,279.9 L215.4,279.4 L215.0,279.0 L214.7,278.5 L214.4,278.1 L214.2,277.6 L213.9,277.1 L213.6,276.7 L213.4,276.2 L213.2,275.7 L213.0,275.3 L212.8,274.8 L212.7,274.4 L212.5,273.9 L212.4,273.4 L212.3,273.0 L212.2,272.5 L212.1,272.0 L212.1,271.6 L212.1,271.1 L212.1,270.6 L212.1,270.2 L212.2,269.7 L212.2,269.3 L212.3,268.8 L212.3,268.3 L212.4,267.9 L212.4,267.4 L212.5,266.9 L212.6,266.5 L212.7,266.0 L212.8,265.6 L213.0,265.1 L213.1,264.6 L213.3,264.2 L213.4,263.7 L213.6,263.2 L213.8,262.8 L214.0,262.3 L214.2,261.9 L214.4,261.4 L214.6,260.9 L214.9,260.5 L215.1,260.0 L215.3,259.5 L215.6,259.1 L215.8,258.6 L216.1,258.2 L216.3,257.7 L216.6,257.2 L216.7,256.8 L216.8,256.3Z" fill="#f8b810" stroke="#3a3a3a" stroke-width="0.35" stroke-linejoin="round"/>
<path d="M228.3,265.0 L228.3,265.5 L228.3,265.9 L228.3,266.4 L228.3,266.9 L228.3,267.3 L228.4,267.8 L228.4,268.3 L228.5,268.7 L228.6,269.2 L228.7,269.7 L228.8,270.1 L229.0,270.6 L229.2,271.0 L229.3,271.5 L229.5,272.0 L229.7,272.4 L229.9,272.9 L230.1,273.4 L230.3,273.8 L230.4,274.3 L230.5,274.8 L230.6,275.2 L230.6,275.7 L230.6,276.2 L230.5,276.6 L230.4,277.1 L230.2,277.6 L230.0,278.0 L229.8,278.5 L229.6,279.0 L229.3,279.4 L229.1,279.9 L228.9,280.3 L228.7,280.8 L228.8,281.3 L229.0,281.7 L229.4,282.2 L229.8,282.7 L230.2,283.1 L230.7,283.6 L231.1,284.1 L231.4,284.5 L231.5,285.0 L224.5,285.0 L224.7,284.5 L225.0,284.1 L225.4,283.6 L225.8,283.1 L226.3,282.7 L226.7,282.2 L227.0,281.7 L227.3,281.3 L227.3,280.8 L227.2,280.3 L227.0,279.9 L226.8,279.4 L226.5,279.0 L226.3,278.5 L226.0,278.0 L225.9,277.6 L225.7,277.1 L225.5,276.6 L225.4,276.2 L225.4,275.7 L225.5,275.2 L225.6,274.8 L225.7,274.3 L225.8,273.8 L225.9,273.4 L226.1,272.9 L226.3,272.4 L226.5,272.0 L226.7,271.5 L226.9,271.0 L227.1,270.6 L227.3,270.1 L227.4,269.7 L227.5,269.2 L227.6,268.7 L227.6,268.3 L227.7,267.8 L227.7,267.3 L227.8,266.9 L227.8,266.4 L227.8,265.9 L227.8,265.5 L227.8,265.0Z" fill="#f8b810" stroke="#3a3a3a" stroke-width="0.35" stroke-linejoin="round"/>
<line x1="228.03" y1="265" x2="228.03" y2="268.26" stroke="#a0a0a0" stroke-width="0.95"/>
<path d="M239.2,269.0 L239.2,269.5 L239.2,269.9 L239.2,270.4 L239.3,270.9 L239.4,271.4 L239.4,271.8 L239.5,272.3 L239.6,272.8 L239.8,273.2 L240.0,273.7 L240.1,274.2 L240.3,274.6 L240.5,275.1 L240.6,275.6 L240.7,276.1 L240.6,276.5 L240.5,277.0 L240.4,277.5 L240.3,277.9 L240.2,278.4 L240.0,278.9 L239.9,279.4 L239.8,279.8 L239.7,280.3 L239.7,280.8 L239.7,281.2 L239.9,281.7 L240.2,282.2 L240.5,282.6 L240.8,283.1 L241.2,283.6 L241.5,284.1 L241.8,284.5 L242.0,285.0 L236.0,285.0 L236.1,284.5 L236.4,284.1 L236.7,283.6 L237.1,283.1 L237.5,282.6 L237.8,282.2 L238.0,281.7 L238.2,281.2 L238.3,280.8 L238.2,280.3 L238.1,279.8 L238.0,279.4 L237.9,278.9 L237.8,278.4 L237.6,277.9 L237.5,277.5 L237.4,277.0 L237.3,276.5 L237.3,276.1 L237.3,275.6 L237.4,275.1 L237.6,274.6 L237.8,274.2 L238.0,273.7 L238.1,273.2 L238.3,272.8 L238.4,272.3 L238.5,271.8 L238.6,271.4 L238.6,270.9 L238.7,270.4 L238.7,269.9 L238.7,269.5 L238.7,269.0Z" fill="#f8b810" stroke="#3a3a3a" stroke-width="0.35" stroke-linejoin="round"/>
<line x1="238.96" y1="269" x2="238.96" y2="271.35" stroke="#a0a0a0" stroke-width="0.95"/>
<rect x="156" y="219.2" width="89.4" height="65.8" fill="none" stroke="#222" stroke-width="0.95"/>
<line x1="156" y1="252.1" x2="245.4" y2="252.1" stroke="#222" stroke-width="0.95"/>
<line x1="245.4" y1="225" x2="248" y2="225" stroke="#222" stroke-width="0.85"/>
<line x1="245.4" y1="231.6" x2="248" y2="231.6" stroke="#222" stroke-width="0.85"/>
<line x1="245.4" y1="238.5" x2="248" y2="238.5" stroke="#222" stroke-width="0.85"/>
<line x1="245.4" y1="245.1" x2="248" y2="245.1" stroke="#222" stroke-width="0.85"/>
<line x1="245.4" y1="259.5" x2="248" y2="259.5" stroke="#222" stroke-width="0.85"/>
<line x1="245.4" y1="265.9" x2="248" y2="265.9" stroke="#222" stroke-width="0.85"/>
<line x1="245.4" y1="272.1" x2="248" y2="272.1" stroke="#222" stroke-width="0.85"/>
<line x1="245.4" y1="278.6" x2="248" y2="278.6" stroke="#222" stroke-width="0.85"/>
<text transform="translate(251.5,225) rotate(90)" font-size="5.7" text-anchor="middle" fill="#555" font-weight="normal">4</text>
<text transform="translate(251.5,259.5) rotate(90)" font-size="5.7" text-anchor="middle" fill="#555" font-weight="normal">4</text>
<text transform="translate(259.6,253.7) rotate(90) scale(0.76,1)" font-size="6.6" text-anchor="middle" fill="#333" font-weight="bold">Expression level</text>
<text transform="translate(164.45,288.9) rotate(-90)" font-size="5.8" text-anchor="end" fill="#383838" font-weight="normal">CD14</text>
<text transform="translate(175.38,288.9) rotate(-90)" font-size="5.8" text-anchor="end" fill="#383838" font-weight="normal">CXCL16</text>
<text transform="translate(186.31,288.9) rotate(-90)" font-size="5.8" text-anchor="end" fill="#383838" font-weight="normal">IL18</text>
<text transform="translate(197.24,288.9) rotate(-90)" font-size="5.8" text-anchor="end" fill="#383838" font-weight="normal">CD74</text>
<text transform="translate(208.17,288.9) rotate(-90)" font-size="5.8" text-anchor="end" fill="#383838" font-weight="normal">CLU</text>
<text transform="translate(219.1,288.9) rotate(-90)" font-size="5.8" text-anchor="end" fill="#383838" font-weight="normal">CCL23</text>
<text transform="translate(230.03,288.9) rotate(-90)" font-size="5.8" text-anchor="end" fill="#383838" font-weight="normal">VSTM1</text>
<text transform="translate(240.96,288.9) rotate(-90)" font-size="5.8" text-anchor="end" fill="#383838" font-weight="normal">PADI4</text>
<rect x="158" y="314.4" width="3.8" height="3.8" fill="#a6ba8c"/>
<text transform="translate(163.9,318.4)" font-size="6" text-anchor="start" fill="#262626" font-weight="normal">Monocytes</text>
<rect x="198.9" y="314.4" width="3.8" height="3.8" fill="#f8b810"/>
<text transform="translate(206.1,318.4)" font-size="6" text-anchor="start" fill="#262626" font-weight="normal">Monocyte precursors</text>
<text transform="translate(368.3,211.3)" font-size="7.7" text-anchor="start" fill="#222" font-weight="normal">Erythroid lineage</text>
<line x1="368.3" y1="212.8" x2="426.08" y2="212.8" stroke="#333" stroke-width="0.55"/>
<g transform="translate(270.8,214.2) scale(0.819,0.774)">
<path d="M62.4,35.8 C61.07,36.1 59.32,37.1 58,37.8 C56.68,38.5 55.58,39.22 54.5,40 C53.42,40.78 52.33,41.67 51.5,42.5 C50.67,43.33 50.03,44 49.5,45 C48.97,46 48.63,47.33 48.3,48.5 C47.97,49.67 47.72,50.65 47.5,52 C47.28,53.35 47.17,55.1 47,56.6 C46.83,58.1 46.62,59.77 46.5,61 C46.38,62.23 46.25,62.92 46.3,64 C46.35,65.08 46.47,66.42 46.8,67.5 C47.13,68.58 47.72,69.55 48.3,70.5 C48.88,71.45 49.6,72.32 50.3,73.2 C51,74.08 51.72,75.42 52.5,75.8 C53.28,76.18 54.37,76.13 55,75.5 C55.63,74.87 56,73.25 56.3,72 C56.6,70.75 56.63,69.17 56.8,68 C56.97,66.83 57.13,65.88 57.3,65 C57.47,64.12 57.43,64.03 57.8,62.7 C58.17,61.37 58.75,59.03 59.5,57 C60.25,54.97 61.3,52.42 62.3,50.5 C63.3,48.58 64.55,47.08 65.5,45.5 C66.45,43.92 67.5,42.25 68,41 C68.5,39.75 68.83,38.83 68.5,38 C68.17,37.17 67.02,36.37 66,36 C64.98,35.63 63.73,35.5 62.4,35.8Z" fill="#d0d0d0"/>
<path d="M52.3,76.5 C52.95,75.37 54.17,74.2 55.2,73.2 C56.23,72.2 57.37,71.28 58.5,70.5 C59.63,69.72 60.82,69.2 62,68.5 C63.18,67.8 64.6,66.97 65.6,66.3 C66.6,65.63 67.27,64.93 68,64.5 C68.73,64.07 69.33,63.75 70,63.7 C70.67,63.65 71.43,63.9 72,64.2 C72.57,64.5 73.07,64.53 73.4,65.5 C73.73,66.47 73.93,68.42 74,70 C74.07,71.58 73.87,73.45 73.8,75 C73.73,76.55 73.48,77.97 73.6,79.3 C73.72,80.63 74.1,81.8 74.5,83 C74.9,84.2 75.47,85.53 76,86.5 C76.53,87.47 77.27,87.97 77.7,88.8 C78.13,89.63 78.45,90.48 78.6,91.5 C78.75,92.52 78.87,93.85 78.6,94.9 C78.33,95.95 77.58,96.95 77,97.8 C76.42,98.65 75.93,99.3 75.1,100 C74.27,100.7 73.15,101.42 72,102 C70.85,102.58 69.45,103.1 68.2,103.5 C66.95,103.9 65.65,104.25 64.5,104.4 C63.35,104.55 62.38,104.5 61.3,104.4 C60.22,104.3 59.02,104.08 58,103.8 C56.98,103.52 56.07,103.28 55.2,102.7 C54.33,102.12 53.52,101.32 52.8,100.3 C52.08,99.28 51.37,97.82 50.9,96.6 C50.43,95.38 50.1,94.35 50,93 C49.9,91.65 50.15,90 50.3,88.5 C50.45,87 50.73,85.42 50.9,84 C51.07,82.58 51.07,81.25 51.3,80 C51.53,78.75 51.65,77.63 52.3,76.5Z" fill="#d0d0d0"/>
<path d="M62,36.5 C62,36 63,35.5 64,35 C65,34.5 66.67,33.92 68,33.5 C69.33,33.08 70.67,32.83 72,32.5 C73.33,32.17 74.9,31.83 76,31.5 C77.1,31.17 77.88,31 78.6,30.5 C79.32,30 79.82,29.12 80.3,28.5 C80.78,27.88 80.97,27.18 81.5,26.8 C82.03,26.42 82.83,26.17 83.5,26.2 C84.17,26.23 84.98,26.53 85.5,27 C86.02,27.47 86.47,28.25 86.6,29 C86.73,29.75 86.65,30.75 86.3,31.5 C85.95,32.25 85.22,32.92 84.5,33.5 C83.78,34.08 82.83,34.5 82,35 C81.17,35.5 80.33,35.92 79.5,36.5 C78.67,37.08 77.83,37.75 77,38.5 C76.17,39.25 75.33,40.33 74.5,41 C73.67,41.67 72.83,42.17 72,42.5 C71.17,42.83 70.25,43.08 69.5,43 C68.75,42.92 68.08,42.58 67.5,42 C66.92,41.42 66.58,40.17 66,39.5 C65.42,38.83 64.67,38.5 64,38 C63.33,37.5 62,37 62,36.5Z" fill="#d0d0d0"/>
<path d="M92.2,47.1 C92.35,46.03 93.6,44.57 94.4,44.1 C95.2,43.63 96.13,44.17 97,44.3 C97.87,44.43 98.45,44.58 99.6,44.9 C100.75,45.22 102.6,45.68 103.9,46.2 C105.2,46.72 106.65,47.37 107.4,48 C108.15,48.63 108.27,49.28 108.4,50 C108.53,50.72 108.35,51.38 108.2,52.3 C108.05,53.22 107.78,54.5 107.5,55.5 C107.22,56.5 106.92,57.63 106.5,58.3 C106.08,58.97 105.43,59.35 105,59.5 C104.57,59.65 104.48,59.53 103.9,59.2 C103.32,58.87 102.22,58.08 101.5,57.5 C100.78,56.92 100.5,56.28 99.6,55.7 C98.7,55.12 96.95,54.53 96.1,54 C95.25,53.47 94.93,53.08 94.5,52.5 C94.07,51.92 93.88,51.4 93.5,50.5 C93.12,49.6 92.05,48.17 92.2,47.1Z" fill="#c2bedb"/>
<path d="M104,45.8 C104.5,44.8 107.33,45.33 108.5,45 C109.67,44.67 110.67,42.97 111,43.8 C111.33,44.63 110.87,48.13 110.5,50 C110.13,51.87 109.55,53.42 108.8,55 C108.05,56.58 106.72,59.17 106,59.5 C105.28,59.83 104.58,58.42 104.5,57 C104.42,55.58 105.58,52.87 105.5,51 C105.42,49.13 103.5,46.8 104,45.8Z" fill="#9a90c8"/>
<path d="M110.8,43.6 C111.65,43.07 113.22,42.65 114.3,42.8 C115.38,42.95 116.43,43.63 117.3,44.5 C118.17,45.37 119,46.75 119.5,48 C120,49.25 120.17,50.85 120.3,52 C120.43,53.15 120.37,53.27 120.3,54.9 C120.23,56.53 120.13,60.2 119.9,61.8 C119.67,63.4 119.23,63.68 118.9,64.5 C118.57,65.32 118.42,65.9 117.9,66.7 C117.38,67.5 116.52,68.58 115.8,69.3 C115.08,70.02 114.55,70.58 113.6,71 C112.65,71.42 111.03,71.83 110.1,71.8 C109.17,71.77 108.57,71.23 108,70.8 C107.43,70.37 107.17,69.83 106.7,69.2 C106.23,68.57 105.63,67.72 105.2,67 C104.77,66.28 104.32,65.73 104.1,64.9 C103.88,64.07 103.78,62.9 103.9,62 C104.02,61.1 104.3,60.4 104.8,59.5 C105.3,58.6 106.4,57.68 106.9,56.6 C107.4,55.52 107.58,54.15 107.8,53 C108.02,51.85 107.97,50.87 108.2,49.7 C108.43,48.53 108.77,47.02 109.2,46 C109.63,44.98 109.95,44.13 110.8,43.6Z" fill="#7467b8"/>
<path d="M120.6,51.8 C120.85,51.3 121.77,52.72 122.3,53.5 C122.83,54.28 123.58,55.62 123.8,56.5 C124.02,57.38 123.9,58.42 123.6,58.8 C123.3,59.18 122.47,59.18 122,58.8 C121.53,58.42 121.03,57.67 120.8,56.5 C120.57,55.33 120.35,52.3 120.6,51.8Z" fill="#9a90c8"/>
<path d="M100.6,88.3 C101.13,87.7 102.27,87.23 103,86.8 C103.73,86.37 104.25,86.32 105,85.7 C105.75,85.08 106.87,83.25 107.5,83.1 C108.13,82.95 108.58,83.98 108.8,84.8 C109.02,85.62 108.93,86.7 108.8,88 C108.67,89.3 108.3,91.5 108,92.6 C107.7,93.7 107.37,94.02 107,94.6 C106.63,95.18 106.43,95.78 105.8,96.1 C105.17,96.42 103.92,96.58 103.2,96.5 C102.48,96.42 101.93,95.97 101.5,95.6 C101.07,95.23 100.88,94.82 100.6,94.3 C100.32,93.78 99.93,93.15 99.8,92.5 C99.67,91.85 99.67,91.1 99.8,90.4 C99.93,89.7 100.07,88.9 100.6,88.3Z" fill="#3b2b8a"/>
<path d="M80.7,83.1 C81.23,83.15 82.75,85.02 84.2,85.8 C85.65,86.58 87.82,87.17 89.4,87.8 C90.98,88.43 92.43,89.03 93.7,89.6 C94.97,90.17 96.13,90.75 97,91.2 C97.87,91.65 98.43,91.78 98.9,92.3 C99.37,92.82 100.03,93.97 99.8,94.3 C99.57,94.63 98.23,94.43 97.5,94.3 C96.77,94.17 96.28,93.8 95.4,93.5 C94.52,93.2 93.07,92.8 92.2,92.5 C91.33,92.2 90.98,92.02 90.2,91.7 C89.42,91.38 88.22,90.88 87.5,90.6 C86.78,90.32 86.55,90.33 85.9,90 C85.25,89.67 84.17,89.03 83.6,88.6 C83.03,88.17 82.93,87.92 82.5,87.4 C82.07,86.88 81.3,86.22 81,85.5 C80.7,84.78 80.17,83.05 80.7,83.1Z" fill="#c4c0d8"/>
<path d="M87.2,47.4 C87.73,47.1 89.07,47.43 89.2,48.2 C89.33,48.97 88.43,50.53 88,52 C87.57,53.47 87.07,55.33 86.6,57 C86.13,58.67 85.68,60.42 85.2,62 C84.72,63.58 84.23,65 83.7,66.5 C83.17,68 82.52,69.58 82,71 C81.48,72.42 81,74 80.6,75 C80.2,76 79.97,76.75 79.6,77 C79.23,77.25 78.57,77.17 78.4,76.5 C78.23,75.83 78.4,74.33 78.6,73 C78.8,71.67 79.18,70.08 79.6,68.5 C80.02,66.92 80.57,65.25 81.1,63.5 C81.63,61.75 82.22,59.75 82.8,58 C83.38,56.25 84.07,54.33 84.6,53 C85.13,51.67 85.57,50.93 86,50 C86.43,49.07 86.67,47.7 87.2,47.4Z" fill="#d0d0d0"/>
<path d="M48.0 51.0h0M46.9 55.3h0M65.8 35.8h0M49.6 45.1h0M62.1 50.7h0M67.2 42.5h0M62.2 51.7h0M62.4 35.7h0M62.8 35.9h0M47.9 70.5h0M56.4 71.3h0M56.7 69.7h0M55.4 75.1h0M56.4 38.5h0M45.5 64.2h0M57.7 64.1h0M48.1 49.9h0M48.6 48.3h0M46.5 61.2h0M45.9 61.3h0M58.1 63.3h0M46.6 53.3h0M61.1 53.7h0M62.6 52.0h0M69.0 37.8h0M56.3 71.8h0M50.6 42.4h0M66.0 44.5h0M56.7 69.5h0M46.1 59.2h0M53.8 39.9h0M68.6 38.6h0M59.3 36.7h0M50.3 43.1h0M67.2 42.6h0M63.4 36.1h0M57.4 64.4h0M50.2 43.3h0M57.0 68.0h0M51.5 76.0h0M60.4 36.9h0M50.2 43.8h0M46.5 61.2h0M59.0 59.8h0M61.8 52.6h0M68.6 39.1h0M57.6 37.2h0M67.0 35.5h0M62.7 34.9h0M61.8 52.4h0M48.7 47.5h0M56.9 69.7h0M68.2 38.0h0M50.9 42.8h0M68.4 40.5h0M46.4 62.2h0M61.3 54.0h0M64.6 47.0h0M45.7 61.3h0M46.1 66.4h0M57.9 62.5h0M46.5 59.0h0M68.7 40.3h0M64.0 47.9h0M62.1 35.4h0M53.4 41.0h0M62.9 49.7h0M62.7 50.5h0M52.5 40.6h0M48.7 72.7h0M78.0 98.0h0M73.7 74.8h0M54.8 71.9h0M70.5 102.9h0M72.8 64.0h0M62.3 67.8h0M62.7 68.2h0M74.1 67.0h0M53.6 102.5h0M51.4 99.5h0M77.0 86.5h0M60.3 68.2h0M52.2 98.8h0M62.1 67.6h0M78.2 89.9h0M50.5 86.0h0M50.3 92.3h0M79.1 91.2h0M74.1 66.8h0M73.8 80.7h0M64.6 104.8h0M56.9 70.8h0M65.7 104.0h0M74.7 81.5h0M58.1 104.9h0M75.8 99.9h0M62.4 67.9h0M73.9 75.3h0M78.3 90.6h0M50.2 90.6h0M53.5 101.1h0M51.2 78.8h0M79.6 94.2h0M64.9 105.1h0M79.2 90.1h0M67.9 104.7h0M52.2 98.6h0M79.3 92.6h0M69.5 64.1h0M49.6 92.8h0M76.0 86.8h0M74.5 79.6h0M60.3 104.5h0M73.4 65.5h0M74.5 69.4h0M61.3 104.5h0M53.5 102.0h0M76.4 84.7h0M49.4 86.9h0M50.4 98.2h0M74.9 100.0h0M74.4 78.2h0M54.1 74.0h0M54.4 73.4h0M62.2 104.8h0M75.0 83.1h0M68.8 103.8h0M59.8 68.9h0M76.2 83.8h0M52.4 101.0h0M77.4 87.6h0M77.4 96.6h0M65.0 104.8h0M74.6 72.1h0M65.8 65.2h0M49.8 92.2h0M50.8 97.3h0M63.5 67.3h0M74.2 71.2h0M75.6 86.1h0M79.0 89.3h0M62.3 67.8h0M59.5 104.7h0M74.0 70.6h0M54.2 102.4h0M66.6 65.1h0M60.1 69.3h0M79.3 95.1h0M79.1 95.3h0M52.8 75.7h0M84.8 33.9h0M75.9 39.4h0M77.3 38.7h0M75.0 31.8h0M68.3 43.4h0M78.6 37.3h0M72.9 32.0h0M80.4 36.1h0M66.4 40.9h0M63.7 38.1h0M69.1 43.7h0M77.9 30.4h0M86.5 31.5h0M77.2 38.8h0M70.5 43.4h0M84.6 34.1h0M80.9 35.7h0M80.0 36.4h0M79.0 30.1h0M74.9 40.5h0M67.7 41.9h0M65.7 40.9h0M82.7 34.9h0M82.6 26.2h0M87.0 27.7h0M86.7 30.9h0M69.8 32.7h0M80.3 36.1h0M74.3 31.8h0M78.7 30.1h0M70.2 43.5h0M62.2 37.0h0M83.9 25.6h0M73.8 42.4h0M63.1 37.8h0M87.1 28.6h0M84.8 26.3h0M65.3 39.1h0M64.2 34.5h0M65.7 34.1h0M79.8 67.7h0M84.3 65.8h0M85.9 49.7h0M82.3 60.3h0M82.2 70.8h0M89.0 48.8h0M79.7 68.3h0M85.0 52.2h0M84.6 64.5h0M82.6 69.2h0M81.4 73.0h0M82.9 69.6h0M83.4 55.5h0M79.2 68.8h0M78.2 74.1h0M84.2 66.9h0M83.5 67.1h0M84.4 53.5h0M80.5 62.2h0M83.8 55.2h0M79.2 69.1h0M84.3 53.5h0M85.6 51.1h0M80.7 75.0h0M78.0 77.2h0M82.5 70.6h0M78.5 73.1h0M87.5 54.8h0M79.0 70.0h0M78.0 76.9h0M105.1 43.2h0M87.1 30.3h0M102.7 40.0h0M98.1 38.1h0M94.6 34.9h0M100.5 43.9h0M94.9 33.0h0M86.7 29.4h0M95.3 33.8h0M93.6 42.4h0M96.5 37.4h0M92.5 31.1h0M96.2 44.0h0M103.9 41.0h0M100.7 42.6h0M101.3 40.8h0M93.1 43.7h0M101.1 39.7h0M95.2 37.0h0M95.8 42.9h0M96.0 41.5h0M93.1 42.2h0M97.4 42.8h0M100.5 36.3h0M90.4 33.9h0M96.1 36.8h0M99.0 37.8h0M92.2 32.1h0M96.2 43.0h0M102.4 39.9h0M80.7 76.5h0M83.5 82.6h0M81.5 77.6h0M83.1 82.7h0M82.5 83.1h0" stroke="#d0d0d0" stroke-width="1.3" stroke-linecap="round" fill="none"/>
<path d="M107.7 47.2h0M106.2 58.7h0M101.8 58.9h0M97.2 44.3h0M96.5 54.8h0M92.8 48.9h0M93.0 52.1h0M95.7 55.0h0M91.8 48.0h0M98.5 44.9h0M97.6 55.7h0M94.9 53.1h0M93.5 50.2h0M98.5 44.3h0M95.5 53.5h0M107.6 47.0h0M106.6 58.3h0M108.8 54.6h0M107.9 56.0h0M91.8 47.2h0M103.0 58.9h0M92.9 50.6h0M93.9 44.4h0M105.5 46.9h0M106.7 47.1h0M107.2 56.5h0M101.6 57.5h0M96.9 43.6h0M96.6 55.4h0M102.5 44.9h0M104.2 45.5h0M105.3 47.1h0M108.5 52.9h0M93.0 45.0h0M103.3 46.3h0M104.4 45.4h0M93.9 44.5h0M107.2 57.1h0M94.7 52.9h0M91.8 46.6h0" stroke="#c2bedb" stroke-width="1.3" stroke-linecap="round" fill="none"/>
<path d="M118.7 64.3h0M109.5 44.6h0M106.4 69.0h0M113.4 41.9h0M106.4 57.4h0M115.3 70.3h0M106.0 69.5h0M103.8 59.8h0M120.3 50.3h0M119.3 63.9h0M112.6 42.4h0M104.9 67.2h0M105.6 58.0h0M115.6 42.6h0M113.6 71.6h0M116.3 43.4h0M107.3 51.1h0M114.3 70.4h0M105.2 68.9h0M107.4 52.0h0M108.1 49.6h0M121.1 51.4h0M106.4 68.6h0M118.2 44.9h0M119.7 65.0h0M110.7 44.0h0M118.8 65.0h0M119.8 65.1h0M107.7 70.6h0M117.1 67.6h0M116.6 69.5h0M120.9 50.7h0M105.6 68.8h0M104.4 58.7h0M105.6 68.8h0M107.4 53.8h0M113.6 70.8h0M118.9 46.6h0M106.9 56.6h0M105.4 56.8h0M108.9 71.1h0M105.5 66.9h0M110.0 44.7h0M117.9 44.5h0M107.8 70.9h0M109.1 45.3h0M103.5 59.9h0M116.6 43.4h0M106.1 57.4h0M120.1 53.2h0" stroke="#7467b8" stroke-width="1.3" stroke-linecap="round" fill="none"/>
<path d="M109.6 86.9h0M107.4 82.6h0M107.7 82.6h0M109.2 86.1h0M101.3 96.3h0M108.3 89.8h0M107.8 92.3h0M99.5 94.9h0M108.8 91.0h0M106.3 83.9h0M99.3 89.0h0M108.6 90.9h0M99.6 87.8h0M103.1 86.6h0M109.4 89.1h0M105.8 84.4h0M107.0 94.4h0M108.6 90.1h0M99.7 91.2h0M99.7 92.2h0" stroke="#3b2b8a" stroke-width="1.3" stroke-linecap="round" fill="none"/>
<path d="M88.2 86.6h0M80.2 82.7h0M98.4 94.5h0M87.0 90.6h0M97.5 94.5h0M97.2 90.9h0M81.7 83.9h0M91.3 87.9h0M80.7 85.2h0M80.9 83.3h0M80.3 83.3h0M81.9 87.3h0M98.6 92.0h0M86.2 90.1h0M82.8 87.6h0M95.6 93.8h0M91.1 92.1h0M88.0 87.4h0M83.5 85.3h0M81.7 86.9h0M80.2 83.7h0M92.7 89.3h0M83.5 89.1h0M97.3 94.3h0M80.3 82.8h0M94.1 89.6h0M99.6 93.9h0M82.9 88.2h0M100.4 94.6h0M93.7 89.4h0" stroke="#c4c0d8" stroke-width="1.3" stroke-linecap="round" fill="none"/>
<path d="M81.4 44.5h0M85.5 32.6h0M77.8 40.9h0M82.4 53.0h0M74.1 51.8h0M73.9 81.5h0M75.3 53.6h0M74.7 64.0h0M61.8 64.1h0M73.8 42.1h0M65.2 65.4h0M84.9 33.0h0M61.6 66.3h0M78.7 75.4h0M83.7 50.5h0M82.0 51.0h0M61.5 65.6h0M79.1 66.1h0M67.7 48.3h0M60.8 64.7h0M83.1 47.9h0M85.8 32.7h0M84.0 55.0h0M70.5 63.5h0M65.7 57.2h0M85.0 47.5h0M68.9 58.3h0M87.3 37.3h0M67.0 59.7h0M74.9 82.1h0M71.8 54.8h0M76.4 77.7h0M70.2 53.6h0M77.4 64.6h0M71.2 49.8h0M74.2 50.5h0M65.5 60.7h0M77.3 39.8h0M62.0 67.7h0M79.9 48.5h0M81.3 39.1h0M83.7 33.3h0M76.2 49.5h0" stroke="#d4d4d4" stroke-width="1.3" stroke-linecap="round" fill="none"/>
<path d="M73.4 54.8h0M65.0 53.4h0M80.1 68.7h0M63.7 60.1h0M59.8 68.3h0M75.8 55.3h0M75.6 41.6h0M76.9 55.3h0M63.3 59.0h0M76.7 74.3h0M70.3 61.5h0M75.6 40.1h0M67.4 57.5h0M86.5 49.2h0M68.7 46.4h0M75.6 42.9h0M76.4 54.8h0M66.3 59.7h0M85.3 47.0h0M63.1 57.6h0M61.7 58.3h0M79.2 40.4h0M70.4 48.9h0M74.4 57.5h0M72.9 42.9h0M80.6 62.5h0M87.3 38.4h0M76.5 52.6h0M66.7 62.0h0M62.6 57.5h0M67.6 52.2h0M83.4 58.1h0M76.0 69.9h0M69.0 45.0h0M79.2 52.3h0M73.8 70.0h0M84.5 48.5h0M76.7 44.9h0M73.4 51.0h0M76.3 79.2h0M85.9 31.8h0M77.6 70.5h0M76.7 60.7h0" stroke="#e2e2e2" stroke-width="1.3" stroke-linecap="round" fill="none"/>
<path d="M78.0 72.8h0M71.6 57.3h0M67.6 62.1h0M79.6 66.7h0M81.6 59.6h0M66.6 60.0h0M73.6 56.7h0M63.8 62.0h0M79.8 55.1h0M78.8 59.9h0M68.1 64.4h0M79.6 58.0h0M85.5 32.0h0M85.8 42.3h0M62.6 60.2h0M85.8 46.6h0M87.6 36.9h0M67.7 44.1h0M68.5 59.8h0M82.3 35.1h0M86.1 46.6h0M79.9 66.4h0M77.9 53.1h0M78.0 54.2h0M70.9 60.7h0M65.0 61.2h0M78.3 68.1h0M77.3 63.1h0M81.6 61.2h0M75.7 47.5h0M73.3 65.3h0M83.5 52.7h0M77.7 65.4h0M83.5 56.7h0M79.2 63.1h0M63.6 65.6h0M77.2 47.8h0M80.1 47.2h0M83.1 55.5h0M68.1 51.3h0M62.9 66.2h0M78.4 51.7h0" stroke="#c8c8c8" stroke-width="1.3" stroke-linecap="round" fill="none"/>
<path d="M83.6 53.9h0M65.1 55.4h0M73.7 62.2h0M69.7 54.3h0M84.3 43.3h0M82.8 58.5h0M69.2 49.3h0M81.2 44.2h0M68.2 56.1h0M82.4 58.4h0M80.8 53.1h0M69.8 49.4h0M68.7 42.3h0M81.3 62.8h0M68.7 63.6h0M66.1 56.3h0M65.0 63.7h0M78.1 65.1h0M75.9 62.6h0M87.0 40.2h0M85.3 38.5h0M75.0 59.7h0M83.4 52.1h0M79.1 69.8h0M66.8 65.3h0M78.9 69.0h0M82.6 53.9h0M83.6 42.0h0M70.0 46.1h0M73.6 49.9h0M69.8 41.8h0M77.1 59.1h0M77.4 52.6h0M73.8 70.5h0M85.1 45.3h0M66.6 63.3h0M82.1 41.1h0M76.4 78.1h0M75.9 42.2h0M75.9 79.7h0M62.4 55.5h0M77.7 43.9h0" stroke="#dddddd" stroke-width="1.3" stroke-linecap="round" fill="none"/>
<path d="M109.1 78.3h0M109.7 78.9h0M110.8 72.8h0M109.2 74.7h0M110.9 73.7h0M111.0 72.7h0M109.4 72.4h0M109.8 81.2h0M112.0 73.1h0M110.8 75.5h0M110.3 76.4h0M109.6 78.7h0M111.0 73.9h0M111.2 74.4h0" stroke="#6a5cb0" stroke-width="1.3" stroke-linecap="round" fill="none"/>
<path d="M79.8 76.0h0M78.9 78.8h0M82.7 77.1h0M79.4 76.0h0M80.2 81.0h0" stroke="#5a4ca8" stroke-width="1.3" stroke-linecap="round" fill="none"/>
<path d="M62.2 38.2h0M61.0 43.8h0M50.6 51.9h0M60.2 46.7h0M52.2 59.0h0M57.6 51.4h0M60.0 44.9h0M60.4 48.3h0M62.8 41.5h0M65.7 38.3h0M59.4 55.2h0M54.6 57.2h0M56.3 68.2h0M57.3 51.3h0M49.6 59.0h0M60.3 46.0h0M51.0 45.6h0M52.5 59.0h0M55.0 68.1h0M56.6 59.4h0M55.4 54.0h0M47.7 69.2h0M48.0 58.2h0M62.4 41.7h0M59.7 44.8h0M55.0 51.4h0M48.5 53.2h0M48.3 50.8h0M64.1 37.6h0M49.5 54.4h0M52.2 71.2h0M49.7 60.6h0M52.3 43.8h0M55.2 61.8h0M49.6 58.8h0M62.2 42.2h0M53.0 56.9h0M51.9 58.7h0M64.7 44.1h0M55.9 53.4h0M59.5 37.7h0M63.1 39.0h0M52.5 72.5h0M58.4 42.7h0M55.1 56.0h0M47.3 61.0h0M61.9 37.8h0M60.6 38.6h0M58.0 44.4h0M51.4 49.9h0M65.3 44.1h0M50.2 59.2h0M56.5 68.8h0M49.6 61.1h0M57.2 56.1h0M50.9 65.3h0M62.4 45.2h0M53.7 65.8h0M50.8 70.4h0M62.1 42.5h0M49.5 47.4h0M56.3 59.6h0M58.5 39.9h0M61.4 51.4h0M49.0 48.4h0M67.4 37.9h0M54.8 40.9h0M57.6 41.5h0M64.4 42.1h0M55.9 65.3h0M48.0 61.7h0M56.9 63.7h0M53.2 48.4h0M63.7 37.5h0M48.0 49.8h0M49.1 49.4h0M47.1 62.3h0M49.1 70.4h0M50.7 65.7h0M52.4 70.4h0M51.0 64.4h0M53.3 49.5h0M56.1 56.3h0M59.9 52.0h0M55.1 69.6h0M51.9 52.2h0M50.1 55.5h0M49.1 65.9h0M52.4 58.3h0M49.9 53.8h0M50.3 44.8h0M51.0 53.6h0M46.5 61.5h0M58.1 50.4h0M52.2 62.7h0M48.1 65.6h0M55.9 65.7h0M57.1 44.3h0M57.5 48.3h0M59.8 52.6h0M47.8 61.9h0M49.5 70.0h0M51.4 67.1h0M67.4 40.2h0M58.5 44.5h0M53.8 60.5h0M53.8 50.4h0M56.7 62.5h0M52.8 59.7h0M51.2 50.3h0M50.7 63.3h0M53.3 55.6h0M55.4 59.7h0M53.0 68.9h0M61.0 37.4h0M53.9 53.4h0M48.3 50.8h0M53.9 41.7h0M55.2 44.7h0M66.7 42.9h0M54.8 56.9h0M64.2 39.0h0M59.0 56.2h0M51.7 68.8h0M66.5 42.8h0M49.2 60.6h0M54.1 54.8h0M65.3 44.1h0M58.7 39.8h0M63.7 47.9h0M58.2 43.0h0M61.7 39.6h0M51.1 45.0h0M57.3 40.4h0M49.6 51.8h0M56.6 66.0h0M54.0 75.1h0M54.6 53.5h0M52.3 69.3h0M47.5 61.4h0M58.1 49.5h0M52.7 64.8h0M58.6 47.2h0M57.3 47.5h0M53.9 71.4h0M61.6 44.3h0M48.6 59.2h0M52.2 72.0h0M58.0 43.1h0M50.4 57.6h0M50.0 60.9h0M64.5 37.6h0M58.0 56.3h0M56.2 44.5h0M54.3 64.7h0M50.0 70.1h0M53.4 74.0h0M62.9 37.9h0M55.5 73.1h0M65.5 38.0h0M51.8 49.6h0M60.5 40.5h0M61.8 40.5h0M59.2 43.0h0M53.9 64.5h0M59.9 38.8h0M57.5 61.8h0M51.4 71.7h0M55.3 68.4h0M58.1 53.6h0M54.8 43.1h0M61.3 44.7h0M64.3 39.6h0M50.2 67.4h0M65.3 40.7h0M54.2 60.3h0M60.4 50.0h0M49.7 62.0h0M50.1 71.0h0M52.3 52.9h0M49.6 53.4h0M50.6 58.1h0M55.1 50.6h0M52.4 52.6h0M51.5 69.6h0M54.1 48.9h0M51.2 57.0h0M59.2 39.1h0M52.3 61.0h0M63.4 36.6h0M52.6 74.9h0M54.5 53.0h0M49.7 65.7h0M50.4 55.2h0M51.2 47.1h0M59.6 45.0h0M48.3 67.3h0M51.0 60.5h0M53.5 52.4h0M47.6 59.4h0M61.6 41.7h0M51.1 71.4h0M65.1 45.5h0M54.7 52.0h0M53.8 64.9h0M64.5 39.2h0M52.3 54.4h0M56.9 55.9h0M49.3 47.3h0M49.0 47.1h0M61.7 49.9h0M53.7 57.0h0M54.1 48.6h0M55.6 45.6h0M54.1 72.1h0M60.1 51.3h0M47.6 63.2h0M50.6 44.7h0M55.8 68.7h0M51.0 67.5h0M50.9 69.5h0M49.0 69.4h0M53.4 65.5h0M50.5 71.9h0M63.1 38.3h0M60.1 48.3h0M49.1 46.8h0M55.7 41.8h0M53.6 42.6h0M48.4 67.5h0M64.8 85.3h0M54.1 83.2h0M58.6 71.9h0M73.4 92.2h0M76.4 96.7h0M71.2 88.2h0M66.4 78.9h0M66.5 77.3h0M52.5 86.8h0M64.2 70.8h0M55.4 94.8h0M63.4 70.9h0M66.1 73.6h0M64.4 86.2h0M63.9 89.3h0M55.3 96.3h0M70.6 93.2h0M53.0 80.3h0M72.9 79.8h0M76.6 87.3h0M70.2 97.8h0M53.4 82.6h0M68.3 95.9h0M59.6 88.5h0M68.0 65.7h0M68.1 102.2h0M70.7 68.4h0M64.8 98.8h0M59.2 84.9h0M62.7 74.2h0M74.6 88.8h0M58.2 95.8h0M71.3 93.3h0M57.0 89.1h0M60.7 71.4h0M57.6 83.9h0M52.3 88.3h0M61.6 93.0h0M66.0 77.9h0M77.6 89.3h0M60.5 84.7h0M60.9 79.2h0M52.2 96.2h0M62.4 76.0h0M75.6 88.2h0M67.2 73.2h0M66.2 93.8h0M73.6 90.7h0M68.3 86.7h0M76.1 91.5h0M60.1 82.9h0M63.9 101.7h0M61.6 102.0h0M61.4 88.4h0M68.0 76.5h0M65.0 94.4h0M65.3 80.0h0M61.9 73.1h0M68.2 90.2h0M59.5 82.9h0M59.8 73.1h0M74.3 89.7h0M63.6 78.1h0M74.2 92.2h0M58.6 84.2h0M59.5 96.2h0M64.6 70.6h0M56.6 89.4h0M68.4 98.6h0M73.0 99.8h0M67.1 72.2h0M53.1 78.4h0M63.4 83.7h0M54.3 98.8h0M71.0 91.2h0M71.8 71.2h0M77.0 88.1h0M68.0 64.9h0M56.9 97.8h0M67.0 88.8h0M78.4 92.6h0M67.8 82.4h0M55.3 91.8h0M56.8 80.4h0M73.3 99.4h0M60.9 90.5h0M64.4 83.7h0M56.6 88.8h0M74.3 84.2h0M56.0 88.6h0M71.5 71.9h0M53.1 98.8h0M69.8 100.4h0M71.2 89.4h0M53.2 94.6h0M52.8 100.1h0M64.4 78.7h0M71.0 92.7h0M72.5 75.3h0M68.6 101.6h0M72.7 99.8h0M65.1 83.9h0M55.8 79.3h0M64.4 75.2h0M63.3 68.3h0M52.5 99.6h0M56.2 85.0h0M63.6 71.0h0M59.2 79.9h0M72.0 99.5h0M57.5 76.5h0M69.1 94.9h0M70.2 67.7h0M59.8 87.8h0M72.5 67.8h0M65.6 93.0h0M69.4 78.3h0M61.0 82.1h0M55.6 90.4h0M58.0 91.3h0M51.7 95.6h0M69.7 78.7h0M57.9 87.9h0M65.6 82.7h0M54.3 94.5h0M69.3 70.3h0M60.1 90.8h0M51.6 94.4h0M69.2 78.0h0M72.3 73.2h0M61.2 103.4h0M73.0 75.2h0M54.6 84.6h0M63.8 100.0h0M69.6 86.8h0M72.8 100.3h0M70.9 79.1h0M57.4 101.4h0M61.5 99.3h0M55.1 86.3h0M76.4 98.5h0M59.1 79.0h0M66.6 94.8h0M56.4 72.8h0M66.1 67.6h0M62.7 77.8h0M61.4 92.6h0M54.3 83.6h0M59.3 88.3h0M65.7 69.4h0M70.7 75.3h0M70.1 75.8h0M69.0 87.0h0M53.8 91.2h0M54.7 78.2h0M64.7 76.7h0M68.3 76.3h0M53.4 88.8h0M68.4 93.1h0M66.2 74.8h0M58.2 71.3h0M63.5 71.2h0M68.1 72.9h0M59.2 80.4h0M55.0 88.5h0M74.9 92.8h0M61.7 73.3h0M58.3 98.1h0M66.2 100.8h0M53.9 93.8h0M110.8 44.7h0M112.9 66.2h0M107.3 67.0h0M109.8 67.4h0M111.6 61.2h0M111.3 66.2h0M108.7 64.7h0M117.1 65.9h0M117.0 65.3h0M113.7 46.6h0M107.6 64.2h0M108.4 63.7h0M110.9 57.7h0M118.2 58.5h0M109.1 62.0h0M119.4 62.1h0M116.7 47.3h0M117.1 47.9h0M116.8 61.1h0M116.2 54.2h0M111.1 59.2h0M115.0 50.3h0M112.9 62.4h0M113.0 49.0h0M114.1 49.7h0M116.7 59.4h0M111.6 49.1h0M105.9 59.9h0M108.6 49.1h0M119.0 62.1h0M110.7 68.6h0M108.3 53.8h0M114.9 48.8h0M109.4 52.4h0M117.9 55.8h0M117.7 61.4h0M111.7 66.5h0M120.1 51.2h0M106.7 57.2h0M116.4 61.2h0M112.7 53.7h0M118.4 48.1h0M112.1 47.0h0M117.8 58.1h0M117.9 60.9h0M110.0 55.3h0M109.7 64.3h0M117.4 45.5h0M110.3 70.8h0M118.5 55.7h0M110.0 56.8h0M107.4 61.0h0M107.5 57.4h0M114.4 45.3h0M119.5 49.7h0M114.2 53.8h0M104.1 63.9h0M113.2 49.1h0M108.2 64.8h0M115.5 57.4h0M110.0 59.0h0M109.4 57.1h0M109.3 50.3h0M106.4 67.0h0M116.3 54.2h0M111.3 47.4h0M118.9 63.8h0M112.6 53.7h0M110.1 68.7h0M105.9 61.1h0M108.4 65.0h0M115.8 55.6h0M108.2 61.7h0M116.3 67.5h0M107.5 63.6h0M114.7 56.7h0M117.7 50.9h0M109.0 58.2h0M107.9 68.5h0M116.0 51.5h0M108.6 48.7h0M108.9 57.8h0M106.9 69.0h0M113.4 46.7h0M108.8 71.1h0M116.9 47.8h0M110.5 62.1h0M114.8 63.2h0M115.7 53.6h0M106.4 61.1h0M94.5 50.6h0M103.4 53.1h0M98.8 46.0h0M96.0 45.8h0M105.7 51.3h0M102.1 47.0h0M105.6 55.1h0M105.4 58.2h0M99.4 53.9h0M103.7 56.1h0M97.5 46.9h0M100.0 46.9h0M106.3 55.3h0M107.1 48.9h0M98.6 52.4h0M102.9 55.7h0M94.7 48.3h0M100.9 52.8h0M99.3 45.5h0M93.4 49.8h0M102.9 49.2h0M102.4 51.6h0M95.0 44.5h0M108.0 53.1h0M105.2 51.3h0M100.1 48.8h0M93.9 47.2h0M108.0 49.9h0M101.9 57.7h0M103.3 50.8h0M105.5 57.2h0M105.6 51.8h0M100.6 51.8h0M103.6 49.8h0M103.3 51.4h0M98.3 53.7h0M96.9 53.1h0M96.2 48.9h0M105.0 55.4h0M108.3 50.4h0M96.5 44.4h0M105.0 47.6h0M94.0 47.3h0M99.1 51.7h0M99.3 46.4h0M95.8 45.6h0M96.8 49.0h0M101.7 46.5h0M108.1 51.5h0M94.6 51.2h0M76.5 38.2h0M75.2 40.1h0M70.7 36.8h0M71.8 40.6h0M82.8 33.9h0M79.2 31.8h0M80.3 31.5h0M69.3 39.0h0M69.0 36.8h0M82.7 33.1h0M74.6 34.9h0M70.4 34.5h0M71.3 34.9h0M73.2 38.0h0M78.4 33.6h0M71.2 36.9h0M85.2 27.5h0M73.5 39.9h0M63.5 36.4h0M85.8 30.1h0M67.6 35.9h0M72.5 41.1h0M69.8 35.1h0M74.3 40.4h0M65.1 38.0h0M79.3 35.2h0M71.2 35.5h0M85.9 31.8h0M74.8 40.0h0M84.4 27.0h0M66.6 40.4h0M79.9 33.1h0M70.4 35.3h0M76.1 32.4h0M69.8 35.9h0M69.4 37.7h0M68.0 35.2h0M73.3 36.1h0M70.3 40.6h0M72.1 36.4h0M68.5 33.5h0M84.6 30.9h0M84.1 32.5h0M82.7 30.0h0M77.4 36.5h0M71.5 34.9h0M69.4 42.4h0M73.2 39.9h0M73.1 32.8h0M79.8 33.0h0M76.7 36.4h0M70.3 40.7h0M80.1 35.1h0M84.3 28.4h0M71.9 36.2h0M71.5 37.3h0M83.0 31.4h0M65.4 37.3h0M74.5 34.9h0M72.4 33.6h0M84.2 29.4h0M72.5 33.5h0M83.1 27.1h0M77.3 36.1h0M81.0 31.8h0M68.6 36.8h0M80.4 28.9h0M71.0 36.4h0M79.0 32.8h0M67.8 37.4h0M72.5 40.6h0M71.7 38.0h0M83.0 33.1h0M69.4 41.3h0M83.3 31.6h0M78.1 35.1h0M76.1 38.9h0M70.0 33.0h0M71.5 40.2h0M77.9 37.4h0M91.4 92.0h0M92.8 91.2h0M84.3 86.8h0M81.5 86.0h0M82.4 85.7h0M87.7 89.3h0M98.1 92.1h0M84.0 88.3h0M85.6 88.1h0M86.7 87.9h0M89.0 90.0h0M85.3 89.1h0" stroke="#fff" stroke-width="0.9" stroke-linecap="round" fill="none" stroke-opacity="0.7"/>
</g>
<line x1="304.7" y1="228.5" x2="304.7" y2="299.5" stroke="#222" stroke-width="1"/>
<line x1="304.2" y1="299" x2="374.2" y2="299" stroke="#222" stroke-width="1"/>
<line x1="301.7" y1="231.2" x2="304.7" y2="231.2" stroke="#222" stroke-width="0.85"/>
<text transform="translate(298.4,233.3)" font-size="6" text-anchor="end" fill="#262626" font-weight="normal">6</text>
<line x1="301.7" y1="247.5" x2="304.7" y2="247.5" stroke="#222" stroke-width="0.85"/>
<text transform="translate(298.4,249.6)" font-size="6" text-anchor="end" fill="#262626" font-weight="normal">3</text>
<line x1="301.7" y1="263.7" x2="304.7" y2="263.7" stroke="#222" stroke-width="0.85"/>
<text transform="translate(298.4,265.8)" font-size="6" text-anchor="end" fill="#262626" font-weight="normal">0</text>
<line x1="301.7" y1="280" x2="304.7" y2="280" stroke="#222" stroke-width="0.85"/>
<text transform="translate(298.4,282.1)" font-size="6" text-anchor="end" fill="#262626" font-weight="normal">−3</text>
<line x1="301.7" y1="296.2" x2="304.7" y2="296.2" stroke="#222" stroke-width="0.85"/>
<text transform="translate(298.4,298.3)" font-size="6" text-anchor="end" fill="#262626" font-weight="normal">−6</text>
<line x1="319.4" y1="299" x2="319.4" y2="301.8" stroke="#222" stroke-width="0.85"/>
<text transform="translate(319.4,310.9)" font-size="6" text-anchor="middle" fill="#262626" font-weight="normal">−5</text>
<line x1="335.7" y1="299" x2="335.7" y2="301.8" stroke="#222" stroke-width="0.85"/>
<text transform="translate(335.7,310.9)" font-size="6" text-anchor="middle" fill="#262626" font-weight="normal">0</text>
<line x1="351.9" y1="299" x2="351.9" y2="301.8" stroke="#222" stroke-width="0.85"/>
<text transform="translate(351.9,310.9)" font-size="6" text-anchor="middle" fill="#262626" font-weight="normal">5</text>
<line x1="368.1" y1="299" x2="368.1" y2="301.8" stroke="#222" stroke-width="0.85"/>
<text transform="translate(368.1,310.9)" font-size="6" text-anchor="middle" fill="#262626" font-weight="normal">10</text>
<text transform="translate(339.6,320.8) scale(0.66,1)" font-size="8.4" text-anchor="middle" fill="#2a2a2a" font-weight="bold">UMAP 1</text>
<text transform="translate(287.2,262.8) rotate(-90) scale(0.66,1)" font-size="8.4" text-anchor="middle" fill="#2a2a2a" font-weight="bold">UMAP 2</text>
<text transform="translate(339.9,223.6)" font-size="7.7" text-anchor="middle" fill="#222" font-weight="normal">KIT</text>
<rect x="378.1" y="251.9" width="4.1" height="18.8" fill="url(#gE)"/>
<text transform="translate(385.3,254.5)" font-size="6" text-anchor="start" fill="#262626" font-weight="normal">2.5</text>
<text transform="translate(385.3,258.9)" font-size="6" text-anchor="start" fill="#262626" font-weight="normal">2.0</text>
<text transform="translate(385.3,263.8)" font-size="6" text-anchor="start" fill="#262626" font-weight="normal">1.5</text>
<text transform="translate(385.3,268.2)" font-size="6" text-anchor="start" fill="#262626" font-weight="normal">1.0</text>
<g transform="translate(395.2,214.2) scale(0.819,0.774)">
<path d="M62.4,35.8 C61.07,36.1 59.32,37.1 58,37.8 C56.68,38.5 55.58,39.22 54.5,40 C53.42,40.78 52.33,41.67 51.5,42.5 C50.67,43.33 50.03,44 49.5,45 C48.97,46 48.63,47.33 48.3,48.5 C47.97,49.67 47.72,50.65 47.5,52 C47.28,53.35 47.17,55.1 47,56.6 C46.83,58.1 46.62,59.77 46.5,61 C46.38,62.23 46.25,62.92 46.3,64 C46.35,65.08 46.47,66.42 46.8,67.5 C47.13,68.58 47.72,69.55 48.3,70.5 C48.88,71.45 49.6,72.32 50.3,73.2 C51,74.08 51.72,75.42 52.5,75.8 C53.28,76.18 54.37,76.13 55,75.5 C55.63,74.87 56,73.25 56.3,72 C56.6,70.75 56.63,69.17 56.8,68 C56.97,66.83 57.13,65.88 57.3,65 C57.47,64.12 57.43,64.03 57.8,62.7 C58.17,61.37 58.75,59.03 59.5,57 C60.25,54.97 61.3,52.42 62.3,50.5 C63.3,48.58 64.55,47.08 65.5,45.5 C66.45,43.92 67.5,42.25 68,41 C68.5,39.75 68.83,38.83 68.5,38 C68.17,37.17 67.02,36.37 66,36 C64.98,35.63 63.73,35.5 62.4,35.8Z" fill="#d0d0d0"/>
<path d="M52.3,76.5 C52.95,75.37 54.17,74.2 55.2,73.2 C56.23,72.2 57.37,71.28 58.5,70.5 C59.63,69.72 60.82,69.2 62,68.5 C63.18,67.8 64.6,66.97 65.6,66.3 C66.6,65.63 67.27,64.93 68,64.5 C68.73,64.07 69.33,63.75 70,63.7 C70.67,63.65 71.43,63.9 72,64.2 C72.57,64.5 73.07,64.53 73.4,65.5 C73.73,66.47 73.93,68.42 74,70 C74.07,71.58 73.87,73.45 73.8,75 C73.73,76.55 73.48,77.97 73.6,79.3 C73.72,80.63 74.1,81.8 74.5,83 C74.9,84.2 75.47,85.53 76,86.5 C76.53,87.47 77.27,87.97 77.7,88.8 C78.13,89.63 78.45,90.48 78.6,91.5 C78.75,92.52 78.87,93.85 78.6,94.9 C78.33,95.95 77.58,96.95 77,97.8 C76.42,98.65 75.93,99.3 75.1,100 C74.27,100.7 73.15,101.42 72,102 C70.85,102.58 69.45,103.1 68.2,103.5 C66.95,103.9 65.65,104.25 64.5,104.4 C63.35,104.55 62.38,104.5 61.3,104.4 C60.22,104.3 59.02,104.08 58,103.8 C56.98,103.52 56.07,103.28 55.2,102.7 C54.33,102.12 53.52,101.32 52.8,100.3 C52.08,99.28 51.37,97.82 50.9,96.6 C50.43,95.38 50.1,94.35 50,93 C49.9,91.65 50.15,90 50.3,88.5 C50.45,87 50.73,85.42 50.9,84 C51.07,82.58 51.07,81.25 51.3,80 C51.53,78.75 51.65,77.63 52.3,76.5Z" fill="#d0d0d0"/>
<path d="M62,36.5 C62,36 63,35.5 64,35 C65,34.5 66.67,33.92 68,33.5 C69.33,33.08 70.67,32.83 72,32.5 C73.33,32.17 74.9,31.83 76,31.5 C77.1,31.17 77.88,31 78.6,30.5 C79.32,30 79.82,29.12 80.3,28.5 C80.78,27.88 80.97,27.18 81.5,26.8 C82.03,26.42 82.83,26.17 83.5,26.2 C84.17,26.23 84.98,26.53 85.5,27 C86.02,27.47 86.47,28.25 86.6,29 C86.73,29.75 86.65,30.75 86.3,31.5 C85.95,32.25 85.22,32.92 84.5,33.5 C83.78,34.08 82.83,34.5 82,35 C81.17,35.5 80.33,35.92 79.5,36.5 C78.67,37.08 77.83,37.75 77,38.5 C76.17,39.25 75.33,40.33 74.5,41 C73.67,41.67 72.83,42.17 72,42.5 C71.17,42.83 70.25,43.08 69.5,43 C68.75,42.92 68.08,42.58 67.5,42 C66.92,41.42 66.58,40.17 66,39.5 C65.42,38.83 64.67,38.5 64,38 C63.33,37.5 62,37 62,36.5Z" fill="#d0d0d0"/>
<path d="M92.2,47.1 C92.35,46.03 93.6,44.57 94.4,44.1 C95.2,43.63 96.13,44.17 97,44.3 C97.87,44.43 98.45,44.58 99.6,44.9 C100.75,45.22 102.6,45.68 103.9,46.2 C105.2,46.72 106.65,47.37 107.4,48 C108.15,48.63 108.27,49.28 108.4,50 C108.53,50.72 108.35,51.38 108.2,52.3 C108.05,53.22 107.78,54.5 107.5,55.5 C107.22,56.5 106.92,57.63 106.5,58.3 C106.08,58.97 105.43,59.35 105,59.5 C104.57,59.65 104.48,59.53 103.9,59.2 C103.32,58.87 102.22,58.08 101.5,57.5 C100.78,56.92 100.5,56.28 99.6,55.7 C98.7,55.12 96.95,54.53 96.1,54 C95.25,53.47 94.93,53.08 94.5,52.5 C94.07,51.92 93.88,51.4 93.5,50.5 C93.12,49.6 92.05,48.17 92.2,47.1Z" fill="#7e72c4"/>
<path d="M104,45.8 C104.5,44.8 107.33,45.33 108.5,45 C109.67,44.67 110.67,42.97 111,43.8 C111.33,44.63 110.87,48.13 110.5,50 C110.13,51.87 109.55,53.42 108.8,55 C108.05,56.58 106.72,59.17 106,59.5 C105.28,59.83 104.58,58.42 104.5,57 C104.42,55.58 105.58,52.87 105.5,51 C105.42,49.13 103.5,46.8 104,45.8Z" fill="#7468be"/>
<path d="M110.8,43.6 C111.65,43.07 113.22,42.65 114.3,42.8 C115.38,42.95 116.43,43.63 117.3,44.5 C118.17,45.37 119,46.75 119.5,48 C120,49.25 120.17,50.85 120.3,52 C120.43,53.15 120.37,53.27 120.3,54.9 C120.23,56.53 120.13,60.2 119.9,61.8 C119.67,63.4 119.23,63.68 118.9,64.5 C118.57,65.32 118.42,65.9 117.9,66.7 C117.38,67.5 116.52,68.58 115.8,69.3 C115.08,70.02 114.55,70.58 113.6,71 C112.65,71.42 111.03,71.83 110.1,71.8 C109.17,71.77 108.57,71.23 108,70.8 C107.43,70.37 107.17,69.83 106.7,69.2 C106.23,68.57 105.63,67.72 105.2,67 C104.77,66.28 104.32,65.73 104.1,64.9 C103.88,64.07 103.78,62.9 103.9,62 C104.02,61.1 104.3,60.4 104.8,59.5 C105.3,58.6 106.4,57.68 106.9,56.6 C107.4,55.52 107.58,54.15 107.8,53 C108.02,51.85 107.97,50.87 108.2,49.7 C108.43,48.53 108.77,47.02 109.2,46 C109.63,44.98 109.95,44.13 110.8,43.6Z" fill="#7064ba"/>
<path d="M120.6,51.8 C120.85,51.3 121.77,52.72 122.3,53.5 C122.83,54.28 123.58,55.62 123.8,56.5 C124.02,57.38 123.9,58.42 123.6,58.8 C123.3,59.18 122.47,59.18 122,58.8 C121.53,58.42 121.03,57.67 120.8,56.5 C120.57,55.33 120.35,52.3 120.6,51.8Z" fill="#8a80c4"/>
<path d="M100.6,88.3 C101.13,87.7 102.27,87.23 103,86.8 C103.73,86.37 104.25,86.32 105,85.7 C105.75,85.08 106.87,83.25 107.5,83.1 C108.13,82.95 108.58,83.98 108.8,84.8 C109.02,85.62 108.93,86.7 108.8,88 C108.67,89.3 108.3,91.5 108,92.6 C107.7,93.7 107.37,94.02 107,94.6 C106.63,95.18 106.43,95.78 105.8,96.1 C105.17,96.42 103.92,96.58 103.2,96.5 C102.48,96.42 101.93,95.97 101.5,95.6 C101.07,95.23 100.88,94.82 100.6,94.3 C100.32,93.78 99.93,93.15 99.8,92.5 C99.67,91.85 99.67,91.1 99.8,90.4 C99.93,89.7 100.07,88.9 100.6,88.3Z" fill="#35267f"/>
<path d="M80.7,83.1 C81.23,83.15 82.75,85.02 84.2,85.8 C85.65,86.58 87.82,87.17 89.4,87.8 C90.98,88.43 92.43,89.03 93.7,89.6 C94.97,90.17 96.13,90.75 97,91.2 C97.87,91.65 98.43,91.78 98.9,92.3 C99.37,92.82 100.03,93.97 99.8,94.3 C99.57,94.63 98.23,94.43 97.5,94.3 C96.77,94.17 96.28,93.8 95.4,93.5 C94.52,93.2 93.07,92.8 92.2,92.5 C91.33,92.2 90.98,92.02 90.2,91.7 C89.42,91.38 88.22,90.88 87.5,90.6 C86.78,90.32 86.55,90.33 85.9,90 C85.25,89.67 84.17,89.03 83.6,88.6 C83.03,88.17 82.93,87.92 82.5,87.4 C82.07,86.88 81.3,86.22 81,85.5 C80.7,84.78 80.17,83.05 80.7,83.1Z" fill="#35267f"/>
<path d="M87.2,47.4 C87.73,47.1 89.07,47.43 89.2,48.2 C89.33,48.97 88.43,50.53 88,52 C87.57,53.47 87.07,55.33 86.6,57 C86.13,58.67 85.68,60.42 85.2,62 C84.72,63.58 84.23,65 83.7,66.5 C83.17,68 82.52,69.58 82,71 C81.48,72.42 81,74 80.6,75 C80.2,76 79.97,76.75 79.6,77 C79.23,77.25 78.57,77.17 78.4,76.5 C78.23,75.83 78.4,74.33 78.6,73 C78.8,71.67 79.18,70.08 79.6,68.5 C80.02,66.92 80.57,65.25 81.1,63.5 C81.63,61.75 82.22,59.75 82.8,58 C83.38,56.25 84.07,54.33 84.6,53 C85.13,51.67 85.57,50.93 86,50 C86.43,49.07 86.67,47.7 87.2,47.4Z" fill="#d0d0d0"/>
<path d="M89.6,88.5 C90.1,88.08 91.77,89.17 93,89.5 C94.23,89.83 95.83,90.58 97,90.5 C98.17,90.42 99,89.58 100,89 C101,88.42 101.75,88 103,87 C104.25,86 106.42,83.42 107.5,83 C108.58,82.58 109.2,83.67 109.5,84.5 C109.8,85.33 109.47,86.65 109.3,88 C109.13,89.35 108.85,91.35 108.5,92.6 C108.15,93.85 107.65,94.77 107.2,95.5 C106.75,96.23 106.5,96.75 105.8,97 C105.1,97.25 103.97,97.25 103,97 C102.03,96.75 101.17,95.92 100,95.5 C98.83,95.08 97.25,94.83 96,94.5 C94.75,94.17 93.5,93.92 92.5,93.5 C91.5,93.08 90.48,92.83 90,92 C89.52,91.17 89.1,88.92 89.6,88.5Z" fill="#35267f"/>
<path d="M48.0 51.0h0M46.9 55.3h0M65.8 35.8h0M49.6 45.1h0M62.1 50.7h0M67.2 42.5h0M62.2 51.7h0M62.4 35.7h0M62.8 35.9h0M47.9 70.5h0M56.4 71.3h0M56.7 69.7h0M55.4 75.1h0M56.4 38.5h0M45.5 64.2h0M57.7 64.1h0M48.1 49.9h0M48.6 48.3h0M46.5 61.2h0M45.9 61.3h0M58.1 63.3h0M46.6 53.3h0M61.1 53.7h0M62.6 52.0h0M69.0 37.8h0M56.3 71.8h0M50.6 42.4h0M66.0 44.5h0M56.7 69.5h0M46.1 59.2h0M53.8 39.9h0M68.6 38.6h0M59.3 36.7h0M50.3 43.1h0M67.2 42.6h0M63.4 36.1h0M57.4 64.4h0M50.2 43.3h0M57.0 68.0h0M51.5 76.0h0M60.4 36.9h0M50.2 43.8h0M46.5 61.2h0M59.0 59.8h0M61.8 52.6h0M68.6 39.1h0M57.6 37.2h0M67.0 35.5h0M62.7 34.9h0M61.8 52.4h0M48.7 47.5h0M56.9 69.7h0M68.2 38.0h0M50.9 42.8h0M68.4 40.5h0M46.4 62.2h0M61.3 54.0h0M64.6 47.0h0M45.7 61.3h0M46.1 66.4h0M57.9 62.5h0M46.5 59.0h0M68.7 40.3h0M64.0 47.9h0M62.1 35.4h0M53.4 41.0h0M62.9 49.7h0M62.7 50.5h0M52.5 40.6h0M48.7 72.7h0M78.0 98.0h0M73.7 74.8h0M54.8 71.9h0M70.5 102.9h0M72.8 64.0h0M62.3 67.8h0M62.7 68.2h0M74.1 67.0h0M53.6 102.5h0M51.4 99.5h0M77.0 86.5h0M60.3 68.2h0M52.2 98.8h0M62.1 67.6h0M78.2 89.9h0M50.5 86.0h0M50.3 92.3h0M79.1 91.2h0M74.1 66.8h0M73.8 80.7h0M64.6 104.8h0M56.9 70.8h0M65.7 104.0h0M74.7 81.5h0M58.1 104.9h0M75.8 99.9h0M62.4 67.9h0M73.9 75.3h0M78.3 90.6h0M50.2 90.6h0M53.5 101.1h0M51.2 78.8h0M79.6 94.2h0M64.9 105.1h0M79.2 90.1h0M67.9 104.7h0M52.2 98.6h0M79.3 92.6h0M69.5 64.1h0M49.6 92.8h0M76.0 86.8h0M74.5 79.6h0M60.3 104.5h0M73.4 65.5h0M74.5 69.4h0M61.3 104.5h0M53.5 102.0h0M76.4 84.7h0M49.4 86.9h0M50.4 98.2h0M74.9 100.0h0M74.4 78.2h0M54.1 74.0h0M54.4 73.4h0M62.2 104.8h0M75.0 83.1h0M68.8 103.8h0M59.8 68.9h0M76.2 83.8h0M52.4 101.0h0M77.4 87.6h0M77.4 96.6h0M65.0 104.8h0M74.6 72.1h0M65.8 65.2h0M49.8 92.2h0M50.8 97.3h0M63.5 67.3h0M74.2 71.2h0M75.6 86.1h0M79.0 89.3h0M62.3 67.8h0M59.5 104.7h0M74.0 70.6h0M54.2 102.4h0M66.6 65.1h0M60.1 69.3h0M79.3 95.1h0M79.1 95.3h0M52.8 75.7h0M84.8 33.9h0M75.9 39.4h0M77.3 38.7h0M75.0 31.8h0M68.3 43.4h0M78.6 37.3h0M72.9 32.0h0M80.4 36.1h0M66.4 40.9h0M63.7 38.1h0M69.1 43.7h0M77.9 30.4h0M86.5 31.5h0M77.2 38.8h0M70.5 43.4h0M84.6 34.1h0M80.9 35.7h0M80.0 36.4h0M79.0 30.1h0M74.9 40.5h0M67.7 41.9h0M65.7 40.9h0M82.7 34.9h0M82.6 26.2h0M87.0 27.7h0M86.7 30.9h0M69.8 32.7h0M80.3 36.1h0M74.3 31.8h0M78.7 30.1h0M70.2 43.5h0M62.2 37.0h0M83.9 25.6h0M73.8 42.4h0M63.1 37.8h0M87.1 28.6h0M84.8 26.3h0M65.3 39.1h0M64.2 34.5h0M65.7 34.1h0M79.8 67.7h0M84.3 65.8h0M85.9 49.7h0M82.3 60.3h0M82.2 70.8h0M89.0 48.8h0M79.7 68.3h0M85.0 52.2h0M84.6 64.5h0M82.6 69.2h0M81.4 73.0h0M82.9 69.6h0M83.4 55.5h0M79.2 68.8h0M78.2 74.1h0M84.2 66.9h0M83.5 67.1h0M84.4 53.5h0M80.5 62.2h0M83.8 55.2h0M79.2 69.1h0M84.3 53.5h0M85.6 51.1h0M80.7 75.0h0M78.0 77.2h0M82.5 70.6h0M78.5 73.1h0M87.5 54.8h0M79.0 70.0h0M78.0 76.9h0M105.1 43.2h0M102.7 40.0h0M94.6 34.9h0M94.9 33.0h0M95.3 33.8h0M96.5 37.4h0M96.2 44.0h0M100.7 42.6h0M93.1 43.7h0M95.2 37.0h0M96.0 41.5h0M97.4 42.8h0M90.4 33.9h0M99.0 37.8h0M96.2 43.0h0" stroke="#d0d0d0" stroke-width="1.3" stroke-linecap="round" fill="none"/>
<path d="M107.7 47.2h0M106.2 58.7h0M101.8 58.9h0M97.2 44.3h0M96.5 54.8h0M92.8 48.9h0M93.0 52.1h0M95.7 55.0h0M91.8 48.0h0M98.5 44.9h0M97.6 55.7h0M94.9 53.1h0M93.5 50.2h0M98.5 44.3h0M95.5 53.5h0M107.6 47.0h0M106.6 58.3h0M108.8 54.6h0M107.9 56.0h0M91.8 47.2h0M103.0 58.9h0M92.9 50.6h0M93.9 44.4h0M105.5 46.9h0M106.7 47.1h0M107.2 56.5h0M101.6 57.5h0M96.9 43.6h0M96.6 55.4h0M102.5 44.9h0M104.2 45.5h0M105.3 47.1h0M108.5 52.9h0M93.0 45.0h0M103.3 46.3h0M104.4 45.4h0M93.9 44.5h0M107.2 57.1h0M94.7 52.9h0M91.8 46.6h0" stroke="#7e72c4" stroke-width="1.3" stroke-linecap="round" fill="none"/>
<path d="M118.7 64.3h0M109.5 44.6h0M106.4 69.0h0M113.4 41.9h0M106.4 57.4h0M115.3 70.3h0M106.0 69.5h0M103.8 59.8h0M120.3 50.3h0M119.3 63.9h0M112.6 42.4h0M104.9 67.2h0M105.6 58.0h0M115.6 42.6h0M113.6 71.6h0M116.3 43.4h0M107.3 51.1h0M114.3 70.4h0M105.2 68.9h0M107.4 52.0h0M108.1 49.6h0M121.1 51.4h0M106.4 68.6h0M118.2 44.9h0M119.7 65.0h0M110.7 44.0h0M118.8 65.0h0M119.8 65.1h0M107.7 70.6h0M117.1 67.6h0M116.6 69.5h0M120.9 50.7h0M105.6 68.8h0M104.4 58.7h0M105.6 68.8h0M107.4 53.8h0M113.6 70.8h0M118.9 46.6h0M106.9 56.6h0M105.4 56.8h0M108.9 71.1h0M105.5 66.9h0M110.0 44.7h0M117.9 44.5h0M107.8 70.9h0M109.1 45.3h0M103.5 59.9h0M116.6 43.4h0M106.1 57.4h0M120.1 53.2h0M109.1 78.3h0M109.7 78.9h0M110.8 72.8h0M109.2 74.7h0M110.9 73.7h0M111.0 72.7h0M109.4 72.4h0M109.8 81.2h0M112.0 73.1h0M110.8 75.5h0M110.3 76.4h0M109.6 78.7h0M111.0 73.9h0M111.2 74.4h0" stroke="#7064ba" stroke-width="1.3" stroke-linecap="round" fill="none"/>
<path d="M109.6 86.9h0M107.4 82.6h0M107.7 82.6h0M109.2 86.1h0M101.3 96.3h0M108.3 89.8h0M107.8 92.3h0M99.5 94.9h0M108.8 91.0h0M106.3 83.9h0M99.3 89.0h0M108.6 90.9h0M99.6 87.8h0M103.1 86.6h0M109.4 89.1h0M105.8 84.4h0M107.0 94.4h0M108.6 90.1h0M99.7 91.2h0M99.7 92.2h0M88.2 86.6h0M80.2 82.7h0M98.4 94.5h0M87.0 90.6h0M97.5 94.5h0M97.2 90.9h0M81.7 83.9h0M91.3 87.9h0M80.7 85.2h0M80.9 83.3h0M80.3 83.3h0M81.9 87.3h0M98.6 92.0h0M86.2 90.1h0M82.8 87.6h0M95.6 93.8h0M91.1 92.1h0M88.0 87.4h0M83.5 85.3h0M81.7 86.9h0M80.2 83.7h0M92.7 89.3h0M83.5 89.1h0M97.3 94.3h0M80.3 82.8h0M94.1 89.6h0M99.6 93.9h0M82.9 88.2h0M100.4 94.6h0M93.7 89.4h0M79.8 76.0h0M80.7 76.5h0M78.9 78.8h0M83.5 82.6h0M82.7 77.1h0M81.5 77.6h0M79.4 76.0h0M83.1 82.7h0M80.2 81.0h0M82.5 83.1h0" stroke="#35267f" stroke-width="1.3" stroke-linecap="round" fill="none"/>
<path d="M81.4 44.5h0M85.5 32.6h0M77.8 40.9h0M82.4 53.0h0M74.1 51.8h0M73.9 81.5h0M75.3 53.6h0M74.7 64.0h0M61.8 64.1h0M73.8 42.1h0M65.2 65.4h0M84.9 33.0h0M61.6 66.3h0M78.7 75.4h0M83.7 50.5h0M82.0 51.0h0M61.5 65.6h0M79.1 66.1h0M67.7 48.3h0M60.8 64.7h0M83.1 47.9h0M85.8 32.7h0M84.0 55.0h0M70.5 63.5h0M65.7 57.2h0M85.0 47.5h0M68.9 58.3h0M87.3 37.3h0M67.0 59.7h0M74.9 82.1h0M71.8 54.8h0M76.4 77.7h0M70.2 53.6h0M77.4 64.6h0M71.2 49.8h0M74.2 50.5h0M65.5 60.7h0M77.3 39.8h0M62.0 67.7h0M79.9 48.5h0M81.3 39.1h0M83.7 33.3h0M76.2 49.5h0" stroke="#d4d4d4" stroke-width="1.3" stroke-linecap="round" fill="none"/>
<path d="M73.4 54.8h0M65.0 53.4h0M80.1 68.7h0M63.7 60.1h0M59.8 68.3h0M75.8 55.3h0M75.6 41.6h0M76.9 55.3h0M63.3 59.0h0M76.7 74.3h0M70.3 61.5h0M75.6 40.1h0M67.4 57.5h0M86.5 49.2h0M68.7 46.4h0M75.6 42.9h0M76.4 54.8h0M66.3 59.7h0M85.3 47.0h0M63.1 57.6h0M61.7 58.3h0M79.2 40.4h0M70.4 48.9h0M74.4 57.5h0M72.9 42.9h0M80.6 62.5h0M87.3 38.4h0M76.5 52.6h0M66.7 62.0h0M62.6 57.5h0M67.6 52.2h0M83.4 58.1h0M76.0 69.9h0M69.0 45.0h0M79.2 52.3h0M73.8 70.0h0M84.5 48.5h0M76.7 44.9h0M73.4 51.0h0M76.3 79.2h0M85.9 31.8h0M77.6 70.5h0M76.7 60.7h0" stroke="#e2e2e2" stroke-width="1.3" stroke-linecap="round" fill="none"/>
<path d="M78.0 72.8h0M71.6 57.3h0M67.6 62.1h0M79.6 66.7h0M81.6 59.6h0M66.6 60.0h0M73.6 56.7h0M63.8 62.0h0M79.8 55.1h0M78.8 59.9h0M68.1 64.4h0M79.6 58.0h0M85.5 32.0h0M85.8 42.3h0M62.6 60.2h0M85.8 46.6h0M87.6 36.9h0M67.7 44.1h0M68.5 59.8h0M82.3 35.1h0M86.1 46.6h0M79.9 66.4h0M77.9 53.1h0M78.0 54.2h0M70.9 60.7h0M65.0 61.2h0M78.3 68.1h0M77.3 63.1h0M81.6 61.2h0M75.7 47.5h0M73.3 65.3h0M83.5 52.7h0M77.7 65.4h0M83.5 56.7h0M79.2 63.1h0M63.6 65.6h0M77.2 47.8h0M80.1 47.2h0M83.1 55.5h0M68.1 51.3h0M62.9 66.2h0M78.4 51.7h0" stroke="#c8c8c8" stroke-width="1.3" stroke-linecap="round" fill="none"/>
<path d="M83.6 53.9h0M65.1 55.4h0M73.7 62.2h0M69.7 54.3h0M84.3 43.3h0M82.8 58.5h0M69.2 49.3h0M81.2 44.2h0M68.2 56.1h0M82.4 58.4h0M80.8 53.1h0M69.8 49.4h0M68.7 42.3h0M81.3 62.8h0M68.7 63.6h0M66.1 56.3h0M65.0 63.7h0M78.1 65.1h0M75.9 62.6h0M87.0 40.2h0M85.3 38.5h0M75.0 59.7h0M83.4 52.1h0M79.1 69.8h0M66.8 65.3h0M78.9 69.0h0M82.6 53.9h0M83.6 42.0h0M70.0 46.1h0M73.6 49.9h0M69.8 41.8h0M77.1 59.1h0M77.4 52.6h0M73.8 70.5h0M85.1 45.3h0M66.6 63.3h0M82.1 41.1h0M76.4 78.1h0M75.9 42.2h0M75.9 79.7h0M62.4 55.5h0M77.7 43.9h0" stroke="#dddddd" stroke-width="1.3" stroke-linecap="round" fill="none"/>
<path d="M87.1 30.3h0M98.1 38.1h0M100.5 43.9h0M86.7 29.4h0M93.6 42.4h0M92.5 31.1h0M103.9 41.0h0M101.3 40.8h0M101.1 39.7h0M95.8 42.9h0M93.1 42.2h0M100.5 36.3h0M96.1 36.8h0M92.2 32.1h0M102.4 39.9h0" stroke="#9a90c8" stroke-width="1.3" stroke-linecap="round" fill="none"/>
<path d="M62.2 38.2h0M61.0 43.8h0M50.6 51.9h0M60.2 46.7h0M52.2 59.0h0M57.6 51.4h0M60.0 44.9h0M60.4 48.3h0M62.8 41.5h0M65.7 38.3h0M59.4 55.2h0M54.6 57.2h0M56.3 68.2h0M57.3 51.3h0M49.6 59.0h0M60.3 46.0h0M51.0 45.6h0M52.5 59.0h0M55.0 68.1h0M56.6 59.4h0M55.4 54.0h0M47.7 69.2h0M48.0 58.2h0M62.4 41.7h0M59.7 44.8h0M55.0 51.4h0M48.5 53.2h0M48.3 50.8h0M64.1 37.6h0M49.5 54.4h0M52.2 71.2h0M49.7 60.6h0M52.3 43.8h0M55.2 61.8h0M49.6 58.8h0M62.2 42.2h0M53.0 56.9h0M51.9 58.7h0M64.7 44.1h0M55.9 53.4h0M59.5 37.7h0M63.1 39.0h0M52.5 72.5h0M58.4 42.7h0M55.1 56.0h0M47.3 61.0h0M61.9 37.8h0M60.6 38.6h0M58.0 44.4h0M51.4 49.9h0M65.3 44.1h0M50.2 59.2h0M56.5 68.8h0M49.6 61.1h0M57.2 56.1h0M50.9 65.3h0M62.4 45.2h0M53.7 65.8h0M50.8 70.4h0M62.1 42.5h0M49.5 47.4h0M56.3 59.6h0M58.5 39.9h0M61.4 51.4h0M49.0 48.4h0M67.4 37.9h0M54.8 40.9h0M57.6 41.5h0M64.4 42.1h0M55.9 65.3h0M48.0 61.7h0M56.9 63.7h0M53.2 48.4h0M63.7 37.5h0M48.0 49.8h0M49.1 49.4h0M47.1 62.3h0M49.1 70.4h0M50.7 65.7h0M52.4 70.4h0M51.0 64.4h0M53.3 49.5h0M56.1 56.3h0M59.9 52.0h0M55.1 69.6h0M51.9 52.2h0M50.1 55.5h0M49.1 65.9h0M52.4 58.3h0M49.9 53.8h0M50.3 44.8h0M51.0 53.6h0M46.5 61.5h0M58.1 50.4h0M52.2 62.7h0M48.1 65.6h0M55.9 65.7h0M57.1 44.3h0M57.5 48.3h0M59.8 52.6h0M47.8 61.9h0M49.5 70.0h0M51.4 67.1h0M67.4 40.2h0M58.5 44.5h0M53.8 60.5h0M53.8 50.4h0M56.7 62.5h0M52.8 59.7h0M51.2 50.3h0M50.7 63.3h0M53.3 55.6h0M55.4 59.7h0M53.0 68.9h0M61.0 37.4h0M53.9 53.4h0M48.3 50.8h0M53.9 41.7h0M55.2 44.7h0M66.7 42.9h0M54.8 56.9h0M64.2 39.0h0M59.0 56.2h0M51.7 68.8h0M66.5 42.8h0M49.2 60.6h0M54.1 54.8h0M65.3 44.1h0M58.7 39.8h0M63.7 47.9h0M58.2 43.0h0M61.7 39.6h0M51.1 45.0h0M57.3 40.4h0M49.6 51.8h0M56.6 66.0h0M54.0 75.1h0M54.6 53.5h0M52.3 69.3h0M47.5 61.4h0M58.1 49.5h0M52.7 64.8h0M58.6 47.2h0M57.3 47.5h0M53.9 71.4h0M61.6 44.3h0M48.6 59.2h0M52.2 72.0h0M58.0 43.1h0M50.4 57.6h0M50.0 60.9h0M64.5 37.6h0M58.0 56.3h0M56.2 44.5h0M54.3 64.7h0M50.0 70.1h0M53.4 74.0h0M62.9 37.9h0M55.5 73.1h0M65.5 38.0h0M51.8 49.6h0M60.5 40.5h0M61.8 40.5h0M59.2 43.0h0M53.9 64.5h0M59.9 38.8h0M57.5 61.8h0M51.4 71.7h0M55.3 68.4h0M58.1 53.6h0M54.8 43.1h0M61.3 44.7h0M64.3 39.6h0M50.2 67.4h0M65.3 40.7h0M54.2 60.3h0M60.4 50.0h0M49.7 62.0h0M50.1 71.0h0M52.3 52.9h0M49.6 53.4h0M50.6 58.1h0M55.1 50.6h0M52.4 52.6h0M51.5 69.6h0M54.1 48.9h0M51.2 57.0h0M59.2 39.1h0M52.3 61.0h0M63.4 36.6h0M52.6 74.9h0M54.5 53.0h0M49.7 65.7h0M50.4 55.2h0M51.2 47.1h0M59.6 45.0h0M48.3 67.3h0M51.0 60.5h0M53.5 52.4h0M47.6 59.4h0M61.6 41.7h0M51.1 71.4h0M65.1 45.5h0M54.7 52.0h0M53.8 64.9h0M64.5 39.2h0M52.3 54.4h0M56.9 55.9h0M49.3 47.3h0M49.0 47.1h0M61.7 49.9h0M53.7 57.0h0M54.1 48.6h0M55.6 45.6h0M54.1 72.1h0M60.1 51.3h0M47.6 63.2h0M50.6 44.7h0M55.8 68.7h0M51.0 67.5h0M50.9 69.5h0M49.0 69.4h0M53.4 65.5h0M50.5 71.9h0M63.1 38.3h0M60.1 48.3h0M49.1 46.8h0M55.7 41.8h0M53.6 42.6h0M48.4 67.5h0M64.8 85.3h0M54.1 83.2h0M58.6 71.9h0M73.4 92.2h0M76.4 96.7h0M71.2 88.2h0M66.4 78.9h0M66.5 77.3h0M52.5 86.8h0M64.2 70.8h0M55.4 94.8h0M63.4 70.9h0M66.1 73.6h0M64.4 86.2h0M63.9 89.3h0M55.3 96.3h0M70.6 93.2h0M53.0 80.3h0M72.9 79.8h0M76.6 87.3h0M70.2 97.8h0M53.4 82.6h0M68.3 95.9h0M59.6 88.5h0M68.0 65.7h0M68.1 102.2h0M70.7 68.4h0M64.8 98.8h0M59.2 84.9h0M62.7 74.2h0M74.6 88.8h0M58.2 95.8h0M71.3 93.3h0M57.0 89.1h0M60.7 71.4h0M57.6 83.9h0M52.3 88.3h0M61.6 93.0h0M66.0 77.9h0M77.6 89.3h0M60.5 84.7h0M60.9 79.2h0M52.2 96.2h0M62.4 76.0h0M75.6 88.2h0M67.2 73.2h0M66.2 93.8h0M73.6 90.7h0M68.3 86.7h0M76.1 91.5h0M60.1 82.9h0M63.9 101.7h0M61.6 102.0h0M61.4 88.4h0M68.0 76.5h0M65.0 94.4h0M65.3 80.0h0M61.9 73.1h0M68.2 90.2h0M59.5 82.9h0M59.8 73.1h0M74.3 89.7h0M63.6 78.1h0M74.2 92.2h0M58.6 84.2h0M59.5 96.2h0M64.6 70.6h0M56.6 89.4h0M68.4 98.6h0M73.0 99.8h0M67.1 72.2h0M53.1 78.4h0M63.4 83.7h0M54.3 98.8h0M71.0 91.2h0M71.8 71.2h0M77.0 88.1h0M68.0 64.9h0M56.9 97.8h0M67.0 88.8h0M78.4 92.6h0M67.8 82.4h0M55.3 91.8h0M56.8 80.4h0M73.3 99.4h0M60.9 90.5h0M64.4 83.7h0M56.6 88.8h0M74.3 84.2h0M56.0 88.6h0M71.5 71.9h0M53.1 98.8h0M69.8 100.4h0M71.2 89.4h0M53.2 94.6h0M52.8 100.1h0M64.4 78.7h0M71.0 92.7h0M72.5 75.3h0M68.6 101.6h0M72.7 99.8h0M65.1 83.9h0M55.8 79.3h0M64.4 75.2h0M63.3 68.3h0M52.5 99.6h0M56.2 85.0h0M63.6 71.0h0M59.2 79.9h0M72.0 99.5h0M57.5 76.5h0M69.1 94.9h0M70.2 67.7h0M59.8 87.8h0M72.5 67.8h0M65.6 93.0h0M69.4 78.3h0M61.0 82.1h0M55.6 90.4h0M58.0 91.3h0M51.7 95.6h0M69.7 78.7h0M57.9 87.9h0M65.6 82.7h0M54.3 94.5h0M69.3 70.3h0M60.1 90.8h0M51.6 94.4h0M69.2 78.0h0M72.3 73.2h0M61.2 103.4h0M73.0 75.2h0M54.6 84.6h0M63.8 100.0h0M69.6 86.8h0M72.8 100.3h0M70.9 79.1h0M57.4 101.4h0M61.5 99.3h0M55.1 86.3h0M76.4 98.5h0M59.1 79.0h0M66.6 94.8h0M56.4 72.8h0M66.1 67.6h0M62.7 77.8h0M61.4 92.6h0M54.3 83.6h0M59.3 88.3h0M65.7 69.4h0M70.7 75.3h0M70.1 75.8h0M69.0 87.0h0M53.8 91.2h0M54.7 78.2h0M64.7 76.7h0M68.3 76.3h0M53.4 88.8h0M68.4 93.1h0M66.2 74.8h0M58.2 71.3h0M63.5 71.2h0M68.1 72.9h0M59.2 80.4h0M55.0 88.5h0M74.9 92.8h0M61.7 73.3h0M58.3 98.1h0M66.2 100.8h0M53.9 93.8h0M110.8 44.7h0M112.9 66.2h0M107.3 67.0h0M109.8 67.4h0M111.6 61.2h0M111.3 66.2h0M108.7 64.7h0M117.1 65.9h0M117.0 65.3h0M113.7 46.6h0M107.6 64.2h0M108.4 63.7h0M110.9 57.7h0M118.2 58.5h0M109.1 62.0h0M119.4 62.1h0M116.7 47.3h0M117.1 47.9h0M116.8 61.1h0M116.2 54.2h0M111.1 59.2h0M115.0 50.3h0M112.9 62.4h0M113.0 49.0h0M114.1 49.7h0M116.7 59.4h0M111.6 49.1h0M105.9 59.9h0M108.6 49.1h0M119.0 62.1h0M110.7 68.6h0M108.3 53.8h0M114.9 48.8h0M109.4 52.4h0M117.9 55.8h0M117.7 61.4h0M111.7 66.5h0M120.1 51.2h0M106.7 57.2h0M116.4 61.2h0M112.7 53.7h0M118.4 48.1h0M112.1 47.0h0M117.8 58.1h0M117.9 60.9h0M110.0 55.3h0M109.7 64.3h0M117.4 45.5h0M110.3 70.8h0M118.5 55.7h0M110.0 56.8h0M107.4 61.0h0M107.5 57.4h0M114.4 45.3h0M119.5 49.7h0M114.2 53.8h0M104.1 63.9h0M113.2 49.1h0M108.2 64.8h0M115.5 57.4h0M110.0 59.0h0M109.4 57.1h0M109.3 50.3h0M106.4 67.0h0M116.3 54.2h0M111.3 47.4h0M118.9 63.8h0M112.6 53.7h0M110.1 68.7h0M105.9 61.1h0M108.4 65.0h0M115.8 55.6h0M108.2 61.7h0M116.3 67.5h0M107.5 63.6h0M114.7 56.7h0M117.7 50.9h0M109.0 58.2h0M107.9 68.5h0M116.0 51.5h0M108.6 48.7h0M108.9 57.8h0M106.9 69.0h0M113.4 46.7h0M108.8 71.1h0M116.9 47.8h0M110.5 62.1h0M114.8 63.2h0M115.7 53.6h0M106.4 61.1h0M94.5 50.6h0M103.4 53.1h0M98.8 46.0h0M96.0 45.8h0M105.7 51.3h0M102.1 47.0h0M105.6 55.1h0M105.4 58.2h0M99.4 53.9h0M103.7 56.1h0M97.5 46.9h0M100.0 46.9h0M106.3 55.3h0M107.1 48.9h0M98.6 52.4h0M102.9 55.7h0M94.7 48.3h0M100.9 52.8h0M99.3 45.5h0M93.4 49.8h0M102.9 49.2h0M102.4 51.6h0M95.0 44.5h0M108.0 53.1h0M105.2 51.3h0M100.1 48.8h0M93.9 47.2h0M108.0 49.9h0M101.9 57.7h0M103.3 50.8h0M105.5 57.2h0M105.6 51.8h0M100.6 51.8h0M103.6 49.8h0M103.3 51.4h0M98.3 53.7h0M96.9 53.1h0M96.2 48.9h0M105.0 55.4h0M108.3 50.4h0M96.5 44.4h0M105.0 47.6h0M94.0 47.3h0M99.1 51.7h0M99.3 46.4h0M95.8 45.6h0M96.8 49.0h0M101.7 46.5h0M108.1 51.5h0M94.6 51.2h0M76.5 38.2h0M75.2 40.1h0M70.7 36.8h0M71.8 40.6h0M82.8 33.9h0M79.2 31.8h0M80.3 31.5h0M69.3 39.0h0M69.0 36.8h0M82.7 33.1h0M74.6 34.9h0M70.4 34.5h0M71.3 34.9h0M73.2 38.0h0M78.4 33.6h0M71.2 36.9h0M85.2 27.5h0M73.5 39.9h0M63.5 36.4h0M85.8 30.1h0M67.6 35.9h0M72.5 41.1h0M69.8 35.1h0M74.3 40.4h0M65.1 38.0h0M79.3 35.2h0M71.2 35.5h0M85.9 31.8h0M74.8 40.0h0M84.4 27.0h0M66.6 40.4h0M79.9 33.1h0M70.4 35.3h0M76.1 32.4h0M69.8 35.9h0M69.4 37.7h0M68.0 35.2h0M73.3 36.1h0M70.3 40.6h0M72.1 36.4h0M68.5 33.5h0M84.6 30.9h0M84.1 32.5h0M82.7 30.0h0M77.4 36.5h0M71.5 34.9h0M69.4 42.4h0M73.2 39.9h0M73.1 32.8h0M79.8 33.0h0M76.7 36.4h0M70.3 40.7h0M80.1 35.1h0M84.3 28.4h0M71.9 36.2h0M71.5 37.3h0M83.0 31.4h0M65.4 37.3h0M74.5 34.9h0M72.4 33.6h0M84.2 29.4h0M72.5 33.5h0M83.1 27.1h0M77.3 36.1h0M81.0 31.8h0M68.6 36.8h0M80.4 28.9h0M71.0 36.4h0M79.0 32.8h0M67.8 37.4h0M72.5 40.6h0M71.7 38.0h0M83.0 33.1h0M69.4 41.3h0M83.3 31.6h0M78.1 35.1h0M76.1 38.9h0M70.0 33.0h0M71.5 40.2h0M77.9 37.4h0M91.4 92.0h0M92.8 91.2h0M84.3 86.8h0M81.5 86.0h0M82.4 85.7h0M87.7 89.3h0M98.1 92.1h0M84.0 88.3h0M85.6 88.1h0M86.7 87.9h0M89.0 90.0h0M85.3 89.1h0" stroke="#fff" stroke-width="0.9" stroke-linecap="round" fill="none" stroke-opacity="0.7"/>
</g>
<line x1="429.3" y1="228.5" x2="429.3" y2="299.4" stroke="#222" stroke-width="1"/>
<line x1="428.8" y1="298.9" x2="498.7" y2="298.9" stroke="#222" stroke-width="1"/>
<line x1="426.3" y1="231.2" x2="429.3" y2="231.2" stroke="#222" stroke-width="0.85"/>
<text transform="translate(423,233.3)" font-size="6" text-anchor="end" fill="#262626" font-weight="normal">6</text>
<line x1="426.3" y1="247.3" x2="429.3" y2="247.3" stroke="#222" stroke-width="0.85"/>
<text transform="translate(423,249.4)" font-size="6" text-anchor="end" fill="#262626" font-weight="normal">3</text>
<line x1="426.3" y1="263.5" x2="429.3" y2="263.5" stroke="#222" stroke-width="0.85"/>
<text transform="translate(423,265.6)" font-size="6" text-anchor="end" fill="#262626" font-weight="normal">0</text>
<line x1="426.3" y1="279.6" x2="429.3" y2="279.6" stroke="#222" stroke-width="0.85"/>
<text transform="translate(423,281.7)" font-size="6" text-anchor="end" fill="#262626" font-weight="normal">−3</text>
<line x1="426.3" y1="296.1" x2="429.3" y2="296.1" stroke="#222" stroke-width="0.85"/>
<text transform="translate(423,298.2)" font-size="6" text-anchor="end" fill="#262626" font-weight="normal">−6</text>
<line x1="443.8" y1="298.9" x2="443.8" y2="301.7" stroke="#222" stroke-width="0.85"/>
<text transform="translate(443.8,310.8)" font-size="6" text-anchor="middle" fill="#262626" font-weight="normal">−5</text>
<line x1="460.1" y1="298.9" x2="460.1" y2="301.7" stroke="#222" stroke-width="0.85"/>
<text transform="translate(460.1,310.8)" font-size="6" text-anchor="middle" fill="#262626" font-weight="normal">0</text>
<line x1="476.2" y1="298.9" x2="476.2" y2="301.7" stroke="#222" stroke-width="0.85"/>
<text transform="translate(476.2,310.8)" font-size="6" text-anchor="middle" fill="#262626" font-weight="normal">5</text>
<line x1="492.4" y1="298.9" x2="492.4" y2="301.7" stroke="#222" stroke-width="0.85"/>
<text transform="translate(492.4,310.8)" font-size="6" text-anchor="middle" fill="#262626" font-weight="normal">10</text>
<text transform="translate(464,320.8) scale(0.66,1)" font-size="8.4" text-anchor="middle" fill="#2a2a2a" font-weight="bold">UMAP 1</text>
<text transform="translate(409.8,263) rotate(-90) scale(0.66,1)" font-size="8.4" text-anchor="middle" fill="#2a2a2a" font-weight="bold">UMAP 2</text>
<text transform="translate(463.7,223.4)" font-size="7.7" text-anchor="middle" fill="#222" font-weight="normal">TPSAB1</text>
<rect x="503.1" y="250.4" width="3.9" height="19.1" fill="url(#gE)"/>
<text transform="translate(510,254.9)" font-size="5.6" text-anchor="start" fill="#262626" font-weight="normal">4</text>
<text transform="translate(510,259.7)" font-size="5.6" text-anchor="start" fill="#262626" font-weight="normal">3</text>
<text transform="translate(510,265.1)" font-size="5.6" text-anchor="start" fill="#262626" font-weight="normal">2</text>
<text transform="translate(510,270.3)" font-size="5.6" text-anchor="start" fill="#262626" font-weight="normal">1</text>
<text transform="translate(246.9,353.7)" font-size="6" text-anchor="end" fill="#262626" font-weight="normal">IMMUNE RESPONSE-ACTIVATING CELL</text>
<text transform="translate(246.9,360.7)" font-size="6" text-anchor="end" fill="#262626" font-weight="normal">SURFACE RECEPTOR SIGNALING PATHWAY</text>
<line x1="250.6" y1="358.6" x2="253.1" y2="358.6" stroke="#222" stroke-width="0.8"/>
<text transform="translate(246.9,367.88)" font-size="6" text-anchor="end" fill="#262626" font-weight="normal">PHAGOSOME ACIDIFICATION</text>
<line x1="250.6" y1="365.78" x2="253.1" y2="365.78" stroke="#222" stroke-width="0.8"/>
<text transform="translate(246.9,375.06)" font-size="6" text-anchor="end" fill="#262626" font-weight="normal">INTRACELLULAR PH REDUCTION</text>
<line x1="250.6" y1="372.96" x2="253.1" y2="372.96" stroke="#222" stroke-width="0.8"/>
<text transform="translate(246.9,382.24)" font-size="6" text-anchor="end" fill="#262626" font-weight="normal">NEUTROPHIL MIGRATION</text>
<line x1="250.6" y1="380.14" x2="253.1" y2="380.14" stroke="#222" stroke-width="0.8"/>
<text transform="translate(246.9,389.42)" font-size="6" text-anchor="end" fill="#262626" font-weight="normal">GRANULOCYTE CHEMOTAXIS</text>
<line x1="250.6" y1="387.32" x2="253.1" y2="387.32" stroke="#222" stroke-width="0.8"/>
<text transform="translate(246.9,396.6)" font-size="6" text-anchor="end" fill="#262626" font-weight="normal">NEUTROPHIL CHEMOTAXIS</text>
<line x1="250.6" y1="394.5" x2="253.1" y2="394.5" stroke="#222" stroke-width="0.8"/>
<text transform="translate(246.9,403.78)" font-size="6" text-anchor="end" fill="#262626" font-weight="normal">INFLAMMATORY RESPONSE</text>
<line x1="250.6" y1="401.68" x2="253.1" y2="401.68" stroke="#222" stroke-width="0.8"/>
<text transform="translate(246.9,410.96)" font-size="6" text-anchor="end" fill="#262626" font-weight="normal">NEUTROPHIL MEDIATED IMMUNITY</text>
<line x1="250.6" y1="408.86" x2="253.1" y2="408.86" stroke="#222" stroke-width="0.8"/>
<text transform="translate(246.9,418.14)" font-size="6" text-anchor="end" fill="#262626" font-weight="normal">NEUTROPHIL DEGRANULATION</text>
<line x1="250.6" y1="416.04" x2="253.1" y2="416.04" stroke="#222" stroke-width="0.8"/>
<text transform="translate(246.9,425.32)" font-size="6" text-anchor="end" fill="#262626" font-weight="normal">NEUTROPHIL ACTIVATION INVOLVED IN IMMUNE RESPONSE</text>
<line x1="250.6" y1="423.22" x2="253.1" y2="423.22" stroke="#222" stroke-width="0.8"/>
<circle cx="259.6" cy="358.6" r="0.8" fill="#1c2a52"/>
<circle cx="259.6" cy="365.78" r="0.8" fill="#1c2a52"/>
<circle cx="259.6" cy="372.96" r="0.8" fill="#1c2a52"/>
<circle cx="259.6" cy="380.14" r="0.8" fill="#1c2a52"/>
<circle cx="259.6" cy="387.32" r="0.8" fill="#1c2a52"/>
<circle cx="259.6" cy="394.5" r="0.8" fill="#1c2a52"/>
<circle cx="259.6" cy="408.86" r="0.75" fill="#c4c8d4"/>
<circle cx="259.6" cy="416.04" r="0.75" fill="#c4c8d4"/>
<circle cx="259.6" cy="423.22" r="0.75" fill="#c4c8d4"/>
<line x1="253.1" y1="351.5" x2="253.1" y2="427.9" stroke="#222" stroke-width="0.95"/>
<line x1="252.6" y1="427.5" x2="266.7" y2="427.5" stroke="#222" stroke-width="0.95"/>
<line x1="259.6" y1="427.5" x2="259.6" y2="429.8" stroke="#222" stroke-width="0.8"/>
<text transform="translate(259.6,438.8)" font-size="6" text-anchor="middle" fill="#262626" font-weight="normal">spUTD</text>
<text transform="translate(274.2,362.5)" font-size="6" fill="#262626">−log10(<tspan font-style="italic">P</tspan>-value)</text>
<rect x="274.2" y="365.2" width="3.6" height="16.6" fill="url(#gF)"/>
<text transform="translate(281.2,369.6)" font-size="6" text-anchor="start" fill="#262626" font-weight="normal">60</text>
<text transform="translate(281.2,375.1)" font-size="6" text-anchor="start" fill="#262626" font-weight="normal">40</text>
<text transform="translate(281.2,381.3)" font-size="6" text-anchor="start" fill="#262626" font-weight="normal">20</text>
<text transform="translate(274.2,394.1)" font-size="6" text-anchor="start" fill="#262626" font-weight="normal">Odds ratio</text>
<circle cx="276" cy="397.3" r="0.35" fill="#222"/>
<text transform="translate(280.7,399.4)" font-size="6" text-anchor="start" fill="#262626" font-weight="normal">10</text>
<circle cx="276" cy="402.35" r="0.5" fill="#222"/>
<text transform="translate(280.7,404.45)" font-size="6" text-anchor="start" fill="#262626" font-weight="normal">15</text>
<circle cx="276" cy="407.4" r="0.65" fill="#222"/>
<text transform="translate(280.7,409.5)" font-size="6" text-anchor="start" fill="#262626" font-weight="normal">20</text>
<circle cx="276" cy="412.45" r="0.8" fill="#222"/>
<text transform="translate(280.7,414.55)" font-size="6" text-anchor="start" fill="#262626" font-weight="normal">25</text>
<circle cx="276" cy="417.5" r="0.95" fill="#222"/>
<text transform="translate(280.7,419.6)" font-size="6" text-anchor="start" fill="#262626" font-weight="normal">30</text>
<text transform="translate(246.9,455.7)" font-size="6" text-anchor="end" fill="#262626" font-weight="normal">FC-EPSILON RECEPTOR SIGNALING PATHWAY</text>
<line x1="250.6" y1="453.6" x2="253.1" y2="453.6" stroke="#222" stroke-width="0.8"/>
<text transform="translate(246.9,462.91)" font-size="6" text-anchor="end" fill="#262626" font-weight="normal">REGULATION OF STEM CELL DIFFERENCIATION</text>
<line x1="250.6" y1="460.81" x2="253.1" y2="460.81" stroke="#222" stroke-width="0.8"/>
<text transform="translate(246.9,470.12)" font-size="6" text-anchor="end" fill="#262626" font-weight="normal">FC RECEPTOR SIGNALING PATHWAY</text>
<line x1="250.6" y1="468.02" x2="253.1" y2="468.02" stroke="#222" stroke-width="0.8"/>
<text transform="translate(246.9,477.33)" font-size="6" text-anchor="end" fill="#262626" font-weight="normal">REGULATION OF HEMATOPOYETIC PROGENITOR CELL DIFFERENTIATION</text>
<line x1="250.6" y1="475.23" x2="253.1" y2="475.23" stroke="#222" stroke-width="0.8"/>
<text transform="translate(246.9,484.54)" font-size="6" text-anchor="end" fill="#262626" font-weight="normal">T CELL RECEPTOR SIGNALING PATHWAY</text>
<line x1="250.6" y1="482.44" x2="253.1" y2="482.44" stroke="#222" stroke-width="0.8"/>
<text transform="translate(246.9,491.75)" font-size="6" text-anchor="end" fill="#262626" font-weight="normal">REGULATION OF HEMATOPOYETIC STEM CELL DIFFERENTIATION</text>
<line x1="250.6" y1="489.65" x2="253.1" y2="489.65" stroke="#222" stroke-width="0.8"/>
<text transform="translate(246.9,498.96)" font-size="6" text-anchor="end" fill="#262626" font-weight="normal">NEGATIVE REGULATION OF CELL CYCLE G2M PHASE TRANSITION</text>
<line x1="250.6" y1="496.86" x2="253.1" y2="496.86" stroke="#222" stroke-width="0.8"/>
<text transform="translate(246.9,506.17)" font-size="6" text-anchor="end" fill="#262626" font-weight="normal">NEGATIVE REGULATION OF MITOTIC CELL CYCLE PHASE TRANSITION</text>
<line x1="250.6" y1="504.07" x2="253.1" y2="504.07" stroke="#222" stroke-width="0.8"/>
<text transform="translate(246.9,513.38)" font-size="6" text-anchor="end" fill="#262626" font-weight="normal">NEGATIVE REGULATION OF G2/M TRANSITION OF MITOTIC CELL CYCLE</text>
<line x1="250.6" y1="511.28" x2="253.1" y2="511.28" stroke="#222" stroke-width="0.8"/>
<text transform="translate(246.9,520.59)" font-size="6" text-anchor="end" fill="#262626" font-weight="normal">CYTOKINE-MEDIATED SIGNALING PATHWAY</text>
<line x1="250.6" y1="518.49" x2="253.1" y2="518.49" stroke="#222" stroke-width="0.8"/>
<circle cx="259.6" cy="453.6" r="0.75" fill="#c4c8d4"/>
<circle cx="259.6" cy="460.81" r="0.8" fill="#1c2a52"/>
<circle cx="259.6" cy="468.02" r="0.75" fill="#c4c8d4"/>
<circle cx="259.6" cy="475.23" r="0.8" fill="#1c2a52"/>
<circle cx="259.6" cy="482.44" r="0.7" fill="#5a6a90"/>
<circle cx="259.6" cy="489.65" r="0.8" fill="#1c2a52"/>
<circle cx="259.6" cy="496.86" r="0.8" fill="#1c2a52"/>
<circle cx="259.6" cy="504.07" r="0.8" fill="#1c2a52"/>
<circle cx="259.6" cy="511.28" r="0.8" fill="#1c2a52"/>
<line x1="253.1" y1="447.9" x2="253.1" y2="522.9" stroke="#222" stroke-width="0.95"/>
<line x1="252.6" y1="522.5" x2="266.7" y2="522.5" stroke="#222" stroke-width="0.95"/>
<line x1="259.6" y1="522.5" x2="259.6" y2="524.8" stroke="#222" stroke-width="0.8"/>
<text transform="translate(259.6,533.8)" font-size="6" text-anchor="middle" fill="#262626" font-weight="normal">spCAR</text>
<text transform="translate(274.2,459.6)" font-size="6" fill="#262626">−log10(<tspan font-style="italic">P</tspan>-value)</text>
<rect x="274.2" y="463.7" width="3.6" height="16.3" fill="url(#gF)"/>
<text transform="translate(281.2,468.1)" font-size="6" text-anchor="start" fill="#262626" font-weight="normal">20</text>
<text transform="translate(281.2,473.7)" font-size="6" text-anchor="start" fill="#262626" font-weight="normal">18</text>
<text transform="translate(281.2,479.3)" font-size="6" text-anchor="start" fill="#262626" font-weight="normal">16</text>
<text transform="translate(274.2,492.1)" font-size="6" text-anchor="start" fill="#262626" font-weight="normal">Odds ratio</text>
<circle cx="276" cy="499.3" r="0.45" fill="#222"/>
<text transform="translate(280.7,501.4)" font-size="6" text-anchor="start" fill="#262626" font-weight="normal">6</text>
<circle cx="276" cy="504.8" r="0.65" fill="#222"/>
<text transform="translate(280.7,506.9)" font-size="6" text-anchor="start" fill="#262626" font-weight="normal">9</text>
<circle cx="276" cy="510.3" r="0.85" fill="#222"/>
<text transform="translate(280.7,512.4)" font-size="6" text-anchor="start" fill="#262626" font-weight="normal">12</text>
<circle cx="276" cy="515.8" r="1.05" fill="#222"/>
<text transform="translate(280.7,517.9)" font-size="6" text-anchor="start" fill="#262626" font-weight="normal">15</text>
<path d="M392.4,370.3 L392.4,370.8 L392.4,371.2 L392.4,371.7 L392.4,372.2 L392.4,372.6 L392.4,373.1 L392.5,373.6 L392.5,374.1 L392.5,374.5 L392.5,375.0 L392.5,375.5 L392.5,375.9 L392.6,376.4 L392.7,376.9 L392.7,377.3 L392.8,377.8 L393.0,378.3 L393.1,378.8 L393.1,379.2 L393.2,379.7 L393.3,380.2 L393.4,380.6 L393.5,381.1 L393.5,381.6 L393.5,382.0 L393.4,382.5 L393.3,383.0 L393.2,383.4 L393.1,383.9 L392.9,384.4 L392.8,384.9 L392.9,385.3 L393.2,385.8 L393.7,386.3 L394.5,386.7 L395.2,387.2 L389.2,387.2 L389.9,386.7 L390.7,386.3 L391.2,385.8 L391.5,385.3 L391.6,384.9 L391.5,384.4 L391.3,383.9 L391.2,383.4 L391.1,383.0 L391.0,382.5 L390.9,382.0 L390.9,381.6 L390.9,381.1 L391.0,380.6 L391.1,380.2 L391.2,379.7 L391.3,379.2 L391.3,378.8 L391.4,378.3 L391.6,377.8 L391.7,377.3 L391.7,376.9 L391.8,376.4 L391.9,375.9 L391.9,375.5 L391.9,375.0 L391.9,374.5 L391.9,374.1 L391.9,373.6 L391.9,373.1 L391.9,372.6 L391.9,372.2 L391.9,371.7 L391.9,371.2 L391.9,370.8 L391.9,370.3Z" fill="#3aa6e2" stroke="#3a3a3a" stroke-width="0.35" stroke-linejoin="round"/>
<line x1="392.2" y1="370.3" x2="392.2" y2="376.4" stroke="#333" stroke-width="0.7"/>
<path d="M409.3,357.1 L409.3,357.6 L409.3,358.0 L409.3,358.5 L409.3,359.0 L409.3,359.4 L409.4,359.9 L409.4,360.3 L409.4,360.8 L409.4,361.3 L409.5,361.7 L409.5,362.2 L409.5,362.7 L409.6,363.1 L409.7,363.6 L409.8,364.0 L410.1,364.5 L410.3,365.0 L410.6,365.4 L410.8,365.9 L411.1,366.4 L411.4,366.8 L411.7,367.3 L412.0,367.8 L412.2,368.2 L412.5,368.7 L412.8,369.1 L413.1,369.6 L413.4,370.1 L413.6,370.5 L413.8,371.0 L413.9,371.5 L413.9,371.9 L413.8,372.4 L413.6,372.8 L413.5,373.3 L413.3,373.8 L413.1,374.2 L412.9,374.7 L412.7,375.2 L412.5,375.6 L412.5,376.1 L412.7,376.5 L413.2,377.0 L413.7,377.5 L414.2,377.9 L414.8,378.4 L415.4,378.9 L416.0,379.3 L416.5,379.8 L416.9,380.3 L416.9,380.7 L416.7,381.2 L416.5,381.6 L416.2,382.1 L415.8,382.6 L415.3,383.0 L414.7,383.5 L414.0,384.0 L413.6,384.4 L413.5,384.9 L413.4,385.3 L413.3,385.8 L413.5,386.3 L414.5,386.7 L415.1,387.2 L403.1,387.2 L403.7,386.7 L404.7,386.3 L404.9,385.8 L404.8,385.3 L404.7,384.9 L404.6,384.4 L404.2,384.0 L403.5,383.5 L402.9,383.0 L402.4,382.6 L402.0,382.1 L401.7,381.6 L401.5,381.2 L401.3,380.7 L401.3,380.3 L401.7,379.8 L402.2,379.3 L402.8,378.9 L403.4,378.4 L404.0,377.9 L404.5,377.5 L405.0,377.0 L405.5,376.5 L405.7,376.1 L405.7,375.6 L405.5,375.2 L405.3,374.7 L405.1,374.2 L404.9,373.8 L404.7,373.3 L404.6,372.8 L404.4,372.4 L404.3,371.9 L404.3,371.5 L404.4,371.0 L404.6,370.5 L404.8,370.1 L405.1,369.6 L405.4,369.1 L405.7,368.7 L406.0,368.2 L406.2,367.8 L406.5,367.3 L406.8,366.8 L407.1,366.4 L407.4,365.9 L407.6,365.4 L407.9,365.0 L408.1,364.5 L408.4,364.0 L408.5,363.6 L408.6,363.1 L408.7,362.7 L408.7,362.2 L408.7,361.7 L408.8,361.3 L408.8,360.8 L408.8,360.3 L408.8,359.9 L408.8,359.4 L408.8,359.0 L408.8,358.5 L408.8,358.0 L408.8,357.6 L408.8,357.1Z" fill="#3aa6e2" stroke="#3a3a3a" stroke-width="0.35" stroke-linejoin="round"/>
<line x1="409.1" y1="357.1" x2="409.1" y2="362.19" stroke="#333" stroke-width="0.7"/>
<path d="M426.2,367.2 L426.2,367.7 L426.2,368.1 L426.2,368.6 L426.3,369.1 L426.3,369.5 L426.4,370.0 L426.4,370.5 L426.5,370.9 L426.6,371.4 L426.7,371.9 L426.9,372.3 L427.0,372.8 L427.2,373.2 L427.4,373.7 L427.6,374.2 L427.8,374.6 L427.9,375.1 L428.0,375.6 L427.9,376.0 L427.9,376.5 L427.8,377.0 L428.0,377.4 L428.5,377.9 L429.1,378.4 L429.4,378.8 L429.8,379.3 L430.1,379.8 L430.3,380.2 L430.3,380.7 L430.2,381.2 L430.0,381.6 L429.7,382.1 L429.5,382.5 L429.1,383.0 L428.5,383.5 L428.1,383.9 L427.8,384.4 L427.8,384.9 L427.8,385.3 L427.8,385.8 L428.1,386.3 L429.3,386.7 L430.0,387.2 L422.0,387.2 L422.7,386.7 L423.9,386.3 L424.2,385.8 L424.2,385.3 L424.2,384.9 L424.2,384.4 L423.9,383.9 L423.5,383.5 L422.9,383.0 L422.5,382.5 L422.3,382.1 L422.0,381.6 L421.8,381.2 L421.7,380.7 L421.7,380.2 L421.9,379.8 L422.2,379.3 L422.6,378.8 L422.9,378.4 L423.5,377.9 L424.0,377.4 L424.2,377.0 L424.1,376.5 L424.1,376.0 L424.0,375.6 L424.1,375.1 L424.2,374.6 L424.4,374.2 L424.6,373.7 L424.8,373.2 L425.0,372.8 L425.1,372.3 L425.3,371.9 L425.4,371.4 L425.5,370.9 L425.6,370.5 L425.6,370.0 L425.7,369.5 L425.7,369.1 L425.8,368.6 L425.8,368.1 L425.8,367.7 L425.8,367.2Z" fill="#3aa6e2" stroke="#3a3a3a" stroke-width="0.35" stroke-linejoin="round"/>
<line x1="426" y1="367.2" x2="426" y2="369.99" stroke="#333" stroke-width="0.7"/>
<path d="M443.1,361.2 L443.1,361.7 L443.1,362.1 L443.2,362.6 L443.2,363.1 L443.3,363.5 L443.4,364.0 L443.5,364.4 L443.6,364.9 L443.7,365.4 L443.9,365.8 L444.1,366.3 L444.4,366.8 L444.7,367.2 L444.9,367.7 L445.2,368.2 L445.4,368.6 L445.7,369.1 L445.9,369.6 L446.1,370.0 L446.3,370.5 L446.5,370.9 L446.6,371.4 L446.7,371.9 L446.8,372.3 L446.9,372.8 L446.9,373.3 L446.8,373.7 L446.7,374.2 L446.5,374.7 L446.4,375.1 L446.4,375.6 L446.5,376.1 L446.8,376.5 L447.2,377.0 L447.7,377.4 L448.1,377.9 L448.6,378.4 L449.3,378.8 L449.9,379.3 L450.3,379.8 L450.4,380.2 L450.3,380.7 L450.1,381.2 L449.9,381.6 L449.6,382.1 L449.3,382.6 L448.8,383.0 L448.3,383.5 L447.9,383.9 L447.7,384.4 L447.5,384.9 L447.4,385.3 L447.6,385.8 L448.3,386.3 L449.3,386.7 L450.9,387.2 L434.9,387.2 L436.5,386.7 L437.5,386.3 L438.2,385.8 L438.4,385.3 L438.3,384.9 L438.1,384.4 L437.9,383.9 L437.5,383.5 L437.0,383.0 L436.5,382.6 L436.2,382.1 L435.9,381.6 L435.7,381.2 L435.5,380.7 L435.4,380.2 L435.5,379.8 L435.9,379.3 L436.5,378.8 L437.2,378.4 L437.7,377.9 L438.1,377.4 L438.6,377.0 L439.0,376.5 L439.3,376.1 L439.4,375.6 L439.4,375.1 L439.3,374.7 L439.1,374.2 L439.0,373.7 L438.9,373.3 L438.9,372.8 L439.0,372.3 L439.1,371.9 L439.2,371.4 L439.3,370.9 L439.5,370.5 L439.7,370.0 L439.9,369.6 L440.1,369.1 L440.4,368.6 L440.6,368.2 L440.9,367.7 L441.1,367.2 L441.4,366.8 L441.7,366.3 L441.9,365.8 L442.1,365.4 L442.2,364.9 L442.3,364.4 L442.4,364.0 L442.5,363.5 L442.6,363.1 L442.6,362.6 L442.6,362.1 L442.6,361.7 L442.6,361.2Z" fill="#3aa6e2" stroke="#3a3a3a" stroke-width="0.35" stroke-linejoin="round"/>
<line x1="442.9" y1="361.2" x2="442.9" y2="363.52" stroke="#333" stroke-width="0.7"/>
<path d="M460.0,368.3 L460.0,368.8 L460.0,369.2 L460.0,369.7 L460.0,370.2 L460.0,370.7 L460.1,371.1 L460.1,371.6 L460.1,372.1 L460.1,372.6 L460.1,373.0 L460.2,373.5 L460.2,374.0 L460.2,374.4 L460.3,374.9 L460.3,375.4 L460.4,375.9 L460.5,376.3 L460.6,376.8 L460.6,377.3 L460.7,377.8 L460.9,378.2 L461.1,378.7 L461.3,379.2 L461.5,379.6 L461.6,380.1 L461.7,380.6 L461.8,381.1 L461.8,381.5 L461.7,382.0 L461.6,382.5 L461.4,382.9 L461.2,383.4 L461.0,383.9 L460.8,384.4 L460.7,384.8 L460.8,385.3 L461.2,385.8 L461.7,386.3 L462.9,386.7 L463.8,387.2 L455.8,387.2 L456.7,386.7 L457.9,386.3 L458.4,385.8 L458.8,385.3 L458.9,384.8 L458.8,384.4 L458.6,383.9 L458.4,383.4 L458.2,382.9 L458.0,382.5 L457.9,382.0 L457.8,381.5 L457.8,381.1 L457.9,380.6 L458.0,380.1 L458.1,379.6 L458.3,379.2 L458.5,378.7 L458.7,378.2 L458.9,377.8 L459.0,377.3 L459.0,376.8 L459.1,376.3 L459.2,375.9 L459.3,375.4 L459.3,374.9 L459.4,374.4 L459.4,374.0 L459.4,373.5 L459.5,373.0 L459.5,372.6 L459.5,372.1 L459.5,371.6 L459.5,371.1 L459.5,370.7 L459.5,370.2 L459.5,369.7 L459.5,369.2 L459.5,368.8 L459.5,368.3Z" fill="#3aa6e2" stroke="#3a3a3a" stroke-width="0.35" stroke-linejoin="round"/>
<line x1="459.8" y1="368.3" x2="459.8" y2="373.97" stroke="#333" stroke-width="0.7"/>
<path d="M392.4,395.6 L392.4,396.1 L392.4,396.5 L392.4,397.0 L392.4,397.5 L392.4,398.0 L392.4,398.4 L392.4,398.9 L392.4,399.4 L392.4,399.9 L392.4,400.3 L392.4,400.8 L392.4,401.3 L392.4,401.8 L392.4,402.2 L392.4,402.7 L392.4,403.2 L392.4,403.7 L392.4,404.1 L392.4,404.6 L392.4,405.1 L392.4,405.6 L392.4,406.0 L392.4,406.5 L392.4,407.0 L392.4,407.4 L392.4,407.9 L392.4,408.4 L392.4,408.9 L392.4,409.3 L392.4,409.8 L392.4,410.3 L392.4,410.8 L392.4,411.2 L392.4,411.7 L392.4,412.2 L392.4,412.7 L392.4,413.1 L392.4,413.6 L392.4,414.1 L392.4,414.6 L392.4,415.0 L392.4,415.5 L392.4,416.0 L392.4,416.5 L392.6,416.9 L392.7,417.4 L391.7,417.4 L391.8,416.9 L391.9,416.5 L391.9,416.0 L391.9,415.5 L391.9,415.0 L391.9,414.6 L391.9,414.1 L391.9,413.6 L391.9,413.1 L391.9,412.7 L391.9,412.2 L391.9,411.7 L391.9,411.2 L391.9,410.8 L391.9,410.3 L391.9,409.8 L391.9,409.3 L391.9,408.9 L391.9,408.4 L391.9,407.9 L391.9,407.4 L391.9,407.0 L391.9,406.5 L391.9,406.0 L391.9,405.6 L391.9,405.1 L391.9,404.6 L391.9,404.1 L391.9,403.7 L391.9,403.2 L391.9,402.7 L391.9,402.2 L391.9,401.8 L391.9,401.3 L391.9,400.8 L391.9,400.3 L391.9,399.9 L391.9,399.4 L391.9,398.9 L391.9,398.4 L391.9,398.0 L391.9,397.5 L391.9,397.0 L391.9,396.5 L391.9,396.1 L391.9,395.6Z" fill="#3aa838" stroke="#3a3a3a" stroke-width="0.35" stroke-linejoin="round"/>
<line x1="392.2" y1="395.6" x2="392.2" y2="416.93" stroke="#333" stroke-width="0.7"/>
<path d="M409.3,388.5 L409.3,389.0 L409.3,389.4 L409.3,389.9 L409.3,390.4 L409.3,390.8 L409.3,391.3 L409.3,391.8 L409.3,392.2 L409.3,392.7 L409.3,393.2 L409.3,393.6 L409.3,394.1 L409.4,394.6 L409.4,395.0 L409.4,395.5 L409.4,396.0 L409.4,396.4 L409.4,396.9 L409.4,397.4 L409.4,397.8 L409.4,398.3 L409.4,398.8 L409.4,399.2 L409.4,399.7 L409.5,400.2 L409.5,400.6 L409.5,401.1 L409.5,401.6 L409.5,402.0 L409.5,402.5 L409.5,402.9 L409.5,403.4 L409.6,403.9 L409.6,404.3 L409.6,404.8 L409.6,405.3 L409.7,405.7 L409.7,406.2 L409.8,406.7 L409.9,407.1 L410.0,407.6 L410.1,408.1 L410.1,408.5 L410.1,409.0 L410.0,409.5 L409.9,409.9 L409.8,410.4 L409.7,410.9 L409.7,411.3 L409.7,411.8 L409.6,412.3 L409.6,412.7 L409.6,413.2 L409.6,413.7 L409.6,414.1 L409.6,414.6 L409.6,415.1 L409.8,415.5 L410.1,416.0 L410.6,416.5 L411.4,416.9 L412.1,417.4 L406.1,417.4 L406.8,416.9 L407.6,416.5 L408.1,416.0 L408.4,415.5 L408.6,415.1 L408.6,414.6 L408.6,414.1 L408.6,413.7 L408.6,413.2 L408.6,412.7 L408.6,412.3 L408.5,411.8 L408.5,411.3 L408.5,410.9 L408.4,410.4 L408.3,409.9 L408.2,409.5 L408.1,409.0 L408.1,408.5 L408.1,408.1 L408.2,407.6 L408.3,407.1 L408.4,406.7 L408.5,406.2 L408.5,405.7 L408.6,405.3 L408.6,404.8 L408.6,404.3 L408.6,403.9 L408.7,403.4 L408.7,402.9 L408.7,402.5 L408.7,402.0 L408.7,401.6 L408.7,401.1 L408.7,400.6 L408.7,400.2 L408.8,399.7 L408.8,399.2 L408.8,398.8 L408.8,398.3 L408.8,397.8 L408.8,397.4 L408.8,396.9 L408.8,396.4 L408.8,396.0 L408.8,395.5 L408.8,395.0 L408.8,394.6 L408.8,394.1 L408.8,393.6 L408.8,393.2 L408.8,392.7 L408.8,392.2 L408.8,391.8 L408.8,391.3 L408.8,390.8 L408.8,390.4 L408.8,389.9 L408.8,389.4 L408.8,389.0 L408.8,388.5Z" fill="#3aa838" stroke="#3a3a3a" stroke-width="0.35" stroke-linejoin="round"/>
<line x1="409.1" y1="388.5" x2="409.1" y2="402.95" stroke="#333" stroke-width="0.7"/>
<path d="M426.2,397.7 L426.2,398.2 L426.2,398.6 L426.2,399.1 L426.2,399.6 L426.2,400.0 L426.2,400.5 L426.2,401.0 L426.3,401.5 L426.3,401.9 L426.3,402.4 L426.3,402.9 L426.3,403.3 L426.3,403.8 L426.4,404.3 L426.4,404.7 L426.4,405.2 L426.5,405.7 L426.6,406.1 L426.8,406.6 L426.9,407.1 L427.1,407.5 L427.2,408.0 L427.3,408.5 L427.5,409.0 L427.6,409.4 L427.8,409.9 L427.8,410.4 L427.8,410.8 L427.6,411.3 L427.5,411.8 L427.3,412.2 L427.1,412.7 L427.0,413.2 L426.8,413.6 L426.6,414.1 L426.6,414.6 L426.7,415.1 L426.9,415.5 L427.3,416.0 L427.7,416.5 L428.8,416.9 L429.5,417.4 L422.5,417.4 L423.2,416.9 L424.3,416.5 L424.7,416.0 L425.1,415.5 L425.3,415.1 L425.4,414.6 L425.4,414.1 L425.2,413.6 L425.0,413.2 L424.9,412.7 L424.7,412.2 L424.5,411.8 L424.4,411.3 L424.2,410.8 L424.2,410.4 L424.2,409.9 L424.4,409.4 L424.5,409.0 L424.7,408.5 L424.8,408.0 L424.9,407.5 L425.1,407.1 L425.2,406.6 L425.4,406.1 L425.5,405.7 L425.6,405.2 L425.6,404.7 L425.6,404.3 L425.7,403.8 L425.7,403.3 L425.7,402.9 L425.7,402.4 L425.7,401.9 L425.7,401.5 L425.8,401.0 L425.8,400.5 L425.8,400.0 L425.8,399.6 L425.8,399.1 L425.8,398.6 L425.8,398.2 L425.8,397.7Z" fill="#3aa838" stroke="#3a3a3a" stroke-width="0.35" stroke-linejoin="round"/>
<line x1="426" y1="397.7" x2="426" y2="405.2" stroke="#333" stroke-width="0.7"/>
<path d="M443.1,394.6 L443.1,395.1 L443.1,395.5 L443.1,396.0 L443.1,396.5 L443.1,396.9 L443.1,397.4 L443.1,397.9 L443.1,398.3 L443.1,398.8 L443.1,399.3 L443.1,399.7 L443.2,400.2 L443.2,400.6 L443.2,401.1 L443.2,401.6 L443.2,402.0 L443.2,402.5 L443.2,403.0 L443.2,403.4 L443.2,403.9 L443.3,404.4 L443.3,404.8 L443.3,405.3 L443.4,405.8 L443.4,406.2 L443.5,406.7 L443.5,407.2 L443.6,407.6 L443.6,408.1 L443.7,408.6 L443.8,409.0 L443.8,409.5 L443.9,410.0 L443.9,410.4 L443.9,410.9 L443.7,411.4 L443.6,411.8 L443.5,412.3 L443.5,412.7 L443.5,413.2 L443.4,413.7 L443.4,414.1 L443.4,414.6 L443.4,415.1 L443.4,415.5 L443.6,416.0 L444.1,416.5 L444.9,416.9 L445.9,417.4 L439.9,417.4 L440.9,416.9 L441.7,416.5 L442.2,416.0 L442.4,415.5 L442.4,415.1 L442.4,414.6 L442.4,414.1 L442.4,413.7 L442.3,413.2 L442.3,412.7 L442.3,412.3 L442.2,411.8 L442.1,411.4 L441.9,410.9 L441.9,410.4 L441.9,410.0 L442.0,409.5 L442.0,409.0 L442.1,408.6 L442.2,408.1 L442.2,407.6 L442.3,407.2 L442.3,406.7 L442.4,406.2 L442.4,405.8 L442.5,405.3 L442.5,404.8 L442.5,404.4 L442.6,403.9 L442.6,403.4 L442.6,403.0 L442.6,402.5 L442.6,402.0 L442.6,401.6 L442.6,401.1 L442.6,400.6 L442.6,400.2 L442.6,399.7 L442.6,399.3 L442.6,398.8 L442.6,398.3 L442.6,397.9 L442.6,397.4 L442.6,396.9 L442.6,396.5 L442.6,396.0 L442.6,395.5 L442.6,395.1 L442.6,394.6Z" fill="#3aa838" stroke="#3a3a3a" stroke-width="0.35" stroke-linejoin="round"/>
<line x1="442.9" y1="394.6" x2="442.9" y2="404.84" stroke="#333" stroke-width="0.7"/>
<path d="M460.4,388.2 L460.5,388.7 L460.6,389.1 L460.8,389.6 L461.0,390.1 L461.2,390.5 L461.3,391.0 L461.5,391.4 L461.6,391.9 L461.8,392.4 L461.9,392.8 L462.1,393.3 L462.3,393.8 L462.5,394.2 L462.6,394.7 L462.8,395.2 L462.9,395.6 L463.0,396.1 L463.1,396.5 L463.2,397.0 L463.2,397.5 L463.3,397.9 L463.3,398.4 L463.3,398.9 L463.2,399.3 L463.0,399.8 L462.7,400.3 L462.5,400.7 L462.3,401.2 L462.2,401.6 L462.0,402.1 L461.9,402.6 L461.8,403.0 L461.9,403.5 L462.2,404.0 L462.5,404.4 L462.9,404.9 L463.3,405.3 L463.7,405.8 L464.1,406.3 L464.5,406.7 L464.7,407.2 L464.9,407.7 L465.0,408.1 L465.1,408.6 L465.1,409.1 L464.9,409.5 L464.7,410.0 L464.4,410.4 L464.2,410.9 L463.8,411.4 L463.4,411.8 L462.9,412.3 L462.6,412.8 L462.6,413.2 L462.7,413.7 L462.8,414.2 L462.9,414.6 L463.1,415.1 L463.6,415.5 L464.3,416.0 L465.0,416.5 L465.5,416.9 L465.8,417.4 L453.8,417.4 L454.1,416.9 L454.6,416.5 L455.3,416.0 L456.0,415.5 L456.5,415.1 L456.7,414.6 L456.8,414.2 L456.9,413.7 L457.0,413.2 L457.0,412.8 L456.7,412.3 L456.2,411.8 L455.8,411.4 L455.4,410.9 L455.2,410.4 L454.9,410.0 L454.7,409.5 L454.5,409.1 L454.5,408.6 L454.6,408.1 L454.7,407.7 L454.9,407.2 L455.1,406.7 L455.5,406.3 L455.9,405.8 L456.3,405.3 L456.7,404.9 L457.1,404.4 L457.4,404.0 L457.7,403.5 L457.8,403.0 L457.7,402.6 L457.6,402.1 L457.4,401.6 L457.3,401.2 L457.1,400.7 L456.9,400.3 L456.6,399.8 L456.4,399.3 L456.3,398.9 L456.3,398.4 L456.3,397.9 L456.4,397.5 L456.4,397.0 L456.5,396.5 L456.6,396.1 L456.7,395.6 L456.8,395.2 L457.0,394.7 L457.1,394.2 L457.3,393.8 L457.5,393.3 L457.7,392.8 L457.8,392.4 L458.0,391.9 L458.1,391.4 L458.3,391.0 L458.4,390.5 L458.6,390.1 L458.8,389.6 L459.0,389.1 L459.1,388.7 L459.2,388.2Z" fill="#3aa838" stroke="#3a3a3a" stroke-width="0.35" stroke-linejoin="round"/>
<path d="M392.4,435.2 L392.4,435.7 L392.4,436.1 L392.4,436.6 L392.4,437.1 L392.4,437.6 L392.4,438.1 L392.4,438.5 L392.4,439.0 L392.4,439.5 L392.4,439.9 L392.4,440.4 L392.4,440.9 L392.4,441.4 L392.4,441.9 L392.4,442.3 L392.4,442.8 L392.4,443.3 L392.4,443.8 L392.4,444.2 L392.4,444.7 L392.4,445.2 L392.4,445.6 L392.4,446.1 L392.4,446.6 L392.4,447.1 L392.5,447.6 L392.6,448.0 L392.7,448.5 L391.7,448.5 L391.8,448.0 L391.9,447.6 L391.9,447.1 L391.9,446.6 L391.9,446.1 L391.9,445.6 L391.9,445.2 L391.9,444.7 L391.9,444.2 L391.9,443.8 L391.9,443.3 L391.9,442.8 L391.9,442.3 L391.9,441.9 L391.9,441.4 L391.9,440.9 L391.9,440.4 L391.9,439.9 L391.9,439.5 L391.9,439.0 L391.9,438.5 L391.9,438.1 L391.9,437.6 L391.9,437.1 L391.9,436.6 L391.9,436.1 L391.9,435.7 L391.9,435.2Z" fill="#d0112b" stroke="#3a3a3a" stroke-width="0.35" stroke-linejoin="round"/>
<line x1="392.2" y1="435.2" x2="392.2" y2="448.02" stroke="#333" stroke-width="0.7"/>
<path d="M409.3,420.0 L409.3,420.5 L409.3,420.9 L409.3,421.4 L409.3,421.9 L409.3,422.3 L409.4,422.8 L409.4,423.3 L409.4,423.7 L409.4,424.2 L409.5,424.7 L409.5,425.1 L409.6,425.6 L409.7,426.1 L409.9,426.5 L410.1,427.0 L410.4,427.5 L410.7,427.9 L411.0,428.4 L411.3,428.9 L411.6,429.3 L411.8,429.8 L412.1,430.3 L412.3,430.7 L412.4,431.2 L412.4,431.7 L412.4,432.1 L412.4,432.6 L412.4,433.1 L412.3,433.5 L412.3,434.0 L412.3,434.5 L412.2,435.0 L412.1,435.4 L412.1,435.9 L412.3,436.4 L412.9,436.8 L413.6,437.3 L414.3,437.8 L415.2,438.2 L416.1,438.7 L416.5,439.2 L416.3,439.6 L415.8,440.1 L415.2,440.6 L414.6,441.0 L414.0,441.5 L413.3,442.0 L412.8,442.4 L412.4,442.9 L412.3,443.4 L412.2,443.8 L412.2,444.3 L412.1,444.8 L412.1,445.2 L412.1,445.7 L412.3,446.2 L412.5,446.6 L412.8,447.1 L413.1,447.6 L413.4,448.0 L413.6,448.5 L404.6,448.5 L404.8,448.0 L405.1,447.6 L405.4,447.1 L405.7,446.6 L405.9,446.2 L406.1,445.7 L406.1,445.2 L406.1,444.8 L406.0,444.3 L406.0,443.8 L405.9,443.4 L405.8,442.9 L405.4,442.4 L404.9,442.0 L404.2,441.5 L403.6,441.0 L403.0,440.6 L402.4,440.1 L401.9,439.6 L401.7,439.2 L402.1,438.7 L403.0,438.2 L403.9,437.8 L404.6,437.3 L405.3,436.8 L405.9,436.4 L406.1,435.9 L406.1,435.4 L406.0,435.0 L405.9,434.5 L405.9,434.0 L405.9,433.5 L405.8,433.1 L405.8,432.6 L405.8,432.1 L405.8,431.7 L405.8,431.2 L405.9,430.7 L406.1,430.3 L406.4,429.8 L406.6,429.3 L406.9,428.9 L407.2,428.4 L407.5,427.9 L407.8,427.5 L408.1,427.0 L408.3,426.5 L408.5,426.1 L408.6,425.6 L408.7,425.1 L408.7,424.7 L408.8,424.2 L408.8,423.7 L408.8,423.3 L408.8,422.8 L408.8,422.3 L408.8,421.9 L408.8,421.4 L408.8,420.9 L408.8,420.5 L408.8,420.0Z" fill="#d0112b" stroke="#3a3a3a" stroke-width="0.35" stroke-linejoin="round"/>
<line x1="409.1" y1="420" x2="409.1" y2="425.14" stroke="#333" stroke-width="0.7"/>
<path d="M426.2,437.2 L426.2,437.7 L426.2,438.2 L426.2,438.7 L426.2,439.2 L426.2,439.7 L426.2,440.1 L426.2,440.6 L426.2,441.1 L426.2,441.6 L426.2,442.1 L426.2,442.6 L426.2,443.1 L426.2,443.6 L426.2,444.1 L426.2,444.6 L426.2,445.1 L426.2,445.6 L426.2,446.0 L426.2,446.5 L426.2,447.0 L426.3,447.5 L426.4,448.0 L426.5,448.5 L425.5,448.5 L425.6,448.0 L425.7,447.5 L425.8,447.0 L425.8,446.5 L425.8,446.0 L425.8,445.6 L425.8,445.1 L425.8,444.6 L425.8,444.1 L425.8,443.6 L425.8,443.1 L425.8,442.6 L425.8,442.1 L425.8,441.6 L425.8,441.1 L425.8,440.6 L425.8,440.1 L425.8,439.7 L425.8,439.2 L425.8,438.7 L425.8,438.2 L425.8,437.7 L425.8,437.2Z" fill="#d0112b" stroke="#3a3a3a" stroke-width="0.35" stroke-linejoin="round"/>
<line x1="426" y1="437.2" x2="426" y2="448.01" stroke="#333" stroke-width="0.7"/>
<path d="M443.1,422.0 L443.1,422.5 L443.1,422.9 L443.1,423.4 L443.2,423.9 L443.2,424.3 L443.2,424.8 L443.3,425.3 L443.3,425.7 L443.4,426.2 L443.5,426.6 L443.5,427.1 L443.6,427.6 L443.7,428.0 L443.9,428.5 L444.1,429.0 L444.3,429.4 L444.5,429.9 L444.7,430.4 L444.9,430.8 L445.2,431.3 L445.5,431.8 L445.9,432.2 L446.2,432.7 L446.5,433.2 L446.9,433.6 L447.2,434.1 L447.6,434.6 L447.9,435.0 L448.3,435.5 L448.7,435.9 L449.1,436.4 L449.5,436.9 L449.9,437.3 L450.2,437.8 L450.3,438.3 L450.3,438.7 L450.2,439.2 L450.0,439.7 L449.8,440.1 L449.7,440.6 L449.4,441.1 L449.0,441.5 L448.7,442.0 L448.3,442.5 L447.9,442.9 L447.7,443.4 L447.3,443.9 L447.1,444.3 L446.9,444.8 L446.9,445.2 L447.1,445.7 L447.3,446.2 L447.6,446.6 L447.7,447.1 L447.9,447.6 L448.0,448.0 L448.1,448.5 L437.7,448.5 L437.8,448.0 L437.9,447.6 L438.1,447.1 L438.2,446.6 L438.5,446.2 L438.7,445.7 L438.9,445.2 L438.9,444.8 L438.7,444.3 L438.5,443.9 L438.1,443.4 L437.9,442.9 L437.5,442.5 L437.1,442.0 L436.8,441.5 L436.4,441.1 L436.1,440.6 L436.0,440.1 L435.8,439.7 L435.6,439.2 L435.5,438.7 L435.5,438.3 L435.6,437.8 L435.9,437.3 L436.3,436.9 L436.7,436.4 L437.1,435.9 L437.5,435.5 L437.9,435.0 L438.2,434.6 L438.6,434.1 L438.9,433.6 L439.3,433.2 L439.6,432.7 L439.9,432.2 L440.3,431.8 L440.6,431.3 L440.9,430.8 L441.1,430.4 L441.3,429.9 L441.5,429.4 L441.7,429.0 L441.9,428.5 L442.1,428.0 L442.2,427.6 L442.3,427.1 L442.3,426.6 L442.4,426.2 L442.5,425.7 L442.5,425.3 L442.6,424.8 L442.6,424.3 L442.6,423.9 L442.6,423.4 L442.6,422.9 L442.6,422.5 L442.6,422.0Z" fill="#d0112b" stroke="#3a3a3a" stroke-width="0.35" stroke-linejoin="round"/>
<line x1="442.9" y1="422" x2="442.9" y2="425.25" stroke="#333" stroke-width="0.7"/>
<path d="M460.0,427.0 L460.0,427.5 L460.0,427.9 L460.1,428.4 L460.1,428.9 L460.2,429.3 L460.3,429.8 L460.4,430.3 L460.5,430.7 L460.6,431.2 L460.8,431.7 L460.9,432.1 L461.0,432.6 L461.0,433.1 L460.9,433.5 L460.8,434.0 L460.6,434.5 L460.5,434.9 L460.4,435.4 L460.4,435.9 L460.5,436.3 L460.7,436.8 L461.0,437.3 L461.4,437.8 L462.0,438.2 L462.6,438.7 L464.0,439.2 L465.5,439.6 L466.7,440.1 L466.6,440.6 L465.7,441.0 L464.5,441.5 L463.5,442.0 L462.5,442.4 L461.5,442.9 L460.9,443.4 L460.7,443.8 L460.5,444.3 L460.4,444.8 L460.4,445.2 L460.3,445.7 L460.3,446.2 L460.3,446.6 L460.3,447.1 L460.4,447.6 L460.4,448.0 L460.4,448.5 L459.2,448.5 L459.2,448.0 L459.2,447.6 L459.3,447.1 L459.3,446.6 L459.3,446.2 L459.3,445.7 L459.2,445.2 L459.2,444.8 L459.1,444.3 L458.9,443.8 L458.7,443.4 L458.1,442.9 L457.1,442.4 L456.1,442.0 L455.1,441.5 L453.9,441.0 L453.0,440.6 L452.9,440.1 L454.1,439.6 L455.6,439.2 L457.0,438.7 L457.6,438.2 L458.2,437.8 L458.6,437.3 L458.9,436.8 L459.1,436.3 L459.2,435.9 L459.2,435.4 L459.1,434.9 L459.0,434.5 L458.8,434.0 L458.7,433.5 L458.6,433.1 L458.6,432.6 L458.7,432.1 L458.8,431.7 L459.0,431.2 L459.1,430.7 L459.2,430.3 L459.3,429.8 L459.4,429.3 L459.5,428.9 L459.5,428.4 L459.5,427.9 L459.5,427.5 L459.5,427.0Z" fill="#d0112b" stroke="#3a3a3a" stroke-width="0.35" stroke-linejoin="round"/>
<line x1="459.8" y1="427" x2="459.8" y2="429.34" stroke="#333" stroke-width="0.7"/>
<rect x="382.5" y="356.3" width="86.3" height="92.2" fill="none" stroke="#222" stroke-width="0.95"/>
<line x1="382.5" y1="387.2" x2="468.8" y2="387.2" stroke="#222" stroke-width="0.95"/>
<line x1="382.5" y1="417.4" x2="468.8" y2="417.4" stroke="#222" stroke-width="0.95"/>
<line x1="468.8" y1="362.5" x2="471" y2="362.5" stroke="#222" stroke-width="0.8"/>
<line x1="468.8" y1="368.5" x2="471" y2="368.5" stroke="#222" stroke-width="0.8"/>
<line x1="468.8" y1="374.5" x2="471" y2="374.5" stroke="#222" stroke-width="0.8"/>
<line x1="468.8" y1="381" x2="471" y2="381" stroke="#222" stroke-width="0.8"/>
<line x1="468.8" y1="394.8" x2="471" y2="394.8" stroke="#222" stroke-width="0.8"/>
<line x1="468.8" y1="402.6" x2="471" y2="402.6" stroke="#222" stroke-width="0.8"/>
<line x1="468.8" y1="410.2" x2="471" y2="410.2" stroke="#222" stroke-width="0.8"/>
<line x1="468.8" y1="421" x2="471" y2="421" stroke="#222" stroke-width="0.8"/>
<line x1="468.8" y1="430.6" x2="471" y2="430.6" stroke="#222" stroke-width="0.8"/>
<line x1="468.8" y1="440" x2="471" y2="440" stroke="#222" stroke-width="0.8"/>
<text transform="translate(474.8,364.5)" font-size="5.7" text-anchor="start" fill="#262626" font-weight="normal">0.1</text>
<text transform="translate(474.8,396.8)" font-size="5.7" text-anchor="start" fill="#262626" font-weight="normal">0.06</text>
<text transform="translate(474.8,423)" font-size="5.7" text-anchor="start" fill="#262626" font-weight="normal">0.3</text>
<text transform="translate(491.6,402.6) rotate(90) scale(0.76,1)" font-size="6.6" text-anchor="middle" fill="#333" font-weight="bold">Expression level</text>
<text transform="translate(379.2,377.5)" font-size="6.1" text-anchor="end" fill="#262626" font-weight="normal">TGFβ receptors</text>
<text transform="translate(379.2,406.7)" font-size="6.1" text-anchor="end" fill="#262626" font-weight="normal">TNF receptors</text>
<text transform="translate(379.2,435.8)" font-size="6.1" text-anchor="end" fill="#262626" font-weight="normal">IL1 receptors</text>
<text transform="translate(394.2,451.3) rotate(-90)" font-size="5.9" text-anchor="end" fill="#383838" font-weight="normal">Neutrophils</text>
<text transform="translate(411.1,451.3) rotate(-90)" font-size="5.9" text-anchor="end" fill="#383838" font-weight="normal">Neutrophil precursors</text>
<text transform="translate(428,451.3) rotate(-90)" font-size="5.9" text-anchor="end" fill="#383838" font-weight="normal">Monocytes</text>
<text transform="translate(444.9,451.3) rotate(-90)" font-size="5.9" text-anchor="end" fill="#383838" font-weight="normal">Monocyte precursors</text>
<text transform="translate(461.8,451.3) rotate(-90)" font-size="5.9" text-anchor="end" fill="#383838" font-weight="normal">Erythroid precursors</text>
</svg>
</body></html>
